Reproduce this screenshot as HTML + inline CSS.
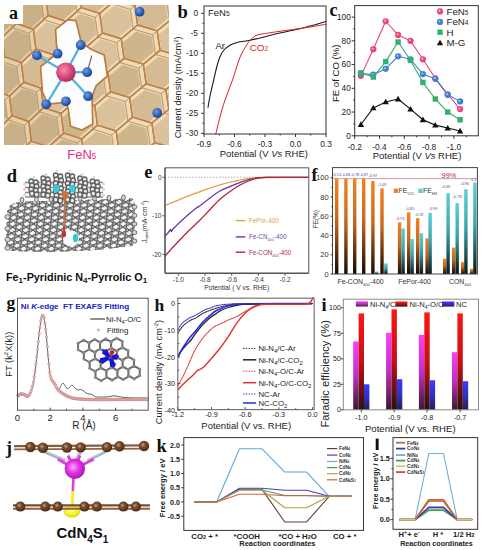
<!DOCTYPE html>
<html><head><meta charset="utf-8"><title>Figure</title>
<style>html,body{margin:0;padding:0;background:#fff;width:481px;height:550px;overflow:hidden;font-family:"Liberation Sans", sans-serif;}svg{display:block;}</style>
</head><body>
<svg width="481" height="550" viewBox="0 0 481 550"><defs><clipPath id="clipA"><polygon points="4,24 23,24 23,5 169,5 169,145 4,145"/></clipPath><radialGradient id="gN" cx="0.38" cy="0.35" r="0.7"><stop offset="0" stop-color="#6d9ee0"/><stop offset="0.6" stop-color="#2f62b8"/><stop offset="1" stop-color="#1d3f86"/></radialGradient><radialGradient id="gFe" cx="0.4" cy="0.38" r="0.7"><stop offset="0" stop-color="#f58db0"/><stop offset="0.55" stop-color="#d9457a"/><stop offset="1" stop-color="#a3274f"/></radialGradient><clipPath id="clipDL"><path d="M7,212 C8,206 12,203 20,202 L60,200.5 L100,199.5 L131,198.5 C134,199 135,202 135,206 L134,242 C134,245 132,246 128,246.5 L95,250 L50,252 L14,251 C8,250.5 6,248 6,245 Z"/></clipPath><clipPath id="clipDU"><path d="M24,182 L48,180.5 L52,175 L58,173 L76,173 L81,176 L84,180.5 L105,181.5 L105,200 L84,201 L80,205 L52,206 L48,202 L24,201 Z"/></clipPath><linearGradient id="gOr" x1="0" y1="0" x2="0" y2="1"><stop offset="0" stop-color="#f58220"/><stop offset="0.45" stop-color="#c8661c"/><stop offset="1" stop-color="#150a04"/></linearGradient><linearGradient id="gTe" x1="0" y1="0" x2="0" y2="1"><stop offset="0" stop-color="#5ccfd6"/><stop offset="0.45" stop-color="#3aa7ad"/><stop offset="1" stop-color="#06191a"/></linearGradient><linearGradient id="gMa" x1="0" y1="0" x2="0" y2="1"><stop offset="0" stop-color="#ff3cff"/><stop offset="0.5" stop-color="#c02ec8"/><stop offset="1" stop-color="#3a1a2a"/></linearGradient><linearGradient id="gRe" x1="0" y1="0" x2="0" y2="1"><stop offset="0" stop-color="#ff1515"/><stop offset="0.5" stop-color="#c41212"/><stop offset="1" stop-color="#2a1010"/></linearGradient><linearGradient id="gBl" x1="0" y1="0" x2="0" y2="1"><stop offset="0" stop-color="#3a3aff"/><stop offset="0.5" stop-color="#3030c8"/><stop offset="1" stop-color="#24204a"/></linearGradient><radialGradient id="gC" cx="0.4" cy="0.38" r="0.65"><stop offset="0" stop-color="#c9a285"/><stop offset="0.35" stop-color="#7a4d2e"/><stop offset="1" stop-color="#4a2a14"/></radialGradient><radialGradient id="gCd" cx="0.42" cy="0.42" r="0.65"><stop offset="0" stop-color="#ffa8ff"/><stop offset="0.45" stop-color="#e234e2"/><stop offset="1" stop-color="#a414ac"/></radialGradient><radialGradient id="gS" cx="0.45" cy="0.4" r="0.7"><stop offset="0" stop-color="#ffff9a"/><stop offset="0.6" stop-color="#f2ee22"/><stop offset="1" stop-color="#c8c000"/></radialGradient></defs><rect x="0" y="0" width="481" height="550" fill="#fff" stroke="none" stroke-width="1" />
<g clip-path="url(#clipA)">
<rect x="0" y="0" width="481" height="160" fill="#ead3ad" stroke="none" stroke-width="1" />
<polygon points="-18.34,123.63 -2.15,129.45 0.25,149.05 -13.64,162.83 -29.56,157.02 -31.86,137.42" fill="#e4cfaa" stroke="none" stroke-width="1" />
<polygon points="-19.69,130.07 -6.8,134.72 -4.89,150.4 -15.94,161.43 -28.66,156.77 -30.51,141.09" fill="#c9b089" stroke="none" stroke-width="1" />
<polygon points="0.25,149.05 16.87,154.87 19.34,174.47 5.08,188.25 -11.28,182.43 -13.64,162.83" fill="#e4cfaa" stroke="none" stroke-width="1" />
<polygon points="-1.14,155.48 12.1,160.14 14.06,175.82 2.72,186.84 -10.35,182.19 -12.25,166.51" fill="#c9b089" stroke="none" stroke-width="1" />
<polygon points="-25.33,64.83 -9.31,70.65 -6.93,90.25 -20.68,104.03 -36.43,98.22 -38.71,78.62" fill="#e4cfaa" stroke="none" stroke-width="1" />
<polygon points="-26.67,71.27 -13.91,75.92 -12.02,91.6 -22.96,102.63 -35.55,97.97 -37.37,82.29" fill="#c9b089" stroke="none" stroke-width="1" />
<polygon points="-6.93,90.25 9.52,96.07 11.96,115.67 -2.15,129.45 -18.34,123.63 -20.68,104.03" fill="#e4cfaa" stroke="none" stroke-width="1" />
<polygon points="-8.31,96.68 4.8,101.34 6.74,117.02 -4.49,128.04 -17.43,123.39 -19.3,107.71" fill="#c9b089" stroke="none" stroke-width="1" />
<polygon points="11.96,115.67 28.85,121.48 31.36,141.08 16.87,154.87 0.25,149.05 -2.15,129.45" fill="#e4cfaa" stroke="none" stroke-width="1" />
<polygon points="10.55,122.1 24.01,126.75 26,142.43 14.47,153.46 1.19,148.81 -0.74,133.13" fill="#c9b089" stroke="none" stroke-width="1" />
<polygon points="31.36,141.08 48.68,146.9 51.25,166.5 36.39,180.28 19.34,174.47 16.87,154.87" fill="#e4cfaa" stroke="none" stroke-width="1" />
<polygon points="29.91,147.52 43.71,152.17 45.75,167.85 33.93,178.88 20.3,174.22 18.32,158.54" fill="#c9b089" stroke="none" stroke-width="1" />
<polygon points="-14.04,31.45 2.25,37.27 4.66,56.87 -9.31,70.65 -25.33,64.83 -27.65,45.23" fill="#e4cfaa" stroke="none" stroke-width="1" />
<polygon points="-15.4,37.88 -2.43,42.54 -0.51,58.22 -11.63,69.24 -24.43,64.59 -26.29,48.91" fill="#c9b089" stroke="none" stroke-width="1" />
<polygon points="4.66,56.87 21.38,62.68 23.87,82.28 9.52,96.07 -6.93,90.25 -9.31,70.65" fill="#e4cfaa" stroke="none" stroke-width="1" />
<polygon points="3.27,63.3 16.59,67.95 18.56,83.63 7.14,94.66 -6.01,90.01 -7.91,74.33" fill="#c9b089" stroke="none" stroke-width="1" />
<polygon points="23.87,82.28 41.02,88.1 43.57,107.7 28.85,121.48 11.96,115.67 9.52,96.07" fill="#e4cfaa" stroke="none" stroke-width="1" />
<polygon points="22.43,88.72 36.1,93.37 38.12,109.05 26.41,120.08 12.91,115.42 10.96,99.74" fill="#c9b089" stroke="none" stroke-width="1" />
<polygon points="43.57,107.7 61.15,113.52 63.76,133.12 48.68,146.9 31.36,141.08 28.85,121.48" fill="#e4cfaa" stroke="none" stroke-width="1" />
<polygon points="42.1,114.13 56.11,118.79 58.19,134.47 46.18,145.49 32.33,140.84 30.32,125.16" fill="#c9b089" stroke="none" stroke-width="1" />
<polygon points="63.76,133.12 81.79,138.93 84.46,158.53 69,172.32 51.25,166.5 48.68,146.9" fill="#e4cfaa" stroke="none" stroke-width="1" />
<polygon points="62.26,139.55 76.62,144.2 78.74,159.88 66.44,170.91 52.25,166.26 50.19,150.58" fill="#c9b089" stroke="none" stroke-width="1" />
<polygon points="84.46,158.53 102.91,164.35 105.65,183.95 89.82,197.73 71.63,191.92 69,172.32" fill="#efdbb6" stroke="none" stroke-width="1" />
<polygon points="82.91,164.96 97.62,169.62 99.8,185.3 87.2,196.32 72.66,191.67 70.55,175.99" fill="#cfb58b" stroke="none" stroke-width="1" />
<polygon points="-21.08,-27.35 -4.96,-21.53 -2.56,-1.93 -16.4,11.85 -32.25,6.03 -34.54,-13.57" fill="#e4cfaa" stroke="none" stroke-width="1" />
<polygon points="-22.42,-20.92 -9.58,-16.26 -7.68,-0.58 -18.69,10.44 -31.36,5.79 -33.19,-9.89" fill="#c9b089" stroke="none" stroke-width="1" />
<polygon points="-2.56,-1.93 13.99,3.88 16.45,23.48 2.25,37.27 -14.04,31.45 -16.4,11.85" fill="#e4cfaa" stroke="none" stroke-width="1" />
<polygon points="-3.95,4.5 9.24,9.15 11.19,24.83 -0.11,35.86 -13.13,31.21 -15.01,15.53" fill="#c9b089" stroke="none" stroke-width="1" />
<polygon points="16.45,23.48 33.44,29.3 35.96,48.9 21.38,62.68 4.66,56.87 2.25,37.27" fill="#e4cfaa" stroke="none" stroke-width="1" />
<polygon points="15.03,29.92 28.57,34.57 30.57,50.25 18.97,61.28 5.6,56.62 3.67,40.94" fill="#c9b089" stroke="none" stroke-width="1" />
<polygon points="35.96,48.9 53.38,54.72 55.96,74.32 41.02,88.1 23.87,82.28 21.38,62.68" fill="#efdbb6" stroke="none" stroke-width="1" />
<polygon points="34.5,55.33 48.39,59.99 50.44,75.67 38.54,86.69 24.83,82.04 22.84,66.36" fill="#d4bb93" stroke="none" stroke-width="1" />
<polygon points="55.96,74.32 73.82,80.13 76.47,99.73 61.15,113.52 43.57,107.7 41.02,88.1" fill="#efdbb6" stroke="none" stroke-width="1" />
<polygon points="54.47,80.75 68.7,85.4 70.81,101.08 58.62,112.11 44.56,107.46 42.52,91.78" fill="#dac39c" stroke="none" stroke-width="1" />
<polygon points="76.47,99.73 94.76,105.55 97.47,125.15 81.79,138.93 63.76,133.12 61.15,113.52" fill="#efdbb6" stroke="none" stroke-width="1" />
<polygon points="74.94,106.16 89.52,110.82 91.67,126.5 79.18,137.52 64.78,132.87 62.69,117.19" fill="#cfb58b" stroke="none" stroke-width="1" />
<polygon points="97.47,125.15 116.19,130.97 118.97,150.57 102.91,164.35 84.46,158.53 81.79,138.93" fill="#efdbb6" stroke="none" stroke-width="1" />
<polygon points="95.9,131.58 110.83,136.23 113.03,151.91 100.25,162.94 85.5,158.29 83.36,142.61" fill="#d4bb93" stroke="none" stroke-width="1" />
<polygon points="118.97,150.57 138.12,156.38 140.96,175.98 124.54,189.77 105.65,183.95 102.91,164.35" fill="#efdbb6" stroke="none" stroke-width="1" />
<polygon points="117.37,157 132.64,161.65 134.89,177.33 121.81,188.36 106.71,183.7 104.52,168.02" fill="#dac39c" stroke="none" stroke-width="1" />
<polygon points="9.1,-35.32 25.93,-29.5 28.42,-9.9 13.99,3.88 -2.56,-1.93 -4.96,-21.53" fill="#e4cfaa" stroke="none" stroke-width="1" />
<polygon points="7.7,-28.88 21.1,-24.23 23.09,-8.55 11.6,2.48 -1.63,-2.18 -3.55,-17.86" fill="#c9b089" stroke="none" stroke-width="1" />
<polygon points="28.42,-9.9 45.68,-4.08 48.24,15.52 33.44,29.3 16.45,23.48 13.99,3.88" fill="#e4cfaa" stroke="none" stroke-width="1" />
<polygon points="26.98,-3.47 40.73,1.19 42.77,16.87 30.98,27.89 17.4,23.24 15.44,7.56" fill="#c9b089" stroke="none" stroke-width="1" />
<polygon points="48.24,15.52 65.93,21.33 68.55,40.93 53.38,54.72 35.96,48.9 33.44,29.3" fill="#efdbb6" stroke="none" stroke-width="1" />
<polygon points="46.76,21.95 60.86,26.6 62.94,42.28 50.86,53.31 36.94,48.66 34.92,32.98" fill="#dac39c" stroke="none" stroke-width="1" />
<polygon points="68.55,40.93 86.68,46.75 89.36,66.35 73.82,80.13 55.96,74.32 53.38,54.72" fill="#efdbb6" stroke="none" stroke-width="1" />
<polygon points="67.04,47.36 81.48,52.02 83.62,67.7 71.24,78.72 56.97,74.07 54.9,58.39" fill="#cfb58b" stroke="none" stroke-width="1" />
<polygon points="89.36,66.35 107.92,72.17 110.67,91.77 94.76,105.55 76.47,99.73 73.82,80.13" fill="#efdbb6" stroke="none" stroke-width="1" />
<polygon points="87.81,72.78 102.6,77.43 104.79,93.11 92.12,104.14 77.5,99.49 75.38,83.81" fill="#d4bb93" stroke="none" stroke-width="1" />
<polygon points="110.67,91.77 129.66,97.58 132.47,117.18 116.19,130.97 97.47,125.15 94.76,105.55" fill="#efdbb6" stroke="none" stroke-width="1" />
<polygon points="109.08,98.2 124.22,102.85 126.46,118.53 113.49,129.56 98.52,124.9 96.35,109.22" fill="#dac39c" stroke="none" stroke-width="1" />
<polygon points="132.47,117.18 151.9,123 154.78,142.6 138.12,156.38 118.97,150.57 116.19,130.97" fill="#efdbb6" stroke="none" stroke-width="1" />
<polygon points="130.85,123.61 146.33,128.27 148.62,143.95 135.36,154.97 120.05,150.32 117.82,134.64" fill="#cfb58b" stroke="none" stroke-width="1" />
<polygon points="154.78,142.6 174.63,148.41 177.57,168.01 160.55,181.8 140.96,175.98 138.12,156.38" fill="#efdbb6" stroke="none" stroke-width="1" />
<polygon points="153.12,149.03 168.95,153.68 171.29,169.36 157.73,180.39 142.07,175.74 139.79,160.06" fill="#d4bb93" stroke="none" stroke-width="1" />
<polygon points="40.59,-43.28 58.11,-37.47 60.71,-17.87 45.68,-4.08 28.42,-9.9 25.93,-29.5" fill="#efdbb6" stroke="none" stroke-width="1" />
<polygon points="39.12,-36.85 53.09,-32.2 55.15,-16.52 43.19,-5.49 29.39,-10.14 27.39,-25.82" fill="#dac39c" stroke="none" stroke-width="1" />
<polygon points="60.71,-17.87 78.67,-12.05 81.33,7.55 65.93,21.33 48.24,15.52 45.68,-4.08" fill="#efdbb6" stroke="none" stroke-width="1" />
<polygon points="59.21,-11.44 73.52,-6.78 75.64,8.9 63.37,19.92 49.24,15.27 47.18,-0.41" fill="#cfb58b" stroke="none" stroke-width="1" />
<polygon points="81.33,7.55 99.72,13.37 102.45,32.97 86.68,46.75 68.55,40.93 65.93,21.33" fill="#efdbb6" stroke="none" stroke-width="1" />
<polygon points="79.79,13.98 94.45,18.63 96.62,34.31 84.06,45.34 69.57,40.69 67.47,25.01" fill="#d4bb93" stroke="none" stroke-width="1" />
<polygon points="102.45,32.97 121.27,38.78 124.06,58.38 107.92,72.17 89.36,66.35 86.68,46.75" fill="#efdbb6" stroke="none" stroke-width="1" />
<polygon points="100.87,39.4 115.88,44.05 118.09,59.73 105.24,70.76 90.41,66.1 88.26,50.42" fill="#dac39c" stroke="none" stroke-width="1" />
<polygon points="124.06,58.38 143.32,64.2 146.17,83.8 129.66,97.58 110.67,91.77 107.92,72.17" fill="#efdbb6" stroke="none" stroke-width="1" />
<polygon points="122.45,64.81 137.8,69.47 140.07,85.15 126.92,96.17 111.74,91.52 109.54,75.84" fill="#cfb58b" stroke="none" stroke-width="1" />
<polygon points="146.17,83.8 165.86,89.61 168.78,109.21 151.9,123 132.47,117.18 129.66,97.58" fill="#efdbb6" stroke="none" stroke-width="1" />
<polygon points="144.52,90.23 160.22,94.88 162.54,110.56 149.1,121.59 133.57,116.94 131.32,101.26" fill="#d4bb93" stroke="none" stroke-width="1" />
<polygon points="168.78,109.21 188.91,115.03 191.88,134.63 174.63,148.41 154.78,142.6 151.9,123" fill="#efdbb6" stroke="none" stroke-width="1" />
<polygon points="167.1,115.65 183.14,120.3 185.51,135.98 171.77,147.01 155.9,142.35 153.59,126.67" fill="#dac39c" stroke="none" stroke-width="1" />
<polygon points="191.88,134.63 212.44,140.45 215.49,160.05 197.87,173.83 177.57,168.01 174.63,148.41" fill="#efdbb6" stroke="none" stroke-width="1" />
<polygon points="190.16,141.06 206.56,145.72 208.98,161.4 194.94,172.42 178.72,167.77 176.36,152.09" fill="#cfb58b" stroke="none" stroke-width="1" />
<polygon points="94.29,-25.83 112.95,-20.02 115.72,-0.42 99.72,13.37 81.33,7.55 78.67,-12.05" fill="#efdbb6" stroke="none" stroke-width="1" />
<polygon points="92.73,-19.4 107.61,-14.75 109.8,0.93 97.07,11.96 82.37,7.3 80.23,-8.38" fill="#d4bb93" stroke="none" stroke-width="1" />
<polygon points="115.72,-0.42 134.81,5.4 137.64,25 121.27,38.78 102.45,32.97 99.72,13.37" fill="#efdbb6" stroke="none" stroke-width="1" />
<polygon points="114.12,6.01 129.34,10.67 131.59,26.35 118.55,37.37 103.51,32.72 101.32,17.04" fill="#dac39c" stroke="none" stroke-width="1" />
<polygon points="137.64,25 157.17,30.81 160.06,50.41 143.32,64.2 124.06,58.38 121.27,38.78" fill="#efdbb6" stroke="none" stroke-width="1" />
<polygon points="136.01,31.43 151.57,36.08 153.87,51.76 140.54,62.79 125.15,58.14 122.91,42.46" fill="#cfb58b" stroke="none" stroke-width="1" />
<polygon points="160.06,50.41 180.02,56.23 182.97,75.83 165.86,89.61 146.17,83.8 143.32,64.2" fill="#efdbb6" stroke="none" stroke-width="1" />
<polygon points="158.39,56.85 174.3,61.5 176.65,77.18 163.02,88.21 147.28,83.55 145,67.87" fill="#d4bb93" stroke="none" stroke-width="1" />
<polygon points="182.97,75.83 203.37,81.65 206.38,101.25 188.91,115.03 168.78,109.21 165.86,89.61" fill="#efdbb6" stroke="none" stroke-width="1" />
<polygon points="181.27,82.26 197.52,86.92 199.93,102.6 186,113.62 169.91,108.97 167.58,93.29" fill="#dac39c" stroke="none" stroke-width="1" />
<polygon points="129.18,-33.8 148.54,-27.99 151.41,-8.39 134.81,5.4 115.72,-0.42 112.95,-20.02" fill="#efdbb6" stroke="none" stroke-width="1" />
<polygon points="127.56,-27.37 142.99,-22.72 145.27,-7.04 132.06,3.99 116.79,-0.66 114.58,-16.34" fill="#cfb58b" stroke="none" stroke-width="1" />
<polygon points="151.41,-8.39 171.2,-2.57 174.13,17.03 157.17,30.81 137.64,25 134.81,5.4" fill="#efdbb6" stroke="none" stroke-width="1" />
<polygon points="149.75,-1.95 165.53,2.7 167.86,18.38 154.35,29.41 138.74,24.75 136.47,9.07" fill="#d4bb93" stroke="none" stroke-width="1" />
<polygon points="174.13,17.03 194.36,22.85 197.35,42.45 180.02,56.23 160.06,50.41 157.17,30.81" fill="#efdbb6" stroke="none" stroke-width="1" />
<polygon points="172.44,23.46 188.57,28.12 190.95,43.8 177.14,54.82 161.18,50.17 158.87,34.49" fill="#dac39c" stroke="none" stroke-width="1" />
<polygon points="197.35,42.45 218.01,48.26 221.07,67.86 203.37,81.65 182.97,75.83 180.02,56.23" fill="#efdbb6" stroke="none" stroke-width="1" />
<polygon points="195.62,48.88 212.1,53.53 214.53,69.21 200.42,80.24 184.12,75.59 181.76,59.91" fill="#cfb58b" stroke="none" stroke-width="1" />
<polygon points="165.36,-41.77 185.43,-35.95 188.4,-16.35 171.2,-2.57 151.41,-8.39 148.54,-27.99" fill="#efdbb6" stroke="none" stroke-width="1" />
<polygon points="163.69,-35.34 179.68,-30.68 182.04,-15 168.35,-3.98 152.52,-8.63 150.23,-24.31" fill="#d4bb93" stroke="none" stroke-width="1" />
<polygon points="188.4,-16.35 208.89,-10.54 211.92,9.06 194.36,22.85 174.13,17.03 171.2,-2.57" fill="#efdbb6" stroke="none" stroke-width="1" />
<polygon points="186.68,-9.92 203.02,-5.27 205.43,10.41 191.44,21.44 175.27,16.79 172.93,1.11" fill="#dac39c" stroke="none" stroke-width="1" />
<polygon points="-22.84,127.63 -6.65,133.45 -4.25,153.05 -18.14,166.83 -34.06,161.02 -36.36,141.42" fill="none" stroke="#a8875e" stroke-width="0.9" stroke-linejoin="round" opacity="0.55"/>
<polygon points="-4.25,153.05 12.37,158.87 14.84,178.47 0.58,192.25 -15.78,186.43 -18.14,166.83" fill="none" stroke="#a8875e" stroke-width="0.9" stroke-linejoin="round" opacity="0.55"/>
<polygon points="-29.83,68.83 -13.81,74.65 -11.43,94.25 -25.18,108.03 -40.93,102.22 -43.21,82.62" fill="none" stroke="#a8875e" stroke-width="0.9" stroke-linejoin="round" opacity="0.55"/>
<polygon points="-11.43,94.25 5.02,100.07 7.46,119.67 -6.65,133.45 -22.84,127.63 -25.18,108.03" fill="none" stroke="#a8875e" stroke-width="0.9" stroke-linejoin="round" opacity="0.55"/>
<polygon points="7.46,119.67 24.35,125.48 26.86,145.08 12.37,158.87 -4.25,153.05 -6.65,133.45" fill="none" stroke="#a8875e" stroke-width="0.9" stroke-linejoin="round" opacity="0.55"/>
<polygon points="26.86,145.08 44.18,150.9 46.75,170.5 31.89,184.28 14.84,178.47 12.37,158.87" fill="none" stroke="#a8875e" stroke-width="0.9" stroke-linejoin="round" opacity="0.55"/>
<polygon points="-18.54,35.45 -2.25,41.27 0.16,60.87 -13.81,74.65 -29.83,68.83 -32.15,49.23" fill="none" stroke="#a8875e" stroke-width="0.9" stroke-linejoin="round" opacity="0.55"/>
<polygon points="0.16,60.87 16.88,66.68 19.37,86.28 5.02,100.07 -11.43,94.25 -13.81,74.65" fill="none" stroke="#a8875e" stroke-width="0.9" stroke-linejoin="round" opacity="0.55"/>
<polygon points="19.37,86.28 36.52,92.1 39.07,111.7 24.35,125.48 7.46,119.67 5.02,100.07" fill="none" stroke="#a8875e" stroke-width="0.9" stroke-linejoin="round" opacity="0.55"/>
<polygon points="39.07,111.7 56.65,117.52 59.26,137.12 44.18,150.9 26.86,145.08 24.35,125.48" fill="none" stroke="#a8875e" stroke-width="0.9" stroke-linejoin="round" opacity="0.55"/>
<polygon points="59.26,137.12 77.29,142.93 79.96,162.53 64.5,176.32 46.75,170.5 44.18,150.9" fill="none" stroke="#a8875e" stroke-width="0.9" stroke-linejoin="round" opacity="0.55"/>
<polygon points="79.96,162.53 98.41,168.35 101.15,187.95 85.32,201.73 67.13,195.92 64.5,176.32" fill="none" stroke="#a8875e" stroke-width="0.9" stroke-linejoin="round" opacity="0.55"/>
<polygon points="-25.58,-23.35 -9.46,-17.53 -7.06,2.07 -20.9,15.85 -36.75,10.03 -39.04,-9.57" fill="none" stroke="#a8875e" stroke-width="0.9" stroke-linejoin="round" opacity="0.55"/>
<polygon points="-7.06,2.07 9.49,7.88 11.95,27.48 -2.25,41.27 -18.54,35.45 -20.9,15.85" fill="none" stroke="#a8875e" stroke-width="0.9" stroke-linejoin="round" opacity="0.55"/>
<polygon points="11.95,27.48 28.94,33.3 31.46,52.9 16.88,66.68 0.16,60.87 -2.25,41.27" fill="none" stroke="#a8875e" stroke-width="0.9" stroke-linejoin="round" opacity="0.55"/>
<polygon points="31.46,52.9 48.88,58.72 51.46,78.32 36.52,92.1 19.37,86.28 16.88,66.68" fill="none" stroke="#a8875e" stroke-width="0.9" stroke-linejoin="round" opacity="0.55"/>
<polygon points="51.46,78.32 69.32,84.13 71.97,103.73 56.65,117.52 39.07,111.7 36.52,92.1" fill="none" stroke="#a8875e" stroke-width="0.9" stroke-linejoin="round" opacity="0.55"/>
<polygon points="71.97,103.73 90.26,109.55 92.97,129.15 77.29,142.93 59.26,137.12 56.65,117.52" fill="none" stroke="#a8875e" stroke-width="0.9" stroke-linejoin="round" opacity="0.55"/>
<polygon points="92.97,129.15 111.69,134.97 114.47,154.57 98.41,168.35 79.96,162.53 77.29,142.93" fill="none" stroke="#a8875e" stroke-width="0.9" stroke-linejoin="round" opacity="0.55"/>
<polygon points="114.47,154.57 133.62,160.38 136.46,179.98 120.04,193.77 101.15,187.95 98.41,168.35" fill="none" stroke="#a8875e" stroke-width="0.9" stroke-linejoin="round" opacity="0.55"/>
<polygon points="4.6,-31.32 21.43,-25.5 23.92,-5.9 9.49,7.88 -7.06,2.07 -9.46,-17.53" fill="none" stroke="#a8875e" stroke-width="0.9" stroke-linejoin="round" opacity="0.55"/>
<polygon points="23.92,-5.9 41.18,-0.08 43.74,19.52 28.94,33.3 11.95,27.48 9.49,7.88" fill="none" stroke="#a8875e" stroke-width="0.9" stroke-linejoin="round" opacity="0.55"/>
<polygon points="43.74,19.52 61.43,25.33 64.05,44.93 48.88,58.72 31.46,52.9 28.94,33.3" fill="none" stroke="#a8875e" stroke-width="0.9" stroke-linejoin="round" opacity="0.55"/>
<polygon points="64.05,44.93 82.18,50.75 84.86,70.35 69.32,84.13 51.46,78.32 48.88,58.72" fill="none" stroke="#a8875e" stroke-width="0.9" stroke-linejoin="round" opacity="0.55"/>
<polygon points="84.86,70.35 103.42,76.17 106.17,95.77 90.26,109.55 71.97,103.73 69.32,84.13" fill="none" stroke="#a8875e" stroke-width="0.9" stroke-linejoin="round" opacity="0.55"/>
<polygon points="106.17,95.77 125.16,101.58 127.97,121.18 111.69,134.97 92.97,129.15 90.26,109.55" fill="none" stroke="#a8875e" stroke-width="0.9" stroke-linejoin="round" opacity="0.55"/>
<polygon points="127.97,121.18 147.4,127 150.28,146.6 133.62,160.38 114.47,154.57 111.69,134.97" fill="none" stroke="#a8875e" stroke-width="0.9" stroke-linejoin="round" opacity="0.55"/>
<polygon points="150.28,146.6 170.13,152.41 173.07,172.01 156.05,185.8 136.46,179.98 133.62,160.38" fill="none" stroke="#a8875e" stroke-width="0.9" stroke-linejoin="round" opacity="0.55"/>
<polygon points="36.09,-39.28 53.61,-33.47 56.21,-13.87 41.18,-0.08 23.92,-5.9 21.43,-25.5" fill="none" stroke="#a8875e" stroke-width="0.9" stroke-linejoin="round" opacity="0.55"/>
<polygon points="56.21,-13.87 74.17,-8.05 76.83,11.55 61.43,25.33 43.74,19.52 41.18,-0.08" fill="none" stroke="#a8875e" stroke-width="0.9" stroke-linejoin="round" opacity="0.55"/>
<polygon points="76.83,11.55 95.22,17.37 97.95,36.97 82.18,50.75 64.05,44.93 61.43,25.33" fill="none" stroke="#a8875e" stroke-width="0.9" stroke-linejoin="round" opacity="0.55"/>
<polygon points="97.95,36.97 116.77,42.78 119.56,62.38 103.42,76.17 84.86,70.35 82.18,50.75" fill="none" stroke="#a8875e" stroke-width="0.9" stroke-linejoin="round" opacity="0.55"/>
<polygon points="119.56,62.38 138.82,68.2 141.67,87.8 125.16,101.58 106.17,95.77 103.42,76.17" fill="none" stroke="#a8875e" stroke-width="0.9" stroke-linejoin="round" opacity="0.55"/>
<polygon points="141.67,87.8 161.36,93.61 164.28,113.21 147.4,127 127.97,121.18 125.16,101.58" fill="none" stroke="#a8875e" stroke-width="0.9" stroke-linejoin="round" opacity="0.55"/>
<polygon points="164.28,113.21 184.41,119.03 187.38,138.63 170.13,152.41 150.28,146.6 147.4,127" fill="none" stroke="#a8875e" stroke-width="0.9" stroke-linejoin="round" opacity="0.55"/>
<polygon points="187.38,138.63 207.94,144.45 210.99,164.05 193.37,177.83 173.07,172.01 170.13,152.41" fill="none" stroke="#a8875e" stroke-width="0.9" stroke-linejoin="round" opacity="0.55"/>
<polygon points="89.79,-21.83 108.45,-16.02 111.22,3.58 95.22,17.37 76.83,11.55 74.17,-8.05" fill="none" stroke="#a8875e" stroke-width="0.9" stroke-linejoin="round" opacity="0.55"/>
<polygon points="111.22,3.58 130.31,9.4 133.14,29 116.77,42.78 97.95,36.97 95.22,17.37" fill="none" stroke="#a8875e" stroke-width="0.9" stroke-linejoin="round" opacity="0.55"/>
<polygon points="133.14,29 152.67,34.81 155.56,54.41 138.82,68.2 119.56,62.38 116.77,42.78" fill="none" stroke="#a8875e" stroke-width="0.9" stroke-linejoin="round" opacity="0.55"/>
<polygon points="155.56,54.41 175.52,60.23 178.47,79.83 161.36,93.61 141.67,87.8 138.82,68.2" fill="none" stroke="#a8875e" stroke-width="0.9" stroke-linejoin="round" opacity="0.55"/>
<polygon points="178.47,79.83 198.87,85.65 201.88,105.25 184.41,119.03 164.28,113.21 161.36,93.61" fill="none" stroke="#a8875e" stroke-width="0.9" stroke-linejoin="round" opacity="0.55"/>
<polygon points="124.68,-29.8 144.04,-23.99 146.91,-4.39 130.31,9.4 111.22,3.58 108.45,-16.02" fill="none" stroke="#a8875e" stroke-width="0.9" stroke-linejoin="round" opacity="0.55"/>
<polygon points="146.91,-4.39 166.7,1.43 169.63,21.03 152.67,34.81 133.14,29 130.31,9.4" fill="none" stroke="#a8875e" stroke-width="0.9" stroke-linejoin="round" opacity="0.55"/>
<polygon points="169.63,21.03 189.86,26.85 192.85,46.45 175.52,60.23 155.56,54.41 152.67,34.81" fill="none" stroke="#a8875e" stroke-width="0.9" stroke-linejoin="round" opacity="0.55"/>
<polygon points="192.85,46.45 213.51,52.26 216.57,71.86 198.87,85.65 178.47,79.83 175.52,60.23" fill="none" stroke="#a8875e" stroke-width="0.9" stroke-linejoin="round" opacity="0.55"/>
<polygon points="160.86,-37.77 180.93,-31.95 183.9,-12.35 166.7,1.43 146.91,-4.39 144.04,-23.99" fill="none" stroke="#a8875e" stroke-width="0.9" stroke-linejoin="round" opacity="0.55"/>
<polygon points="183.9,-12.35 204.39,-6.54 207.42,13.06 189.86,26.85 169.63,21.03 166.7,1.43" fill="none" stroke="#a8875e" stroke-width="0.9" stroke-linejoin="round" opacity="0.55"/>
<polygon points="-18.34,123.63 -2.15,129.45 0.25,149.05 -13.64,162.83 -29.56,157.02 -31.86,137.42" fill="none" stroke="#bf8148" stroke-width="1.4" stroke-linejoin="round"/>
<polygon points="0.25,149.05 16.87,154.87 19.34,174.47 5.08,188.25 -11.28,182.43 -13.64,162.83" fill="none" stroke="#bf8148" stroke-width="1.4" stroke-linejoin="round"/>
<polygon points="-25.33,64.83 -9.31,70.65 -6.93,90.25 -20.68,104.03 -36.43,98.22 -38.71,78.62" fill="none" stroke="#bf8148" stroke-width="1.4" stroke-linejoin="round"/>
<polygon points="-6.93,90.25 9.52,96.07 11.96,115.67 -2.15,129.45 -18.34,123.63 -20.68,104.03" fill="none" stroke="#bf8148" stroke-width="1.4" stroke-linejoin="round"/>
<polygon points="11.96,115.67 28.85,121.48 31.36,141.08 16.87,154.87 0.25,149.05 -2.15,129.45" fill="none" stroke="#bf8148" stroke-width="1.4" stroke-linejoin="round"/>
<polygon points="31.36,141.08 48.68,146.9 51.25,166.5 36.39,180.28 19.34,174.47 16.87,154.87" fill="none" stroke="#bf8148" stroke-width="1.4" stroke-linejoin="round"/>
<polygon points="-14.04,31.45 2.25,37.27 4.66,56.87 -9.31,70.65 -25.33,64.83 -27.65,45.23" fill="none" stroke="#bf8148" stroke-width="1.4" stroke-linejoin="round"/>
<polygon points="4.66,56.87 21.38,62.68 23.87,82.28 9.52,96.07 -6.93,90.25 -9.31,70.65" fill="none" stroke="#bf8148" stroke-width="1.4" stroke-linejoin="round"/>
<polygon points="23.87,82.28 41.02,88.1 43.57,107.7 28.85,121.48 11.96,115.67 9.52,96.07" fill="none" stroke="#bf8148" stroke-width="1.4" stroke-linejoin="round"/>
<polygon points="43.57,107.7 61.15,113.52 63.76,133.12 48.68,146.9 31.36,141.08 28.85,121.48" fill="none" stroke="#bf8148" stroke-width="1.4" stroke-linejoin="round"/>
<polygon points="63.76,133.12 81.79,138.93 84.46,158.53 69,172.32 51.25,166.5 48.68,146.9" fill="none" stroke="#bf8148" stroke-width="1.4" stroke-linejoin="round"/>
<polygon points="84.46,158.53 102.91,164.35 105.65,183.95 89.82,197.73 71.63,191.92 69,172.32" fill="none" stroke="#bf8148" stroke-width="1.4" stroke-linejoin="round"/>
<polygon points="-21.08,-27.35 -4.96,-21.53 -2.56,-1.93 -16.4,11.85 -32.25,6.03 -34.54,-13.57" fill="none" stroke="#bf8148" stroke-width="1.4" stroke-linejoin="round"/>
<polygon points="-2.56,-1.93 13.99,3.88 16.45,23.48 2.25,37.27 -14.04,31.45 -16.4,11.85" fill="none" stroke="#bf8148" stroke-width="1.4" stroke-linejoin="round"/>
<polygon points="16.45,23.48 33.44,29.3 35.96,48.9 21.38,62.68 4.66,56.87 2.25,37.27" fill="none" stroke="#bf8148" stroke-width="1.4" stroke-linejoin="round"/>
<polygon points="35.96,48.9 53.38,54.72 55.96,74.32 41.02,88.1 23.87,82.28 21.38,62.68" fill="none" stroke="#bf8148" stroke-width="1.4" stroke-linejoin="round"/>
<polygon points="55.96,74.32 73.82,80.13 76.47,99.73 61.15,113.52 43.57,107.7 41.02,88.1" fill="none" stroke="#bf8148" stroke-width="1.4" stroke-linejoin="round"/>
<polygon points="76.47,99.73 94.76,105.55 97.47,125.15 81.79,138.93 63.76,133.12 61.15,113.52" fill="none" stroke="#bf8148" stroke-width="1.4" stroke-linejoin="round"/>
<polygon points="97.47,125.15 116.19,130.97 118.97,150.57 102.91,164.35 84.46,158.53 81.79,138.93" fill="none" stroke="#bf8148" stroke-width="1.4" stroke-linejoin="round"/>
<polygon points="118.97,150.57 138.12,156.38 140.96,175.98 124.54,189.77 105.65,183.95 102.91,164.35" fill="none" stroke="#bf8148" stroke-width="1.4" stroke-linejoin="round"/>
<polygon points="9.1,-35.32 25.93,-29.5 28.42,-9.9 13.99,3.88 -2.56,-1.93 -4.96,-21.53" fill="none" stroke="#bf8148" stroke-width="1.4" stroke-linejoin="round"/>
<polygon points="28.42,-9.9 45.68,-4.08 48.24,15.52 33.44,29.3 16.45,23.48 13.99,3.88" fill="none" stroke="#bf8148" stroke-width="1.4" stroke-linejoin="round"/>
<polygon points="48.24,15.52 65.93,21.33 68.55,40.93 53.38,54.72 35.96,48.9 33.44,29.3" fill="none" stroke="#bf8148" stroke-width="1.4" stroke-linejoin="round"/>
<polygon points="68.55,40.93 86.68,46.75 89.36,66.35 73.82,80.13 55.96,74.32 53.38,54.72" fill="none" stroke="#bf8148" stroke-width="1.4" stroke-linejoin="round"/>
<polygon points="89.36,66.35 107.92,72.17 110.67,91.77 94.76,105.55 76.47,99.73 73.82,80.13" fill="none" stroke="#bf8148" stroke-width="1.4" stroke-linejoin="round"/>
<polygon points="110.67,91.77 129.66,97.58 132.47,117.18 116.19,130.97 97.47,125.15 94.76,105.55" fill="none" stroke="#bf8148" stroke-width="1.4" stroke-linejoin="round"/>
<polygon points="132.47,117.18 151.9,123 154.78,142.6 138.12,156.38 118.97,150.57 116.19,130.97" fill="none" stroke="#bf8148" stroke-width="1.4" stroke-linejoin="round"/>
<polygon points="154.78,142.6 174.63,148.41 177.57,168.01 160.55,181.8 140.96,175.98 138.12,156.38" fill="none" stroke="#bf8148" stroke-width="1.4" stroke-linejoin="round"/>
<polygon points="40.59,-43.28 58.11,-37.47 60.71,-17.87 45.68,-4.08 28.42,-9.9 25.93,-29.5" fill="none" stroke="#bf8148" stroke-width="1.4" stroke-linejoin="round"/>
<polygon points="60.71,-17.87 78.67,-12.05 81.33,7.55 65.93,21.33 48.24,15.52 45.68,-4.08" fill="none" stroke="#bf8148" stroke-width="1.4" stroke-linejoin="round"/>
<polygon points="81.33,7.55 99.72,13.37 102.45,32.97 86.68,46.75 68.55,40.93 65.93,21.33" fill="none" stroke="#bf8148" stroke-width="1.4" stroke-linejoin="round"/>
<polygon points="102.45,32.97 121.27,38.78 124.06,58.38 107.92,72.17 89.36,66.35 86.68,46.75" fill="none" stroke="#bf8148" stroke-width="1.4" stroke-linejoin="round"/>
<polygon points="124.06,58.38 143.32,64.2 146.17,83.8 129.66,97.58 110.67,91.77 107.92,72.17" fill="none" stroke="#bf8148" stroke-width="1.4" stroke-linejoin="round"/>
<polygon points="146.17,83.8 165.86,89.61 168.78,109.21 151.9,123 132.47,117.18 129.66,97.58" fill="none" stroke="#bf8148" stroke-width="1.4" stroke-linejoin="round"/>
<polygon points="168.78,109.21 188.91,115.03 191.88,134.63 174.63,148.41 154.78,142.6 151.9,123" fill="none" stroke="#bf8148" stroke-width="1.4" stroke-linejoin="round"/>
<polygon points="191.88,134.63 212.44,140.45 215.49,160.05 197.87,173.83 177.57,168.01 174.63,148.41" fill="none" stroke="#bf8148" stroke-width="1.4" stroke-linejoin="round"/>
<polygon points="94.29,-25.83 112.95,-20.02 115.72,-0.42 99.72,13.37 81.33,7.55 78.67,-12.05" fill="none" stroke="#bf8148" stroke-width="1.4" stroke-linejoin="round"/>
<polygon points="115.72,-0.42 134.81,5.4 137.64,25 121.27,38.78 102.45,32.97 99.72,13.37" fill="none" stroke="#bf8148" stroke-width="1.4" stroke-linejoin="round"/>
<polygon points="137.64,25 157.17,30.81 160.06,50.41 143.32,64.2 124.06,58.38 121.27,38.78" fill="none" stroke="#bf8148" stroke-width="1.4" stroke-linejoin="round"/>
<polygon points="160.06,50.41 180.02,56.23 182.97,75.83 165.86,89.61 146.17,83.8 143.32,64.2" fill="none" stroke="#bf8148" stroke-width="1.4" stroke-linejoin="round"/>
<polygon points="182.97,75.83 203.37,81.65 206.38,101.25 188.91,115.03 168.78,109.21 165.86,89.61" fill="none" stroke="#bf8148" stroke-width="1.4" stroke-linejoin="round"/>
<polygon points="129.18,-33.8 148.54,-27.99 151.41,-8.39 134.81,5.4 115.72,-0.42 112.95,-20.02" fill="none" stroke="#bf8148" stroke-width="1.4" stroke-linejoin="round"/>
<polygon points="151.41,-8.39 171.2,-2.57 174.13,17.03 157.17,30.81 137.64,25 134.81,5.4" fill="none" stroke="#bf8148" stroke-width="1.4" stroke-linejoin="round"/>
<polygon points="174.13,17.03 194.36,22.85 197.35,42.45 180.02,56.23 160.06,50.41 157.17,30.81" fill="none" stroke="#bf8148" stroke-width="1.4" stroke-linejoin="round"/>
<polygon points="197.35,42.45 218.01,48.26 221.07,67.86 203.37,81.65 182.97,75.83 180.02,56.23" fill="none" stroke="#bf8148" stroke-width="1.4" stroke-linejoin="round"/>
<polygon points="165.36,-41.77 185.43,-35.95 188.4,-16.35 171.2,-2.57 151.41,-8.39 148.54,-27.99" fill="none" stroke="#bf8148" stroke-width="1.4" stroke-linejoin="round"/>
<polygon points="188.4,-16.35 208.89,-10.54 211.92,9.06 194.36,22.85 174.13,17.03 171.2,-2.57" fill="none" stroke="#bf8148" stroke-width="1.4" stroke-linejoin="round"/>
<polygon points="55.6,29.4 68,19.7 75.9,20.6 78.6,31.2 81.2,42.7 91.8,49.8 104.2,55 107.5,76 96.4,85.3 92,96.2 92.8,124 82,130 70.6,126.3 68,107.7 65.3,102.4 47.7,104.2 42.4,91.8 40.6,66.5 47.7,61.2 58.3,52.4 56.5,45.3" fill="#fdfdfd" stroke="#b87c42" stroke-width="1.7" stroke-linejoin="round"/>
<line x1="91.8" y1="55.5" x2="88.3" y2="68.3" stroke="#7a5a3a" stroke-width="1.1" />
</g>
<text x="9" y="19" font-size="18" text-anchor="start" font-weight="bold" font-family='"Liberation Serif", serif' fill="#111" >a</text>
<line x1="65.9" y1="72.2" x2="37" y2="55.4" stroke="#4fb3e3" stroke-width="2.3" />
<line x1="65.9" y1="72.2" x2="80.7" y2="45" stroke="#4fb3e3" stroke-width="2.3" />
<line x1="65.9" y1="72.2" x2="87.2" y2="72.2" stroke="#4fb3e3" stroke-width="2.3" />
<line x1="65.9" y1="72.2" x2="88.1" y2="96.2" stroke="#4fb3e3" stroke-width="2.3" />
<line x1="65.9" y1="72.2" x2="46.2" y2="104.3" stroke="#4fb3e3" stroke-width="2.3" />
<circle cx="37" cy="55.4" r="4.9" fill="url(#gN)" stroke="none" stroke-width="1" />
<circle cx="80.7" cy="45" r="4.9" fill="url(#gN)" stroke="none" stroke-width="1" />
<circle cx="87.2" cy="72.2" r="4.9" fill="url(#gN)" stroke="none" stroke-width="1" />
<circle cx="88.1" cy="96.2" r="4.9" fill="url(#gN)" stroke="none" stroke-width="1" />
<circle cx="46.2" cy="104.3" r="4.9" fill="url(#gN)" stroke="none" stroke-width="1" />
<circle cx="57.6" cy="53.7" r="4.9" fill="url(#gN)" stroke="none" stroke-width="1" />
<circle cx="65.9" cy="101.3" r="4.9" fill="url(#gN)" stroke="none" stroke-width="1" />
<circle cx="139.6" cy="11.7" r="4.9" fill="url(#gN)" stroke="none" stroke-width="1" />
<circle cx="157.2" cy="113" r="4.9" fill="url(#gN)" stroke="none" stroke-width="1" />
<circle cx="65.9" cy="72.2" r="9.8" fill="url(#gFe)" stroke="none" stroke-width="1" />
<text x="67.3" y="158.7" font-size="13" text-anchor="start" font-weight="normal" font-family='"Liberation Sans", sans-serif' fill="#e8307a" >FeN<tspan font-size="8.3">5</tspan></text>
<path d="M208,107.5 C208.33,105.58 209.05,100.58 210,96 C210.95,91.42 212.53,85 213.7,80 C214.87,75 215.95,69.88 217,66 C218.05,62.12 218.83,59.37 220,56.7 C221.17,54.03 222.33,51.9 224,50 C225.67,48.1 227.67,46.6 230,45.3 C232.33,44 234.67,43.03 238,42.2 C241.33,41.37 243,41.83 250,40.3 C257,38.77 271,35.1 280,33 C289,30.9 296.33,29.62 304,27.7 C311.67,25.78 322.33,22.53 326,21.5" fill="none" stroke="#1a1a1a" stroke-width="1.1" stroke-linejoin="round" stroke-linecap="round" />
<path d="M215.8,134 C216.5,131.17 218.47,122.67 220,117 C221.53,111.33 222.92,106.17 225,100 C227.08,93.83 230.28,86.33 232.5,80 C234.72,73.67 236.72,66.5 238.3,62 C239.88,57.5 240.6,55.83 242,53 C243.4,50.17 245.37,47.08 246.7,45 C248.03,42.92 248.62,42 250,40.5 C251.38,39 253.33,37.02 255,36 C256.67,34.98 258.05,34.85 260,34.4 C261.95,33.95 263.37,33.82 266.7,33.3 C270.03,32.78 273.78,32.2 280,31.3 C286.22,30.4 296.33,29.07 304,27.9 C311.67,26.73 322.33,24.9 326,24.3" fill="none" stroke="#e02020" stroke-width="1" stroke-linejoin="round" stroke-linecap="round" />
<rect x="204" y="6" width="122" height="128" fill="none" stroke="#333" stroke-width="1" />
<line x1="201" y1="13.3" x2="204" y2="13.3" stroke="#333" stroke-width="1" />
<line x1="201" y1="33.3" x2="204" y2="33.3" stroke="#333" stroke-width="1" />
<line x1="201" y1="53.3" x2="204" y2="53.3" stroke="#333" stroke-width="1" />
<line x1="201" y1="73.3" x2="204" y2="73.3" stroke="#333" stroke-width="1" />
<line x1="201" y1="93.3" x2="204" y2="93.3" stroke="#333" stroke-width="1" />
<line x1="201" y1="113.3" x2="204" y2="113.3" stroke="#333" stroke-width="1" />
<line x1="201" y1="133.3" x2="204" y2="133.3" stroke="#333" stroke-width="1" />
<line x1="202.5" y1="23.3" x2="204" y2="23.3" stroke="#333" stroke-width="1" />
<line x1="202.5" y1="43.3" x2="204" y2="43.3" stroke="#333" stroke-width="1" />
<line x1="202.5" y1="63.3" x2="204" y2="63.3" stroke="#333" stroke-width="1" />
<line x1="202.5" y1="83.3" x2="204" y2="83.3" stroke="#333" stroke-width="1" />
<line x1="202.5" y1="103.3" x2="204" y2="103.3" stroke="#333" stroke-width="1" />
<line x1="202.5" y1="123.3" x2="204" y2="123.3" stroke="#333" stroke-width="1" />
<line x1="204" y1="134" x2="204" y2="137" stroke="#333" stroke-width="1" />
<line x1="234.5" y1="134" x2="234.5" y2="137" stroke="#333" stroke-width="1" />
<line x1="265" y1="134" x2="265" y2="137" stroke="#333" stroke-width="1" />
<line x1="295.5" y1="134" x2="295.5" y2="137" stroke="#333" stroke-width="1" />
<line x1="326" y1="134" x2="326" y2="137" stroke="#333" stroke-width="1" />
<line x1="219.25" y1="134" x2="219.25" y2="135.5" stroke="#333" stroke-width="1" />
<line x1="249.75" y1="134" x2="249.75" y2="135.5" stroke="#333" stroke-width="1" />
<line x1="280.25" y1="134" x2="280.25" y2="135.5" stroke="#333" stroke-width="1" />
<line x1="310.75" y1="134" x2="310.75" y2="135.5" stroke="#333" stroke-width="1" />
<text x="198" y="16.2" font-size="8.3" text-anchor="end" font-weight="normal" font-family='"Liberation Sans", sans-serif' fill="#222" >0</text>
<text x="198" y="36.2" font-size="8.3" text-anchor="end" font-weight="normal" font-family='"Liberation Sans", sans-serif' fill="#222" >-5</text>
<text x="198" y="56.2" font-size="8.3" text-anchor="end" font-weight="normal" font-family='"Liberation Sans", sans-serif' fill="#222" >-10</text>
<text x="198" y="76.2" font-size="8.3" text-anchor="end" font-weight="normal" font-family='"Liberation Sans", sans-serif' fill="#222" >-15</text>
<text x="198" y="96.2" font-size="8.3" text-anchor="end" font-weight="normal" font-family='"Liberation Sans", sans-serif' fill="#222" >-20</text>
<text x="198" y="116.2" font-size="8.3" text-anchor="end" font-weight="normal" font-family='"Liberation Sans", sans-serif' fill="#222" >-25</text>
<text x="198" y="136.2" font-size="8.3" text-anchor="end" font-weight="normal" font-family='"Liberation Sans", sans-serif' fill="#222" >-30</text>
<text x="204" y="147.2" font-size="8.3" text-anchor="middle" font-weight="normal" font-family='"Liberation Sans", sans-serif' fill="#222" >-0.9</text>
<text x="234.5" y="147.2" font-size="8.3" text-anchor="middle" font-weight="normal" font-family='"Liberation Sans", sans-serif' fill="#222" >-0.6</text>
<text x="265" y="147.2" font-size="8.3" text-anchor="middle" font-weight="normal" font-family='"Liberation Sans", sans-serif' fill="#222" >-0.3</text>
<text x="295.5" y="147.2" font-size="8.3" text-anchor="middle" font-weight="normal" font-family='"Liberation Sans", sans-serif' fill="#222" >0.0</text>
<text x="326" y="147.2" font-size="8.3" text-anchor="middle" font-weight="normal" font-family='"Liberation Sans", sans-serif' fill="#222" >0.3</text>
<text x="263.8" y="157.1" font-size="9.45" text-anchor="middle" font-weight="normal" font-family='"Liberation Sans", sans-serif' fill="#222" >Potential (V <tspan font-style="italic">Vs</tspan> RHE)</text>
<text x="181.2" y="87.4" font-size="9.1" text-anchor="middle" font-weight="normal" font-family='"Liberation Sans", sans-serif' fill="#222" transform="rotate(-90 181.2 87.4)" >Current density (mA/cm<tspan font-size="6" dy="-3">2</tspan><tspan dy="3">)</tspan></text>
<text x="208" y="16.3" font-size="9.5" text-anchor="start" font-weight="normal" font-family='"Liberation Sans", sans-serif' fill="#222" >FeN<tspan font-size="6.5">5</tspan></text>
<text x="215.5" y="49.2" font-size="9.5" text-anchor="start" font-weight="normal" font-family='"Liberation Sans", sans-serif' fill="#222" >Ar</text>
<text x="249.8" y="51.2" font-size="9.8" text-anchor="start" font-weight="normal" font-family='"Liberation Sans", sans-serif' fill="#e02020" >CO<tspan font-size="6.5">2</tspan></text>
<text x="177.6" y="18.2" font-size="18.5" text-anchor="start" font-weight="bold" font-family='"Liberation Serif", serif' fill="#111" >b</text>
<rect x="354.7" y="5.6" width="123.6" height="130.2" fill="none" stroke="#333" stroke-width="1" />
<line x1="351.7" y1="135.8" x2="354.7" y2="135.8" stroke="#333" stroke-width="1" />
<line x1="351.7" y1="112.06" x2="354.7" y2="112.06" stroke="#333" stroke-width="1" />
<line x1="351.7" y1="88.32" x2="354.7" y2="88.32" stroke="#333" stroke-width="1" />
<line x1="351.7" y1="64.58" x2="354.7" y2="64.58" stroke="#333" stroke-width="1" />
<line x1="351.7" y1="40.84" x2="354.7" y2="40.84" stroke="#333" stroke-width="1" />
<line x1="351.7" y1="17.1" x2="354.7" y2="17.1" stroke="#333" stroke-width="1" />
<line x1="353.2" y1="123.93" x2="354.7" y2="123.93" stroke="#333" stroke-width="1" />
<line x1="353.2" y1="100.19" x2="354.7" y2="100.19" stroke="#333" stroke-width="1" />
<line x1="353.2" y1="76.45" x2="354.7" y2="76.45" stroke="#333" stroke-width="1" />
<line x1="353.2" y1="52.71" x2="354.7" y2="52.71" stroke="#333" stroke-width="1" />
<line x1="353.2" y1="28.97" x2="354.7" y2="28.97" stroke="#333" stroke-width="1" />
<line x1="354.7" y1="135.8" x2="354.7" y2="138.8" stroke="#333" stroke-width="1" />
<line x1="379.5" y1="135.8" x2="379.5" y2="138.8" stroke="#333" stroke-width="1" />
<line x1="404.3" y1="135.8" x2="404.3" y2="138.8" stroke="#333" stroke-width="1" />
<line x1="429.1" y1="135.8" x2="429.1" y2="138.8" stroke="#333" stroke-width="1" />
<line x1="453.9" y1="135.8" x2="453.9" y2="138.8" stroke="#333" stroke-width="1" />
<line x1="367.1" y1="135.8" x2="367.1" y2="137.3" stroke="#333" stroke-width="1" />
<line x1="391.9" y1="135.8" x2="391.9" y2="137.3" stroke="#333" stroke-width="1" />
<line x1="416.7" y1="135.8" x2="416.7" y2="137.3" stroke="#333" stroke-width="1" />
<line x1="441.5" y1="135.8" x2="441.5" y2="137.3" stroke="#333" stroke-width="1" />
<line x1="466.3" y1="135.8" x2="466.3" y2="137.3" stroke="#333" stroke-width="1" />
<text x="350.8" y="138.7" font-size="8.3" text-anchor="end" font-weight="normal" font-family='"Liberation Sans", sans-serif' fill="#222" >0</text>
<text x="350.8" y="114.96" font-size="8.3" text-anchor="end" font-weight="normal" font-family='"Liberation Sans", sans-serif' fill="#222" >20</text>
<text x="350.8" y="91.22" font-size="8.3" text-anchor="end" font-weight="normal" font-family='"Liberation Sans", sans-serif' fill="#222" >40</text>
<text x="350.8" y="67.48" font-size="8.3" text-anchor="end" font-weight="normal" font-family='"Liberation Sans", sans-serif' fill="#222" >60</text>
<text x="350.8" y="43.74" font-size="8.3" text-anchor="end" font-weight="normal" font-family='"Liberation Sans", sans-serif' fill="#222" >80</text>
<text x="350.8" y="20" font-size="8.3" text-anchor="end" font-weight="normal" font-family='"Liberation Sans", sans-serif' fill="#222" >100</text>
<text x="354.7" y="149.5" font-size="8.3" text-anchor="middle" font-weight="normal" font-family='"Liberation Sans", sans-serif' fill="#222" >-0.2</text>
<text x="379.5" y="149.5" font-size="8.3" text-anchor="middle" font-weight="normal" font-family='"Liberation Sans", sans-serif' fill="#222" >-0.4</text>
<text x="404.3" y="149.5" font-size="8.3" text-anchor="middle" font-weight="normal" font-family='"Liberation Sans", sans-serif' fill="#222" >-0.6</text>
<text x="429.1" y="149.5" font-size="8.3" text-anchor="middle" font-weight="normal" font-family='"Liberation Sans", sans-serif' fill="#222" >-0.8</text>
<text x="453.9" y="149.5" font-size="8.3" text-anchor="middle" font-weight="normal" font-family='"Liberation Sans", sans-serif' fill="#222" >-1.0</text>
<text x="417" y="158.6" font-size="9.5" text-anchor="middle" font-weight="normal" font-family='"Liberation Sans", sans-serif' fill="#222" >Potential (V <tspan font-style="italic">Vs</tspan> RHE)</text>
<text x="339.2" y="73.3" font-size="9.6" text-anchor="middle" font-weight="normal" font-family='"Liberation Sans", sans-serif' fill="#222" transform="rotate(-90 339.2 73.3)" >FE of CO (%)</text>
<text x="329.5" y="15.9" font-size="18" text-anchor="start" font-weight="bold" font-family='"Liberation Serif", serif' fill="#111" >c</text>
<polyline points="360.9,75.86 373.3,49.15 385.7,21.25 398.1,34.91 410.5,40.84 422.9,59.24 435.3,78.23 447.7,94.26 460.1,109.09" fill="none" stroke="#e8457c" stroke-width="1.1" stroke-linejoin="round" stroke-linecap="round" />
<polyline points="360.9,73.48 373.3,74.67 385.7,68.73 398.1,56.27 410.5,59.24 422.9,74.08 435.3,78.82 447.7,94.85 460.1,101.38" fill="none" stroke="#3f7fd0" stroke-width="1.1" stroke-linejoin="round" stroke-linecap="round" />
<polyline points="360.9,72.89 373.3,77.04 385.7,61.61 398.1,42.03 410.5,60.43 422.9,82.39 435.3,99 447.7,112.06 460.1,119.78" fill="none" stroke="#33b070" stroke-width="1.1" stroke-linejoin="round" stroke-linecap="round" />
<polyline points="360.9,124.52 373.3,107.91 385.7,101.97 398.1,99 410.5,109.09 422.9,119.78 435.3,125.12 447.7,128.08 460.1,131.05" fill="none" stroke="#111111" stroke-width="1.1" stroke-linejoin="round" stroke-linecap="round" />
<circle cx="360.9" cy="75.86" r="3.1" fill="#e8457c" stroke="none" stroke-width="1" />
<circle cx="360.3" cy="75.26" r="1.1" fill="#fff" stroke="none" stroke-width="1" opacity="0.55"/>
<circle cx="373.3" cy="49.15" r="3.1" fill="#e8457c" stroke="none" stroke-width="1" />
<circle cx="372.7" cy="48.55" r="1.1" fill="#fff" stroke="none" stroke-width="1" opacity="0.55"/>
<circle cx="385.7" cy="21.25" r="3.1" fill="#e8457c" stroke="none" stroke-width="1" />
<circle cx="385.1" cy="20.65" r="1.1" fill="#fff" stroke="none" stroke-width="1" opacity="0.55"/>
<circle cx="398.1" cy="34.91" r="3.1" fill="#e8457c" stroke="none" stroke-width="1" />
<circle cx="397.5" cy="34.3" r="1.1" fill="#fff" stroke="none" stroke-width="1" opacity="0.55"/>
<circle cx="410.5" cy="40.84" r="3.1" fill="#e8457c" stroke="none" stroke-width="1" />
<circle cx="409.9" cy="40.24" r="1.1" fill="#fff" stroke="none" stroke-width="1" opacity="0.55"/>
<circle cx="422.9" cy="59.24" r="3.1" fill="#e8457c" stroke="none" stroke-width="1" />
<circle cx="422.3" cy="58.64" r="1.1" fill="#fff" stroke="none" stroke-width="1" opacity="0.55"/>
<circle cx="435.3" cy="78.23" r="3.1" fill="#e8457c" stroke="none" stroke-width="1" />
<circle cx="434.7" cy="77.63" r="1.1" fill="#fff" stroke="none" stroke-width="1" opacity="0.55"/>
<circle cx="447.7" cy="94.26" r="3.1" fill="#e8457c" stroke="none" stroke-width="1" />
<circle cx="447.1" cy="93.66" r="1.1" fill="#fff" stroke="none" stroke-width="1" opacity="0.55"/>
<circle cx="460.1" cy="109.09" r="3.1" fill="#e8457c" stroke="none" stroke-width="1" />
<circle cx="459.5" cy="108.49" r="1.1" fill="#fff" stroke="none" stroke-width="1" opacity="0.55"/>
<circle cx="360.9" cy="73.48" r="3.1" fill="#3f7fd0" stroke="none" stroke-width="1" />
<circle cx="360.3" cy="72.88" r="1.1" fill="#fff" stroke="none" stroke-width="1" opacity="0.55"/>
<circle cx="373.3" cy="74.67" r="3.1" fill="#3f7fd0" stroke="none" stroke-width="1" />
<circle cx="372.7" cy="74.07" r="1.1" fill="#fff" stroke="none" stroke-width="1" opacity="0.55"/>
<circle cx="385.7" cy="68.73" r="3.1" fill="#3f7fd0" stroke="none" stroke-width="1" />
<circle cx="385.1" cy="68.13" r="1.1" fill="#fff" stroke="none" stroke-width="1" opacity="0.55"/>
<circle cx="398.1" cy="56.27" r="3.1" fill="#3f7fd0" stroke="none" stroke-width="1" />
<circle cx="397.5" cy="55.67" r="1.1" fill="#fff" stroke="none" stroke-width="1" opacity="0.55"/>
<circle cx="410.5" cy="59.24" r="3.1" fill="#3f7fd0" stroke="none" stroke-width="1" />
<circle cx="409.9" cy="58.64" r="1.1" fill="#fff" stroke="none" stroke-width="1" opacity="0.55"/>
<circle cx="422.9" cy="74.08" r="3.1" fill="#3f7fd0" stroke="none" stroke-width="1" />
<circle cx="422.3" cy="73.48" r="1.1" fill="#fff" stroke="none" stroke-width="1" opacity="0.55"/>
<circle cx="435.3" cy="78.82" r="3.1" fill="#3f7fd0" stroke="none" stroke-width="1" />
<circle cx="434.7" cy="78.22" r="1.1" fill="#fff" stroke="none" stroke-width="1" opacity="0.55"/>
<circle cx="447.7" cy="94.85" r="3.1" fill="#3f7fd0" stroke="none" stroke-width="1" />
<circle cx="447.1" cy="94.25" r="1.1" fill="#fff" stroke="none" stroke-width="1" opacity="0.55"/>
<circle cx="460.1" cy="101.38" r="3.1" fill="#3f7fd0" stroke="none" stroke-width="1" />
<circle cx="459.5" cy="100.78" r="1.1" fill="#fff" stroke="none" stroke-width="1" opacity="0.55"/>
<rect x="358.2" y="70.19" width="5.4" height="5.4" fill="#33b070" stroke="none" stroke-width="1" />
<rect x="370.6" y="74.34" width="5.4" height="5.4" fill="#33b070" stroke="none" stroke-width="1" />
<rect x="383" y="58.91" width="5.4" height="5.4" fill="#33b070" stroke="none" stroke-width="1" />
<rect x="395.4" y="39.33" width="5.4" height="5.4" fill="#33b070" stroke="none" stroke-width="1" />
<rect x="407.8" y="57.73" width="5.4" height="5.4" fill="#33b070" stroke="none" stroke-width="1" />
<rect x="420.2" y="79.69" width="5.4" height="5.4" fill="#33b070" stroke="none" stroke-width="1" />
<rect x="432.6" y="96.3" width="5.4" height="5.4" fill="#33b070" stroke="none" stroke-width="1" />
<rect x="445" y="109.36" width="5.4" height="5.4" fill="#33b070" stroke="none" stroke-width="1" />
<rect x="457.4" y="117.08" width="5.4" height="5.4" fill="#33b070" stroke="none" stroke-width="1" />
<polygon points="360.9,121.32 357.7,126.92 364.1,126.92" fill="#111111" stroke="none" stroke-width="1" />
<polygon points="373.3,104.71 370.1,110.31 376.5,110.31" fill="#111111" stroke="none" stroke-width="1" />
<polygon points="385.7,98.77 382.5,104.37 388.9,104.37" fill="#111111" stroke="none" stroke-width="1" />
<polygon points="398.1,95.8 394.9,101.4 401.3,101.4" fill="#111111" stroke="none" stroke-width="1" />
<polygon points="410.5,105.89 407.3,111.49 413.7,111.49" fill="#111111" stroke="none" stroke-width="1" />
<polygon points="422.9,116.58 419.7,122.18 426.1,122.18" fill="#111111" stroke="none" stroke-width="1" />
<polygon points="435.3,121.92 432.1,127.52 438.5,127.52" fill="#111111" stroke="none" stroke-width="1" />
<polygon points="447.7,124.88 444.5,130.48 450.9,130.48" fill="#111111" stroke="none" stroke-width="1" />
<polygon points="460.1,127.85 456.9,133.45 463.3,133.45" fill="#111111" stroke="none" stroke-width="1" />
<circle cx="440" cy="11.4" r="3.1" fill="#e8457c" stroke="none" stroke-width="1" />
<circle cx="439.4" cy="10.8" r="1.1" fill="#fff" stroke="none" stroke-width="1" opacity="0.55"/>
<text x="446.5" y="14.9" font-size="9.7" text-anchor="start" font-weight="normal" font-family='"Liberation Sans", sans-serif' fill="#222" >FeN<tspan font-size="6.5">5</tspan></text>
<circle cx="440" cy="21.9" r="3.1" fill="#3f7fd0" stroke="none" stroke-width="1" />
<circle cx="439.4" cy="21.3" r="1.1" fill="#fff" stroke="none" stroke-width="1" opacity="0.55"/>
<text x="446.5" y="25.4" font-size="9.7" text-anchor="start" font-weight="normal" font-family='"Liberation Sans", sans-serif' fill="#222" >FeN<tspan font-size="6.5">4</tspan></text>
<rect x="437.3" y="29.5" width="5.4" height="5.4" fill="#33b070" stroke="none" stroke-width="1" />
<text x="446.5" y="35.7" font-size="9.7" text-anchor="start" font-weight="normal" font-family='"Liberation Sans", sans-serif' fill="#222" >H</text>
<polygon points="440,39.7 436.8,45.3 443.2,45.3" fill="#111111" stroke="none" stroke-width="1" />
<text x="446.5" y="46.4" font-size="9.7" text-anchor="start" font-weight="normal" font-family='"Liberation Sans", sans-serif' fill="#222" >M-G</text>
<g fill="#f4f4f4" stroke="#686868" stroke-width="2.1" stroke-linejoin="round" clip-path="url(#clipDL)"><polygon points="6.6,199 3.93,202.11 -0.67,202.11 -2.6,199 0.07,195.89 4.67,195.89"/><polygon points="5.85,205.21 3.18,208.32 -1.42,208.32 -3.35,205.21 -0.67,202.11 3.93,202.11"/><polygon points="5.11,211.43 2.44,214.54 -2.16,214.54 -4.09,211.43 -1.42,208.32 3.18,208.32"/><polygon points="4.36,217.64 1.69,220.75 -2.91,220.75 -4.84,217.64 -2.16,214.54 2.44,214.54"/><polygon points="3.62,223.86 0.94,226.97 -3.66,226.97 -5.58,223.86 -2.91,220.75 1.69,220.75"/><polygon points="2.87,230.07 0.2,233.18 -4.4,233.18 -6.33,230.07 -3.66,226.97 0.94,226.97"/><polygon points="2.13,236.29 -0.55,239.39 -5.15,239.39 -7.07,236.29 -4.4,233.18 0.2,233.18"/><polygon points="1.38,242.5 -1.29,245.61 -5.89,245.61 -7.82,242.5 -5.15,239.39 -0.55,239.39"/><polygon points="0.63,248.72 -2.04,251.82 -6.64,251.82 -8.57,248.72 -5.89,245.61 -1.29,245.61"/><polygon points="13.13,202.11 10.45,205.21 5.85,205.21 3.93,202.11 6.6,199 11.2,199"/><polygon points="12.38,208.32 9.71,211.43 5.11,211.43 3.18,208.32 5.85,205.21 10.45,205.21"/><polygon points="11.64,214.54 8.96,217.64 4.36,217.64 2.44,214.54 5.11,211.43 9.71,211.43"/><polygon points="10.89,220.75 8.22,223.86 3.62,223.86 1.69,220.75 4.36,217.64 8.96,217.64"/><polygon points="10.14,226.97 7.47,230.07 2.87,230.07 0.94,226.97 3.62,223.86 8.22,223.86"/><polygon points="9.4,233.18 6.73,236.29 2.13,236.29 0.2,233.18 2.87,230.07 7.47,230.07"/><polygon points="8.65,239.39 5.98,242.5 1.38,242.5 -0.55,239.39 2.13,236.29 6.73,236.29"/><polygon points="7.91,245.61 5.23,248.72 0.63,248.72 -1.29,245.61 1.38,242.5 5.98,242.5"/><polygon points="7.16,251.82 4.49,254.93 -0.11,254.93 -2.04,251.82 0.63,248.72 5.23,248.72"/><polygon points="20.4,199 17.73,202.11 13.13,202.11 11.2,199 13.87,195.89 18.47,195.89"/><polygon points="19.65,205.21 16.98,208.32 12.38,208.32 10.45,205.21 13.13,202.11 17.73,202.11"/><polygon points="18.91,211.43 16.24,214.54 11.64,214.54 9.71,211.43 12.38,208.32 16.98,208.32"/><polygon points="18.16,217.64 15.49,220.75 10.89,220.75 8.96,217.64 11.64,214.54 16.24,214.54"/><polygon points="17.42,223.86 14.74,226.97 10.14,226.97 8.22,223.86 10.89,220.75 15.49,220.75"/><polygon points="16.67,230.07 14,233.18 9.4,233.18 7.47,230.07 10.14,226.97 14.74,226.97"/><polygon points="15.93,236.29 13.25,239.39 8.65,239.39 6.73,236.29 9.4,233.18 14,233.18"/><polygon points="15.18,242.5 12.51,245.61 7.91,245.61 5.98,242.5 8.65,239.39 13.25,239.39"/><polygon points="14.43,248.72 11.76,251.82 7.16,251.82 5.23,248.72 7.91,245.61 12.51,245.61"/><polygon points="26.93,202.11 24.25,205.21 19.65,205.21 17.73,202.11 20.4,199 25,199"/><polygon points="26.18,208.32 23.51,211.43 18.91,211.43 16.98,208.32 19.65,205.21 24.25,205.21"/><polygon points="25.44,214.54 22.76,217.64 18.16,217.64 16.24,214.54 18.91,211.43 23.51,211.43"/><polygon points="24.69,220.75 22.02,223.86 17.42,223.86 15.49,220.75 18.16,217.64 22.76,217.64"/><polygon points="23.94,226.97 21.27,230.07 16.67,230.07 14.74,226.97 17.42,223.86 22.02,223.86"/><polygon points="23.2,233.18 20.53,236.29 15.93,236.29 14,233.18 16.67,230.07 21.27,230.07"/><polygon points="22.45,239.39 19.78,242.5 15.18,242.5 13.25,239.39 15.93,236.29 20.53,236.29"/><polygon points="21.71,245.61 19.03,248.72 14.43,248.72 12.51,245.61 15.18,242.5 19.78,242.5"/><polygon points="20.96,251.82 18.29,254.93 13.69,254.93 11.76,251.82 14.43,248.72 19.03,248.72"/><polygon points="34.2,199 31.53,202.11 26.93,202.11 25,199 27.67,195.89 32.27,195.89"/><polygon points="33.45,205.21 30.78,208.32 26.18,208.32 24.25,205.21 26.93,202.11 31.53,202.11"/><polygon points="32.71,211.43 30.04,214.54 25.44,214.54 23.51,211.43 26.18,208.32 30.78,208.32"/><polygon points="31.96,217.64 29.29,220.75 24.69,220.75 22.76,217.64 25.44,214.54 30.04,214.54"/><polygon points="31.22,223.86 28.54,226.97 23.94,226.97 22.02,223.86 24.69,220.75 29.29,220.75"/><polygon points="30.47,230.07 27.8,233.18 23.2,233.18 21.27,230.07 23.94,226.97 28.54,226.97"/><polygon points="29.73,236.29 27.05,239.39 22.45,239.39 20.53,236.29 23.2,233.18 27.8,233.18"/><polygon points="28.98,242.5 26.31,245.61 21.71,245.61 19.78,242.5 22.45,239.39 27.05,239.39"/><polygon points="28.23,248.72 25.56,251.82 20.96,251.82 19.03,248.72 21.71,245.61 26.31,245.61"/><polygon points="40.73,202.11 38.05,205.21 33.45,205.21 31.53,202.11 34.2,199 38.8,199"/><polygon points="39.98,208.32 37.31,211.43 32.71,211.43 30.78,208.32 33.45,205.21 38.05,205.21"/><polygon points="39.24,214.54 36.56,217.64 31.96,217.64 30.04,214.54 32.71,211.43 37.31,211.43"/><polygon points="38.49,220.75 35.82,223.86 31.22,223.86 29.29,220.75 31.96,217.64 36.56,217.64"/><polygon points="37.74,226.97 35.07,230.07 30.47,230.07 28.54,226.97 31.22,223.86 35.82,223.86"/><polygon points="37,233.18 34.33,236.29 29.73,236.29 27.8,233.18 30.47,230.07 35.07,230.07"/><polygon points="36.25,239.39 33.58,242.5 28.98,242.5 27.05,239.39 29.73,236.29 34.33,236.29"/><polygon points="35.51,245.61 32.83,248.72 28.23,248.72 26.31,245.61 28.98,242.5 33.58,242.5"/><polygon points="34.76,251.82 32.09,254.93 27.49,254.93 25.56,251.82 28.23,248.72 32.83,248.72"/><polygon points="48,199 45.33,202.11 40.73,202.11 38.8,199 41.47,195.89 46.07,195.89"/><polygon points="47.25,205.21 44.58,208.32 39.98,208.32 38.05,205.21 40.73,202.11 45.33,202.11"/><polygon points="46.51,211.43 43.84,214.54 39.24,214.54 37.31,211.43 39.98,208.32 44.58,208.32"/><polygon points="45.76,217.64 43.09,220.75 38.49,220.75 36.56,217.64 39.24,214.54 43.84,214.54"/><polygon points="45.02,223.86 42.34,226.97 37.74,226.97 35.82,223.86 38.49,220.75 43.09,220.75"/><polygon points="44.27,230.07 41.6,233.18 37,233.18 35.07,230.07 37.74,226.97 42.34,226.97"/><polygon points="43.53,236.29 40.85,239.39 36.25,239.39 34.33,236.29 37,233.18 41.6,233.18"/><polygon points="42.78,242.5 40.11,245.61 35.51,245.61 33.58,242.5 36.25,239.39 40.85,239.39"/><polygon points="42.03,248.72 39.36,251.82 34.76,251.82 32.83,248.72 35.51,245.61 40.11,245.61"/><polygon points="54.53,202.11 51.85,205.21 47.25,205.21 45.33,202.11 48,199 52.6,199"/><polygon points="53.78,208.32 51.11,211.43 46.51,211.43 44.58,208.32 47.25,205.21 51.85,205.21"/><polygon points="53.04,214.54 50.36,217.64 45.76,217.64 43.84,214.54 46.51,211.43 51.11,211.43"/><polygon points="52.29,220.75 49.62,223.86 45.02,223.86 43.09,220.75 45.76,217.64 50.36,217.64"/><polygon points="51.54,226.97 48.87,230.07 44.27,230.07 42.34,226.97 45.02,223.86 49.62,223.86"/><polygon points="50.8,233.18 48.13,236.29 43.53,236.29 41.6,233.18 44.27,230.07 48.87,230.07"/><polygon points="50.05,239.39 47.38,242.5 42.78,242.5 40.85,239.39 43.53,236.29 48.13,236.29"/><polygon points="49.31,245.61 46.63,248.72 42.03,248.72 40.11,245.61 42.78,242.5 47.38,242.5"/><polygon points="48.56,251.82 45.89,254.93 41.29,254.93 39.36,251.82 42.03,248.72 46.63,248.72"/><polygon points="61.8,199 59.13,202.11 54.53,202.11 52.6,199 55.27,195.89 59.87,195.89"/><polygon points="61.05,205.21 58.38,208.32 53.78,208.32 51.85,205.21 54.53,202.11 59.13,202.11"/><polygon points="60.31,211.43 57.64,214.54 53.04,214.54 51.11,211.43 53.78,208.32 58.38,208.32"/><polygon points="59.56,217.64 56.89,220.75 52.29,220.75 50.36,217.64 53.04,214.54 57.64,214.54"/><polygon points="58.82,223.86 56.14,226.97 51.54,226.97 49.62,223.86 52.29,220.75 56.89,220.75"/><polygon points="58.07,230.07 55.4,233.18 50.8,233.18 48.87,230.07 51.54,226.97 56.14,226.97"/><polygon points="57.33,236.29 54.65,239.39 50.05,239.39 48.13,236.29 50.8,233.18 55.4,233.18"/><polygon points="56.58,242.5 53.91,245.61 49.31,245.61 47.38,242.5 50.05,239.39 54.65,239.39"/><polygon points="55.83,248.72 53.16,251.82 48.56,251.82 46.63,248.72 49.31,245.61 53.91,245.61"/><polygon points="68.33,202.11 65.65,205.21 61.05,205.21 59.13,202.11 61.8,199 66.4,199"/><polygon points="67.58,208.32 64.91,211.43 60.31,211.43 58.38,208.32 61.05,205.21 65.65,205.21"/><polygon points="66.84,214.54 64.16,217.64 59.56,217.64 57.64,214.54 60.31,211.43 64.91,211.43"/><polygon points="66.09,220.75 63.42,223.86 58.82,223.86 56.89,220.75 59.56,217.64 64.16,217.64"/><polygon points="65.34,226.97 62.67,230.07 58.07,230.07 56.14,226.97 58.82,223.86 63.42,223.86"/><polygon points="64.6,233.18 61.93,236.29 57.33,236.29 55.4,233.18 58.07,230.07 62.67,230.07"/><polygon points="63.85,239.39 61.18,242.5 56.58,242.5 54.65,239.39 57.33,236.29 61.93,236.29"/><polygon points="63.11,245.61 60.43,248.72 55.83,248.72 53.91,245.61 56.58,242.5 61.18,242.5"/><polygon points="62.36,251.82 59.69,254.93 55.09,254.93 53.16,251.82 55.83,248.72 60.43,248.72"/><polygon points="75.6,199 72.93,202.11 68.33,202.11 66.4,199 69.07,195.89 73.67,195.89"/><polygon points="74.85,205.21 72.18,208.32 67.58,208.32 65.65,205.21 68.33,202.11 72.93,202.11"/><polygon points="74.11,211.43 71.44,214.54 66.84,214.54 64.91,211.43 67.58,208.32 72.18,208.32"/><polygon points="73.36,217.64 70.69,220.75 66.09,220.75 64.16,217.64 66.84,214.54 71.44,214.54"/><polygon points="72.62,223.86 69.94,226.97 65.34,226.97 63.42,223.86 66.09,220.75 70.69,220.75"/><polygon points="71.87,230.07 69.2,233.18 64.6,233.18 62.67,230.07 65.34,226.97 69.94,226.97"/><polygon points="71.13,236.29 68.45,239.39 63.85,239.39 61.93,236.29 64.6,233.18 69.2,233.18"/><polygon points="70.38,242.5 67.71,245.61 63.11,245.61 61.18,242.5 63.85,239.39 68.45,239.39"/><polygon points="69.63,248.72 66.96,251.82 62.36,251.82 60.43,248.72 63.11,245.61 67.71,245.61"/><polygon points="82.13,202.11 79.45,205.21 74.85,205.21 72.93,202.11 75.6,199 80.2,199"/><polygon points="81.38,208.32 78.71,211.43 74.11,211.43 72.18,208.32 74.85,205.21 79.45,205.21"/><polygon points="80.64,214.54 77.96,217.64 73.36,217.64 71.44,214.54 74.11,211.43 78.71,211.43"/><polygon points="79.89,220.75 77.22,223.86 72.62,223.86 70.69,220.75 73.36,217.64 77.96,217.64"/><polygon points="79.14,226.97 76.47,230.07 71.87,230.07 69.94,226.97 72.62,223.86 77.22,223.86"/><polygon points="78.4,233.18 75.73,236.29 71.13,236.29 69.2,233.18 71.87,230.07 76.47,230.07"/><polygon points="77.65,239.39 74.98,242.5 70.38,242.5 68.45,239.39 71.13,236.29 75.73,236.29"/><polygon points="76.91,245.61 74.23,248.72 69.63,248.72 67.71,245.61 70.38,242.5 74.98,242.5"/><polygon points="76.16,251.82 73.49,254.93 68.89,254.93 66.96,251.82 69.63,248.72 74.23,248.72"/><polygon points="89.4,199 86.73,202.11 82.13,202.11 80.2,199 82.87,195.89 87.47,195.89"/><polygon points="88.65,205.21 85.98,208.32 81.38,208.32 79.45,205.21 82.13,202.11 86.73,202.11"/><polygon points="87.91,211.43 85.24,214.54 80.64,214.54 78.71,211.43 81.38,208.32 85.98,208.32"/><polygon points="87.16,217.64 84.49,220.75 79.89,220.75 77.96,217.64 80.64,214.54 85.24,214.54"/><polygon points="86.42,223.86 83.74,226.97 79.14,226.97 77.22,223.86 79.89,220.75 84.49,220.75"/><polygon points="85.67,230.07 83,233.18 78.4,233.18 76.47,230.07 79.14,226.97 83.74,226.97"/><polygon points="84.93,236.29 82.25,239.39 77.65,239.39 75.73,236.29 78.4,233.18 83,233.18"/><polygon points="84.18,242.5 81.51,245.61 76.91,245.61 74.98,242.5 77.65,239.39 82.25,239.39"/><polygon points="83.43,248.72 80.76,251.82 76.16,251.82 74.23,248.72 76.91,245.61 81.51,245.61"/><polygon points="95.93,202.11 93.25,205.21 88.65,205.21 86.73,202.11 89.4,199 94,199"/><polygon points="95.18,208.32 92.51,211.43 87.91,211.43 85.98,208.32 88.65,205.21 93.25,205.21"/><polygon points="94.44,214.54 91.76,217.64 87.16,217.64 85.24,214.54 87.91,211.43 92.51,211.43"/><polygon points="93.69,220.75 91.02,223.86 86.42,223.86 84.49,220.75 87.16,217.64 91.76,217.64"/><polygon points="92.94,226.97 90.27,230.07 85.67,230.07 83.74,226.97 86.42,223.86 91.02,223.86"/><polygon points="92.2,233.18 89.53,236.29 84.93,236.29 83,233.18 85.67,230.07 90.27,230.07"/><polygon points="91.45,239.39 88.78,242.5 84.18,242.5 82.25,239.39 84.93,236.29 89.53,236.29"/><polygon points="90.71,245.61 88.03,248.72 83.43,248.72 81.51,245.61 84.18,242.5 88.78,242.5"/><polygon points="89.96,251.82 87.29,254.93 82.69,254.93 80.76,251.82 83.43,248.72 88.03,248.72"/><polygon points="103.2,199 100.53,202.11 95.93,202.11 94,199 96.67,195.89 101.27,195.89"/><polygon points="102.45,205.21 99.78,208.32 95.18,208.32 93.25,205.21 95.93,202.11 100.53,202.11"/><polygon points="101.71,211.43 99.04,214.54 94.44,214.54 92.51,211.43 95.18,208.32 99.78,208.32"/><polygon points="100.96,217.64 98.29,220.75 93.69,220.75 91.76,217.64 94.44,214.54 99.04,214.54"/><polygon points="100.22,223.86 97.54,226.97 92.94,226.97 91.02,223.86 93.69,220.75 98.29,220.75"/><polygon points="99.47,230.07 96.8,233.18 92.2,233.18 90.27,230.07 92.94,226.97 97.54,226.97"/><polygon points="98.73,236.29 96.05,239.39 91.45,239.39 89.53,236.29 92.2,233.18 96.8,233.18"/><polygon points="97.98,242.5 95.31,245.61 90.71,245.61 88.78,242.5 91.45,239.39 96.05,239.39"/><polygon points="97.23,248.72 94.56,251.82 89.96,251.82 88.03,248.72 90.71,245.61 95.31,245.61"/><polygon points="109.73,202.11 107.05,205.21 102.45,205.21 100.53,202.11 103.2,199 107.8,199"/><polygon points="108.98,208.32 106.31,211.43 101.71,211.43 99.78,208.32 102.45,205.21 107.05,205.21"/><polygon points="108.24,214.54 105.56,217.64 100.96,217.64 99.04,214.54 101.71,211.43 106.31,211.43"/><polygon points="107.49,220.75 104.82,223.86 100.22,223.86 98.29,220.75 100.96,217.64 105.56,217.64"/><polygon points="106.74,226.97 104.07,230.07 99.47,230.07 97.54,226.97 100.22,223.86 104.82,223.86"/><polygon points="106,233.18 103.33,236.29 98.73,236.29 96.8,233.18 99.47,230.07 104.07,230.07"/><polygon points="105.25,239.39 102.58,242.5 97.98,242.5 96.05,239.39 98.73,236.29 103.33,236.29"/><polygon points="104.51,245.61 101.83,248.72 97.23,248.72 95.31,245.61 97.98,242.5 102.58,242.5"/><polygon points="103.76,251.82 101.09,254.93 96.49,254.93 94.56,251.82 97.23,248.72 101.83,248.72"/><polygon points="117,199 114.33,202.11 109.73,202.11 107.8,199 110.47,195.89 115.07,195.89"/><polygon points="116.25,205.21 113.58,208.32 108.98,208.32 107.05,205.21 109.73,202.11 114.33,202.11"/><polygon points="115.51,211.43 112.84,214.54 108.24,214.54 106.31,211.43 108.98,208.32 113.58,208.32"/><polygon points="114.76,217.64 112.09,220.75 107.49,220.75 105.56,217.64 108.24,214.54 112.84,214.54"/><polygon points="114.02,223.86 111.34,226.97 106.74,226.97 104.82,223.86 107.49,220.75 112.09,220.75"/><polygon points="113.27,230.07 110.6,233.18 106,233.18 104.07,230.07 106.74,226.97 111.34,226.97"/><polygon points="112.53,236.29 109.85,239.39 105.25,239.39 103.33,236.29 106,233.18 110.6,233.18"/><polygon points="111.78,242.5 109.11,245.61 104.51,245.61 102.58,242.5 105.25,239.39 109.85,239.39"/><polygon points="111.03,248.72 108.36,251.82 103.76,251.82 101.83,248.72 104.51,245.61 109.11,245.61"/><polygon points="123.53,202.11 120.85,205.21 116.25,205.21 114.33,202.11 117,199 121.6,199"/><polygon points="122.78,208.32 120.11,211.43 115.51,211.43 113.58,208.32 116.25,205.21 120.85,205.21"/><polygon points="122.04,214.54 119.36,217.64 114.76,217.64 112.84,214.54 115.51,211.43 120.11,211.43"/><polygon points="121.29,220.75 118.62,223.86 114.02,223.86 112.09,220.75 114.76,217.64 119.36,217.64"/><polygon points="120.54,226.97 117.87,230.07 113.27,230.07 111.34,226.97 114.02,223.86 118.62,223.86"/><polygon points="119.8,233.18 117.13,236.29 112.53,236.29 110.6,233.18 113.27,230.07 117.87,230.07"/><polygon points="119.05,239.39 116.38,242.5 111.78,242.5 109.85,239.39 112.53,236.29 117.13,236.29"/><polygon points="118.31,245.61 115.63,248.72 111.03,248.72 109.11,245.61 111.78,242.5 116.38,242.5"/><polygon points="117.56,251.82 114.89,254.93 110.29,254.93 108.36,251.82 111.03,248.72 115.63,248.72"/><polygon points="130.8,199 128.13,202.11 123.53,202.11 121.6,199 124.27,195.89 128.87,195.89"/><polygon points="130.05,205.21 127.38,208.32 122.78,208.32 120.85,205.21 123.53,202.11 128.13,202.11"/><polygon points="129.31,211.43 126.64,214.54 122.04,214.54 120.11,211.43 122.78,208.32 127.38,208.32"/><polygon points="128.56,217.64 125.89,220.75 121.29,220.75 119.36,217.64 122.04,214.54 126.64,214.54"/><polygon points="127.82,223.86 125.14,226.97 120.54,226.97 118.62,223.86 121.29,220.75 125.89,220.75"/><polygon points="127.07,230.07 124.4,233.18 119.8,233.18 117.87,230.07 120.54,226.97 125.14,226.97"/><polygon points="126.33,236.29 123.65,239.39 119.05,239.39 117.13,236.29 119.8,233.18 124.4,233.18"/><polygon points="125.58,242.5 122.91,245.61 118.31,245.61 116.38,242.5 119.05,239.39 123.65,239.39"/><polygon points="124.83,248.72 122.16,251.82 117.56,251.82 115.63,248.72 118.31,245.61 122.91,245.61"/><polygon points="137.33,202.11 134.65,205.21 130.05,205.21 128.13,202.11 130.8,199 135.4,199"/><polygon points="136.58,208.32 133.91,211.43 129.31,211.43 127.38,208.32 130.05,205.21 134.65,205.21"/><polygon points="135.84,214.54 133.16,217.64 128.56,217.64 126.64,214.54 129.31,211.43 133.91,211.43"/><polygon points="135.09,220.75 132.42,223.86 127.82,223.86 125.89,220.75 128.56,217.64 133.16,217.64"/><polygon points="134.34,226.97 131.67,230.07 127.07,230.07 125.14,226.97 127.82,223.86 132.42,223.86"/><polygon points="133.6,233.18 130.93,236.29 126.33,236.29 124.4,233.18 127.07,230.07 131.67,230.07"/><polygon points="132.85,239.39 130.18,242.5 125.58,242.5 123.65,239.39 126.33,236.29 130.93,236.29"/><polygon points="132.11,245.61 129.43,248.72 124.83,248.72 122.91,245.61 125.58,242.5 130.18,242.5"/><polygon points="131.36,251.82 128.69,254.93 124.09,254.93 122.16,251.82 124.83,248.72 129.43,248.72"/><polygon points="144.6,199 141.93,202.11 137.33,202.11 135.4,199 138.07,195.89 142.67,195.89"/><polygon points="143.85,205.21 141.18,208.32 136.58,208.32 134.65,205.21 137.33,202.11 141.93,202.11"/><polygon points="143.11,211.43 140.44,214.54 135.84,214.54 133.91,211.43 136.58,208.32 141.18,208.32"/><polygon points="142.36,217.64 139.69,220.75 135.09,220.75 133.16,217.64 135.84,214.54 140.44,214.54"/><polygon points="141.62,223.86 138.94,226.97 134.34,226.97 132.42,223.86 135.09,220.75 139.69,220.75"/><polygon points="140.87,230.07 138.2,233.18 133.6,233.18 131.67,230.07 134.34,226.97 138.94,226.97"/><polygon points="140.13,236.29 137.45,239.39 132.85,239.39 130.93,236.29 133.6,233.18 138.2,233.18"/><polygon points="139.38,242.5 136.71,245.61 132.11,245.61 130.18,242.5 132.85,239.39 137.45,239.39"/><polygon points="138.63,248.72 135.96,251.82 131.36,251.82 129.43,248.72 132.11,245.61 136.71,245.61"/><polygon points="151.13,202.11 148.45,205.21 143.85,205.21 141.93,202.11 144.6,199 149.2,199"/><polygon points="150.38,208.32 147.71,211.43 143.11,211.43 141.18,208.32 143.85,205.21 148.45,205.21"/><polygon points="149.64,214.54 146.96,217.64 142.36,217.64 140.44,214.54 143.11,211.43 147.71,211.43"/><polygon points="148.89,220.75 146.22,223.86 141.62,223.86 139.69,220.75 142.36,217.64 146.96,217.64"/><polygon points="148.14,226.97 145.47,230.07 140.87,230.07 138.94,226.97 141.62,223.86 146.22,223.86"/><polygon points="147.4,233.18 144.73,236.29 140.13,236.29 138.2,233.18 140.87,230.07 145.47,230.07"/><polygon points="146.65,239.39 143.98,242.5 139.38,242.5 137.45,239.39 140.13,236.29 144.73,236.29"/><polygon points="145.91,245.61 143.23,248.72 138.63,248.72 136.71,245.61 139.38,242.5 143.98,242.5"/><polygon points="145.16,251.82 142.49,254.93 137.89,254.93 135.96,251.82 138.63,248.72 143.23,248.72"/><polygon points="158.4,199 155.73,202.11 151.13,202.11 149.2,199 151.87,195.89 156.47,195.89"/><polygon points="157.65,205.21 154.98,208.32 150.38,208.32 148.45,205.21 151.13,202.11 155.73,202.11"/><polygon points="156.91,211.43 154.24,214.54 149.64,214.54 147.71,211.43 150.38,208.32 154.98,208.32"/><polygon points="156.16,217.64 153.49,220.75 148.89,220.75 146.96,217.64 149.64,214.54 154.24,214.54"/><polygon points="155.42,223.86 152.74,226.97 148.14,226.97 146.22,223.86 148.89,220.75 153.49,220.75"/><polygon points="154.67,230.07 152,233.18 147.4,233.18 145.47,230.07 148.14,226.97 152.74,226.97"/><polygon points="153.93,236.29 151.25,239.39 146.65,239.39 144.73,236.29 147.4,233.18 152,233.18"/><polygon points="153.18,242.5 150.51,245.61 145.91,245.61 143.98,242.5 146.65,239.39 151.25,239.39"/><polygon points="152.43,248.72 149.76,251.82 145.16,251.82 143.23,248.72 145.91,245.61 150.51,245.61"/><polygon points="164.93,202.11 162.25,205.21 157.65,205.21 155.73,202.11 158.4,199 163,199"/><polygon points="164.18,208.32 161.51,211.43 156.91,211.43 154.98,208.32 157.65,205.21 162.25,205.21"/><polygon points="163.44,214.54 160.76,217.64 156.16,217.64 154.24,214.54 156.91,211.43 161.51,211.43"/><polygon points="162.69,220.75 160.02,223.86 155.42,223.86 153.49,220.75 156.16,217.64 160.76,217.64"/><polygon points="161.94,226.97 159.27,230.07 154.67,230.07 152.74,226.97 155.42,223.86 160.02,223.86"/><polygon points="161.2,233.18 158.53,236.29 153.93,236.29 152,233.18 154.67,230.07 159.27,230.07"/><polygon points="160.45,239.39 157.78,242.5 153.18,242.5 151.25,239.39 153.93,236.29 158.53,236.29"/><polygon points="159.71,245.61 157.03,248.72 152.43,248.72 150.51,245.61 153.18,242.5 157.78,242.5"/><polygon points="158.96,251.82 156.29,254.93 151.69,254.93 149.76,251.82 152.43,248.72 157.03,248.72"/></g>
<g fill="#a8a8a8" stroke="#5c5c5c" stroke-width="0.8" clip-path="url(#clipDL)"><ellipse cx="6.6" cy="199" rx="1.45" ry="1.85"/><ellipse cx="3.93" cy="202.11" rx="1.45" ry="1.85"/><ellipse cx="-0.67" cy="202.11" rx="1.45" ry="1.85"/><ellipse cx="-2.6" cy="199" rx="1.45" ry="1.85"/><ellipse cx="0.07" cy="195.89" rx="1.45" ry="1.85"/><ellipse cx="4.67" cy="195.89" rx="1.45" ry="1.85"/><ellipse cx="5.85" cy="205.21" rx="1.45" ry="1.85"/><ellipse cx="3.18" cy="208.32" rx="1.45" ry="1.85"/><ellipse cx="-1.42" cy="208.32" rx="1.45" ry="1.85"/><ellipse cx="-3.35" cy="205.21" rx="1.45" ry="1.85"/><ellipse cx="5.11" cy="211.43" rx="1.45" ry="1.85"/><ellipse cx="2.44" cy="214.54" rx="1.45" ry="1.85"/><ellipse cx="-2.16" cy="214.54" rx="1.45" ry="1.85"/><ellipse cx="-4.09" cy="211.43" rx="1.45" ry="1.85"/><ellipse cx="4.36" cy="217.64" rx="1.45" ry="1.85"/><ellipse cx="1.69" cy="220.75" rx="1.45" ry="1.85"/><ellipse cx="-2.91" cy="220.75" rx="1.45" ry="1.85"/><ellipse cx="-4.84" cy="217.64" rx="1.45" ry="1.85"/><ellipse cx="3.62" cy="223.86" rx="1.45" ry="1.85"/><ellipse cx="0.94" cy="226.97" rx="1.45" ry="1.85"/><ellipse cx="-3.66" cy="226.97" rx="1.45" ry="1.85"/><ellipse cx="-5.58" cy="223.86" rx="1.45" ry="1.85"/><ellipse cx="2.87" cy="230.07" rx="1.45" ry="1.85"/><ellipse cx="0.2" cy="233.18" rx="1.45" ry="1.85"/><ellipse cx="-4.4" cy="233.18" rx="1.45" ry="1.85"/><ellipse cx="-6.33" cy="230.07" rx="1.45" ry="1.85"/><ellipse cx="2.13" cy="236.29" rx="1.45" ry="1.85"/><ellipse cx="-0.55" cy="239.39" rx="1.45" ry="1.85"/><ellipse cx="-5.15" cy="239.39" rx="1.45" ry="1.85"/><ellipse cx="-7.07" cy="236.29" rx="1.45" ry="1.85"/><ellipse cx="1.38" cy="242.5" rx="1.45" ry="1.85"/><ellipse cx="-1.29" cy="245.61" rx="1.45" ry="1.85"/><ellipse cx="-5.89" cy="245.61" rx="1.45" ry="1.85"/><ellipse cx="-7.82" cy="242.5" rx="1.45" ry="1.85"/><ellipse cx="0.63" cy="248.72" rx="1.45" ry="1.85"/><ellipse cx="-2.04" cy="251.82" rx="1.45" ry="1.85"/><ellipse cx="-6.64" cy="251.82" rx="1.45" ry="1.85"/><ellipse cx="-8.57" cy="248.72" rx="1.45" ry="1.85"/><ellipse cx="13.13" cy="202.11" rx="1.45" ry="1.85"/><ellipse cx="10.45" cy="205.21" rx="1.45" ry="1.85"/><ellipse cx="11.2" cy="199" rx="1.45" ry="1.85"/><ellipse cx="12.38" cy="208.32" rx="1.45" ry="1.85"/><ellipse cx="9.71" cy="211.43" rx="1.45" ry="1.85"/><ellipse cx="11.64" cy="214.54" rx="1.45" ry="1.85"/><ellipse cx="8.96" cy="217.64" rx="1.45" ry="1.85"/><ellipse cx="10.89" cy="220.75" rx="1.45" ry="1.85"/><ellipse cx="8.22" cy="223.86" rx="1.45" ry="1.85"/><ellipse cx="10.14" cy="226.97" rx="1.45" ry="1.85"/><ellipse cx="7.47" cy="230.07" rx="1.45" ry="1.85"/><ellipse cx="9.4" cy="233.18" rx="1.45" ry="1.85"/><ellipse cx="6.73" cy="236.29" rx="1.45" ry="1.85"/><ellipse cx="8.65" cy="239.39" rx="1.45" ry="1.85"/><ellipse cx="5.98" cy="242.5" rx="1.45" ry="1.85"/><ellipse cx="7.91" cy="245.61" rx="1.45" ry="1.85"/><ellipse cx="5.23" cy="248.72" rx="1.45" ry="1.85"/><ellipse cx="7.16" cy="251.82" rx="1.45" ry="1.85"/><ellipse cx="4.49" cy="254.93" rx="1.45" ry="1.85"/><ellipse cx="-0.11" cy="254.93" rx="1.45" ry="1.85"/><ellipse cx="20.4" cy="199" rx="1.45" ry="1.85"/><ellipse cx="17.73" cy="202.11" rx="1.45" ry="1.85"/><ellipse cx="13.87" cy="195.89" rx="1.45" ry="1.85"/><ellipse cx="18.47" cy="195.89" rx="1.45" ry="1.85"/><ellipse cx="19.65" cy="205.21" rx="1.45" ry="1.85"/><ellipse cx="16.98" cy="208.32" rx="1.45" ry="1.85"/><ellipse cx="18.91" cy="211.43" rx="1.45" ry="1.85"/><ellipse cx="16.24" cy="214.54" rx="1.45" ry="1.85"/><ellipse cx="18.16" cy="217.64" rx="1.45" ry="1.85"/><ellipse cx="15.49" cy="220.75" rx="1.45" ry="1.85"/><ellipse cx="17.42" cy="223.86" rx="1.45" ry="1.85"/><ellipse cx="14.74" cy="226.97" rx="1.45" ry="1.85"/><ellipse cx="16.67" cy="230.07" rx="1.45" ry="1.85"/><ellipse cx="14" cy="233.18" rx="1.45" ry="1.85"/><ellipse cx="15.93" cy="236.29" rx="1.45" ry="1.85"/><ellipse cx="13.25" cy="239.39" rx="1.45" ry="1.85"/><ellipse cx="15.18" cy="242.5" rx="1.45" ry="1.85"/><ellipse cx="12.51" cy="245.61" rx="1.45" ry="1.85"/><ellipse cx="14.43" cy="248.72" rx="1.45" ry="1.85"/><ellipse cx="11.76" cy="251.82" rx="1.45" ry="1.85"/><ellipse cx="26.93" cy="202.11" rx="1.45" ry="1.85"/><ellipse cx="24.25" cy="205.21" rx="1.45" ry="1.85"/><ellipse cx="25" cy="199" rx="1.45" ry="1.85"/><ellipse cx="26.18" cy="208.32" rx="1.45" ry="1.85"/><ellipse cx="23.51" cy="211.43" rx="1.45" ry="1.85"/><ellipse cx="25.44" cy="214.54" rx="1.45" ry="1.85"/><ellipse cx="22.76" cy="217.64" rx="1.45" ry="1.85"/><ellipse cx="24.69" cy="220.75" rx="1.45" ry="1.85"/><ellipse cx="22.02" cy="223.86" rx="1.45" ry="1.85"/><ellipse cx="23.94" cy="226.97" rx="1.45" ry="1.85"/><ellipse cx="21.27" cy="230.07" rx="1.45" ry="1.85"/><ellipse cx="23.2" cy="233.18" rx="1.45" ry="1.85"/><ellipse cx="20.53" cy="236.29" rx="1.45" ry="1.85"/><ellipse cx="22.45" cy="239.39" rx="1.45" ry="1.85"/><ellipse cx="19.78" cy="242.5" rx="1.45" ry="1.85"/><ellipse cx="21.71" cy="245.61" rx="1.45" ry="1.85"/><ellipse cx="19.03" cy="248.72" rx="1.45" ry="1.85"/><ellipse cx="20.96" cy="251.82" rx="1.45" ry="1.85"/><ellipse cx="18.29" cy="254.93" rx="1.45" ry="1.85"/><ellipse cx="13.69" cy="254.93" rx="1.45" ry="1.85"/><ellipse cx="34.2" cy="199" rx="1.45" ry="1.85"/><ellipse cx="31.53" cy="202.11" rx="1.45" ry="1.85"/><ellipse cx="27.67" cy="195.89" rx="1.45" ry="1.85"/><ellipse cx="32.27" cy="195.89" rx="1.45" ry="1.85"/><ellipse cx="33.45" cy="205.21" rx="1.45" ry="1.85"/><ellipse cx="30.78" cy="208.32" rx="1.45" ry="1.85"/><ellipse cx="32.71" cy="211.43" rx="1.45" ry="1.85"/><ellipse cx="30.04" cy="214.54" rx="1.45" ry="1.85"/><ellipse cx="31.96" cy="217.64" rx="1.45" ry="1.85"/><ellipse cx="29.29" cy="220.75" rx="1.45" ry="1.85"/><ellipse cx="31.22" cy="223.86" rx="1.45" ry="1.85"/><ellipse cx="28.54" cy="226.97" rx="1.45" ry="1.85"/><ellipse cx="30.47" cy="230.07" rx="1.45" ry="1.85"/><ellipse cx="27.8" cy="233.18" rx="1.45" ry="1.85"/><ellipse cx="29.73" cy="236.29" rx="1.45" ry="1.85"/><ellipse cx="27.05" cy="239.39" rx="1.45" ry="1.85"/><ellipse cx="28.98" cy="242.5" rx="1.45" ry="1.85"/><ellipse cx="26.31" cy="245.61" rx="1.45" ry="1.85"/><ellipse cx="28.23" cy="248.72" rx="1.45" ry="1.85"/><ellipse cx="25.56" cy="251.82" rx="1.45" ry="1.85"/><ellipse cx="40.73" cy="202.11" rx="1.45" ry="1.85"/><ellipse cx="38.05" cy="205.21" rx="1.45" ry="1.85"/><ellipse cx="38.8" cy="199" rx="1.45" ry="1.85"/><ellipse cx="39.98" cy="208.32" rx="1.45" ry="1.85"/><ellipse cx="37.31" cy="211.43" rx="1.45" ry="1.85"/><ellipse cx="39.24" cy="214.54" rx="1.45" ry="1.85"/><ellipse cx="36.56" cy="217.64" rx="1.45" ry="1.85"/><ellipse cx="38.49" cy="220.75" rx="1.45" ry="1.85"/><ellipse cx="35.82" cy="223.86" rx="1.45" ry="1.85"/><ellipse cx="37.74" cy="226.97" rx="1.45" ry="1.85"/><ellipse cx="35.07" cy="230.07" rx="1.45" ry="1.85"/><ellipse cx="37" cy="233.18" rx="1.45" ry="1.85"/><ellipse cx="34.33" cy="236.29" rx="1.45" ry="1.85"/><ellipse cx="36.25" cy="239.39" rx="1.45" ry="1.85"/><ellipse cx="33.58" cy="242.5" rx="1.45" ry="1.85"/><ellipse cx="35.51" cy="245.61" rx="1.45" ry="1.85"/><ellipse cx="32.83" cy="248.72" rx="1.45" ry="1.85"/><ellipse cx="34.76" cy="251.82" rx="1.45" ry="1.85"/><ellipse cx="32.09" cy="254.93" rx="1.45" ry="1.85"/><ellipse cx="27.49" cy="254.93" rx="1.45" ry="1.85"/><ellipse cx="48" cy="199" rx="1.45" ry="1.85"/><ellipse cx="45.33" cy="202.11" rx="1.45" ry="1.85"/><ellipse cx="41.47" cy="195.89" rx="1.45" ry="1.85"/><ellipse cx="46.07" cy="195.89" rx="1.45" ry="1.85"/><ellipse cx="47.25" cy="205.21" rx="1.45" ry="1.85"/><ellipse cx="44.58" cy="208.32" rx="1.45" ry="1.85"/><ellipse cx="46.51" cy="211.43" rx="1.45" ry="1.85"/><ellipse cx="43.84" cy="214.54" rx="1.45" ry="1.85"/><ellipse cx="45.76" cy="217.64" rx="1.45" ry="1.85"/><ellipse cx="43.09" cy="220.75" rx="1.45" ry="1.85"/><ellipse cx="45.02" cy="223.86" rx="1.45" ry="1.85"/><ellipse cx="42.34" cy="226.97" rx="1.45" ry="1.85"/><ellipse cx="44.27" cy="230.07" rx="1.45" ry="1.85"/><ellipse cx="41.6" cy="233.18" rx="1.45" ry="1.85"/><ellipse cx="43.53" cy="236.29" rx="1.45" ry="1.85"/><ellipse cx="40.85" cy="239.39" rx="1.45" ry="1.85"/><ellipse cx="42.78" cy="242.5" rx="1.45" ry="1.85"/><ellipse cx="40.11" cy="245.61" rx="1.45" ry="1.85"/><ellipse cx="42.03" cy="248.72" rx="1.45" ry="1.85"/><ellipse cx="39.36" cy="251.82" rx="1.45" ry="1.85"/><ellipse cx="54.53" cy="202.11" rx="1.45" ry="1.85"/><ellipse cx="51.85" cy="205.21" rx="1.45" ry="1.85"/><ellipse cx="52.6" cy="199" rx="1.45" ry="1.85"/><ellipse cx="53.78" cy="208.32" rx="1.45" ry="1.85"/><ellipse cx="51.11" cy="211.43" rx="1.45" ry="1.85"/><ellipse cx="53.04" cy="214.54" rx="1.45" ry="1.85"/><ellipse cx="50.36" cy="217.64" rx="1.45" ry="1.85"/><ellipse cx="52.29" cy="220.75" rx="1.45" ry="1.85"/><ellipse cx="49.62" cy="223.86" rx="1.45" ry="1.85"/><ellipse cx="51.54" cy="226.97" rx="1.45" ry="1.85"/><ellipse cx="48.87" cy="230.07" rx="1.45" ry="1.85"/><ellipse cx="50.8" cy="233.18" rx="1.45" ry="1.85"/><ellipse cx="48.13" cy="236.29" rx="1.45" ry="1.85"/><ellipse cx="50.05" cy="239.39" rx="1.45" ry="1.85"/><ellipse cx="47.38" cy="242.5" rx="1.45" ry="1.85"/><ellipse cx="49.31" cy="245.61" rx="1.45" ry="1.85"/><ellipse cx="46.63" cy="248.72" rx="1.45" ry="1.85"/><ellipse cx="48.56" cy="251.82" rx="1.45" ry="1.85"/><ellipse cx="45.89" cy="254.93" rx="1.45" ry="1.85"/><ellipse cx="41.29" cy="254.93" rx="1.45" ry="1.85"/><ellipse cx="61.8" cy="199" rx="1.45" ry="1.85"/><ellipse cx="59.13" cy="202.11" rx="1.45" ry="1.85"/><ellipse cx="55.27" cy="195.89" rx="1.45" ry="1.85"/><ellipse cx="59.87" cy="195.89" rx="1.45" ry="1.85"/><ellipse cx="61.05" cy="205.21" rx="1.45" ry="1.85"/><ellipse cx="58.38" cy="208.32" rx="1.45" ry="1.85"/><ellipse cx="60.31" cy="211.43" rx="1.45" ry="1.85"/><ellipse cx="57.64" cy="214.54" rx="1.45" ry="1.85"/><ellipse cx="59.56" cy="217.64" rx="1.45" ry="1.85"/><ellipse cx="56.89" cy="220.75" rx="1.45" ry="1.85"/><ellipse cx="58.82" cy="223.86" rx="1.45" ry="1.85"/><ellipse cx="56.14" cy="226.97" rx="1.45" ry="1.85"/><ellipse cx="58.07" cy="230.07" rx="1.45" ry="1.85"/><ellipse cx="55.4" cy="233.18" rx="1.45" ry="1.85"/><ellipse cx="57.33" cy="236.29" rx="1.45" ry="1.85"/><ellipse cx="54.65" cy="239.39" rx="1.45" ry="1.85"/><ellipse cx="56.58" cy="242.5" rx="1.45" ry="1.85"/><ellipse cx="53.91" cy="245.61" rx="1.45" ry="1.85"/><ellipse cx="55.83" cy="248.72" rx="1.45" ry="1.85"/><ellipse cx="53.16" cy="251.82" rx="1.45" ry="1.85"/><ellipse cx="68.33" cy="202.11" rx="1.45" ry="1.85"/><ellipse cx="65.65" cy="205.21" rx="1.45" ry="1.85"/><ellipse cx="66.4" cy="199" rx="1.45" ry="1.85"/><ellipse cx="67.58" cy="208.32" rx="1.45" ry="1.85"/><ellipse cx="64.91" cy="211.43" rx="1.45" ry="1.85"/><ellipse cx="66.84" cy="214.54" rx="1.45" ry="1.85"/><ellipse cx="64.16" cy="217.64" rx="1.45" ry="1.85"/><ellipse cx="66.09" cy="220.75" rx="1.45" ry="1.85"/><ellipse cx="63.42" cy="223.86" rx="1.45" ry="1.85"/><ellipse cx="65.34" cy="226.97" rx="1.45" ry="1.85"/><ellipse cx="62.67" cy="230.07" rx="1.45" ry="1.85"/><ellipse cx="64.6" cy="233.18" rx="1.45" ry="1.85"/><ellipse cx="61.93" cy="236.29" rx="1.45" ry="1.85"/><ellipse cx="63.85" cy="239.39" rx="1.45" ry="1.85"/><ellipse cx="61.18" cy="242.5" rx="1.45" ry="1.85"/><ellipse cx="63.11" cy="245.61" rx="1.45" ry="1.85"/><ellipse cx="60.43" cy="248.72" rx="1.45" ry="1.85"/><ellipse cx="62.36" cy="251.82" rx="1.45" ry="1.85"/><ellipse cx="59.69" cy="254.93" rx="1.45" ry="1.85"/><ellipse cx="55.09" cy="254.93" rx="1.45" ry="1.85"/><ellipse cx="75.6" cy="199" rx="1.45" ry="1.85"/><ellipse cx="72.93" cy="202.11" rx="1.45" ry="1.85"/><ellipse cx="69.07" cy="195.89" rx="1.45" ry="1.85"/><ellipse cx="73.67" cy="195.89" rx="1.45" ry="1.85"/><ellipse cx="74.85" cy="205.21" rx="1.45" ry="1.85"/><ellipse cx="72.18" cy="208.32" rx="1.45" ry="1.85"/><ellipse cx="74.11" cy="211.43" rx="1.45" ry="1.85"/><ellipse cx="71.44" cy="214.54" rx="1.45" ry="1.85"/><ellipse cx="73.36" cy="217.64" rx="1.45" ry="1.85"/><ellipse cx="70.69" cy="220.75" rx="1.45" ry="1.85"/><ellipse cx="72.62" cy="223.86" rx="1.45" ry="1.85"/><ellipse cx="69.94" cy="226.97" rx="1.45" ry="1.85"/><ellipse cx="71.87" cy="230.07" rx="1.45" ry="1.85"/><ellipse cx="69.2" cy="233.18" rx="1.45" ry="1.85"/><ellipse cx="71.13" cy="236.29" rx="1.45" ry="1.85"/><ellipse cx="68.45" cy="239.39" rx="1.45" ry="1.85"/><ellipse cx="70.38" cy="242.5" rx="1.45" ry="1.85"/><ellipse cx="67.71" cy="245.61" rx="1.45" ry="1.85"/><ellipse cx="69.63" cy="248.72" rx="1.45" ry="1.85"/><ellipse cx="66.96" cy="251.82" rx="1.45" ry="1.85"/><ellipse cx="82.13" cy="202.11" rx="1.45" ry="1.85"/><ellipse cx="79.45" cy="205.21" rx="1.45" ry="1.85"/><ellipse cx="80.2" cy="199" rx="1.45" ry="1.85"/><ellipse cx="81.38" cy="208.32" rx="1.45" ry="1.85"/><ellipse cx="78.71" cy="211.43" rx="1.45" ry="1.85"/><ellipse cx="80.64" cy="214.54" rx="1.45" ry="1.85"/><ellipse cx="77.96" cy="217.64" rx="1.45" ry="1.85"/><ellipse cx="79.89" cy="220.75" rx="1.45" ry="1.85"/><ellipse cx="77.22" cy="223.86" rx="1.45" ry="1.85"/><ellipse cx="79.14" cy="226.97" rx="1.45" ry="1.85"/><ellipse cx="76.47" cy="230.07" rx="1.45" ry="1.85"/><ellipse cx="78.4" cy="233.18" rx="1.45" ry="1.85"/><ellipse cx="75.73" cy="236.29" rx="1.45" ry="1.85"/><ellipse cx="77.65" cy="239.39" rx="1.45" ry="1.85"/><ellipse cx="74.98" cy="242.5" rx="1.45" ry="1.85"/><ellipse cx="76.91" cy="245.61" rx="1.45" ry="1.85"/><ellipse cx="74.23" cy="248.72" rx="1.45" ry="1.85"/><ellipse cx="76.16" cy="251.82" rx="1.45" ry="1.85"/><ellipse cx="73.49" cy="254.93" rx="1.45" ry="1.85"/><ellipse cx="68.89" cy="254.93" rx="1.45" ry="1.85"/><ellipse cx="89.4" cy="199" rx="1.45" ry="1.85"/><ellipse cx="86.73" cy="202.11" rx="1.45" ry="1.85"/><ellipse cx="82.87" cy="195.89" rx="1.45" ry="1.85"/><ellipse cx="87.47" cy="195.89" rx="1.45" ry="1.85"/><ellipse cx="88.65" cy="205.21" rx="1.45" ry="1.85"/><ellipse cx="85.98" cy="208.32" rx="1.45" ry="1.85"/><ellipse cx="87.91" cy="211.43" rx="1.45" ry="1.85"/><ellipse cx="85.24" cy="214.54" rx="1.45" ry="1.85"/><ellipse cx="87.16" cy="217.64" rx="1.45" ry="1.85"/><ellipse cx="84.49" cy="220.75" rx="1.45" ry="1.85"/><ellipse cx="86.42" cy="223.86" rx="1.45" ry="1.85"/><ellipse cx="83.74" cy="226.97" rx="1.45" ry="1.85"/><ellipse cx="85.67" cy="230.07" rx="1.45" ry="1.85"/><ellipse cx="83" cy="233.18" rx="1.45" ry="1.85"/><ellipse cx="84.93" cy="236.29" rx="1.45" ry="1.85"/><ellipse cx="82.25" cy="239.39" rx="1.45" ry="1.85"/><ellipse cx="84.18" cy="242.5" rx="1.45" ry="1.85"/><ellipse cx="81.51" cy="245.61" rx="1.45" ry="1.85"/><ellipse cx="83.43" cy="248.72" rx="1.45" ry="1.85"/><ellipse cx="80.76" cy="251.82" rx="1.45" ry="1.85"/><ellipse cx="95.93" cy="202.11" rx="1.45" ry="1.85"/><ellipse cx="93.25" cy="205.21" rx="1.45" ry="1.85"/><ellipse cx="94" cy="199" rx="1.45" ry="1.85"/><ellipse cx="95.18" cy="208.32" rx="1.45" ry="1.85"/><ellipse cx="92.51" cy="211.43" rx="1.45" ry="1.85"/><ellipse cx="94.44" cy="214.54" rx="1.45" ry="1.85"/><ellipse cx="91.76" cy="217.64" rx="1.45" ry="1.85"/><ellipse cx="93.69" cy="220.75" rx="1.45" ry="1.85"/><ellipse cx="91.02" cy="223.86" rx="1.45" ry="1.85"/><ellipse cx="92.94" cy="226.97" rx="1.45" ry="1.85"/><ellipse cx="90.27" cy="230.07" rx="1.45" ry="1.85"/><ellipse cx="92.2" cy="233.18" rx="1.45" ry="1.85"/><ellipse cx="89.53" cy="236.29" rx="1.45" ry="1.85"/><ellipse cx="91.45" cy="239.39" rx="1.45" ry="1.85"/><ellipse cx="88.78" cy="242.5" rx="1.45" ry="1.85"/><ellipse cx="90.71" cy="245.61" rx="1.45" ry="1.85"/><ellipse cx="88.03" cy="248.72" rx="1.45" ry="1.85"/><ellipse cx="89.96" cy="251.82" rx="1.45" ry="1.85"/><ellipse cx="87.29" cy="254.93" rx="1.45" ry="1.85"/><ellipse cx="82.69" cy="254.93" rx="1.45" ry="1.85"/><ellipse cx="103.2" cy="199" rx="1.45" ry="1.85"/><ellipse cx="100.53" cy="202.11" rx="1.45" ry="1.85"/><ellipse cx="96.67" cy="195.89" rx="1.45" ry="1.85"/><ellipse cx="101.27" cy="195.89" rx="1.45" ry="1.85"/><ellipse cx="102.45" cy="205.21" rx="1.45" ry="1.85"/><ellipse cx="99.78" cy="208.32" rx="1.45" ry="1.85"/><ellipse cx="101.71" cy="211.43" rx="1.45" ry="1.85"/><ellipse cx="99.04" cy="214.54" rx="1.45" ry="1.85"/><ellipse cx="100.96" cy="217.64" rx="1.45" ry="1.85"/><ellipse cx="98.29" cy="220.75" rx="1.45" ry="1.85"/><ellipse cx="100.22" cy="223.86" rx="1.45" ry="1.85"/><ellipse cx="97.54" cy="226.97" rx="1.45" ry="1.85"/><ellipse cx="99.47" cy="230.07" rx="1.45" ry="1.85"/><ellipse cx="96.8" cy="233.18" rx="1.45" ry="1.85"/><ellipse cx="98.73" cy="236.29" rx="1.45" ry="1.85"/><ellipse cx="96.05" cy="239.39" rx="1.45" ry="1.85"/><ellipse cx="97.98" cy="242.5" rx="1.45" ry="1.85"/><ellipse cx="95.31" cy="245.61" rx="1.45" ry="1.85"/><ellipse cx="97.23" cy="248.72" rx="1.45" ry="1.85"/><ellipse cx="94.56" cy="251.82" rx="1.45" ry="1.85"/><ellipse cx="109.73" cy="202.11" rx="1.45" ry="1.85"/><ellipse cx="107.05" cy="205.21" rx="1.45" ry="1.85"/><ellipse cx="107.8" cy="199" rx="1.45" ry="1.85"/><ellipse cx="108.98" cy="208.32" rx="1.45" ry="1.85"/><ellipse cx="106.31" cy="211.43" rx="1.45" ry="1.85"/><ellipse cx="108.24" cy="214.54" rx="1.45" ry="1.85"/><ellipse cx="105.56" cy="217.64" rx="1.45" ry="1.85"/><ellipse cx="107.49" cy="220.75" rx="1.45" ry="1.85"/><ellipse cx="104.82" cy="223.86" rx="1.45" ry="1.85"/><ellipse cx="106.74" cy="226.97" rx="1.45" ry="1.85"/><ellipse cx="104.07" cy="230.07" rx="1.45" ry="1.85"/><ellipse cx="106" cy="233.18" rx="1.45" ry="1.85"/><ellipse cx="103.33" cy="236.29" rx="1.45" ry="1.85"/><ellipse cx="105.25" cy="239.39" rx="1.45" ry="1.85"/><ellipse cx="102.58" cy="242.5" rx="1.45" ry="1.85"/><ellipse cx="104.51" cy="245.61" rx="1.45" ry="1.85"/><ellipse cx="101.83" cy="248.72" rx="1.45" ry="1.85"/><ellipse cx="103.76" cy="251.82" rx="1.45" ry="1.85"/><ellipse cx="101.09" cy="254.93" rx="1.45" ry="1.85"/><ellipse cx="96.49" cy="254.93" rx="1.45" ry="1.85"/><ellipse cx="117" cy="199" rx="1.45" ry="1.85"/><ellipse cx="114.33" cy="202.11" rx="1.45" ry="1.85"/><ellipse cx="110.47" cy="195.89" rx="1.45" ry="1.85"/><ellipse cx="115.07" cy="195.89" rx="1.45" ry="1.85"/><ellipse cx="116.25" cy="205.21" rx="1.45" ry="1.85"/><ellipse cx="113.58" cy="208.32" rx="1.45" ry="1.85"/><ellipse cx="115.51" cy="211.43" rx="1.45" ry="1.85"/><ellipse cx="112.84" cy="214.54" rx="1.45" ry="1.85"/><ellipse cx="114.76" cy="217.64" rx="1.45" ry="1.85"/><ellipse cx="112.09" cy="220.75" rx="1.45" ry="1.85"/><ellipse cx="114.02" cy="223.86" rx="1.45" ry="1.85"/><ellipse cx="111.34" cy="226.97" rx="1.45" ry="1.85"/><ellipse cx="113.27" cy="230.07" rx="1.45" ry="1.85"/><ellipse cx="110.6" cy="233.18" rx="1.45" ry="1.85"/><ellipse cx="112.53" cy="236.29" rx="1.45" ry="1.85"/><ellipse cx="109.85" cy="239.39" rx="1.45" ry="1.85"/><ellipse cx="111.78" cy="242.5" rx="1.45" ry="1.85"/><ellipse cx="109.11" cy="245.61" rx="1.45" ry="1.85"/><ellipse cx="111.03" cy="248.72" rx="1.45" ry="1.85"/><ellipse cx="108.36" cy="251.82" rx="1.45" ry="1.85"/><ellipse cx="123.53" cy="202.11" rx="1.45" ry="1.85"/><ellipse cx="120.85" cy="205.21" rx="1.45" ry="1.85"/><ellipse cx="121.6" cy="199" rx="1.45" ry="1.85"/><ellipse cx="122.78" cy="208.32" rx="1.45" ry="1.85"/><ellipse cx="120.11" cy="211.43" rx="1.45" ry="1.85"/><ellipse cx="122.04" cy="214.54" rx="1.45" ry="1.85"/><ellipse cx="119.36" cy="217.64" rx="1.45" ry="1.85"/><ellipse cx="121.29" cy="220.75" rx="1.45" ry="1.85"/><ellipse cx="118.62" cy="223.86" rx="1.45" ry="1.85"/><ellipse cx="120.54" cy="226.97" rx="1.45" ry="1.85"/><ellipse cx="117.87" cy="230.07" rx="1.45" ry="1.85"/><ellipse cx="119.8" cy="233.18" rx="1.45" ry="1.85"/><ellipse cx="117.13" cy="236.29" rx="1.45" ry="1.85"/><ellipse cx="119.05" cy="239.39" rx="1.45" ry="1.85"/><ellipse cx="116.38" cy="242.5" rx="1.45" ry="1.85"/><ellipse cx="118.31" cy="245.61" rx="1.45" ry="1.85"/><ellipse cx="115.63" cy="248.72" rx="1.45" ry="1.85"/><ellipse cx="117.56" cy="251.82" rx="1.45" ry="1.85"/><ellipse cx="114.89" cy="254.93" rx="1.45" ry="1.85"/><ellipse cx="110.29" cy="254.93" rx="1.45" ry="1.85"/><ellipse cx="130.8" cy="199" rx="1.45" ry="1.85"/><ellipse cx="128.13" cy="202.11" rx="1.45" ry="1.85"/><ellipse cx="124.27" cy="195.89" rx="1.45" ry="1.85"/><ellipse cx="128.87" cy="195.89" rx="1.45" ry="1.85"/><ellipse cx="130.05" cy="205.21" rx="1.45" ry="1.85"/><ellipse cx="127.38" cy="208.32" rx="1.45" ry="1.85"/><ellipse cx="129.31" cy="211.43" rx="1.45" ry="1.85"/><ellipse cx="126.64" cy="214.54" rx="1.45" ry="1.85"/><ellipse cx="128.56" cy="217.64" rx="1.45" ry="1.85"/><ellipse cx="125.89" cy="220.75" rx="1.45" ry="1.85"/><ellipse cx="127.82" cy="223.86" rx="1.45" ry="1.85"/><ellipse cx="125.14" cy="226.97" rx="1.45" ry="1.85"/><ellipse cx="127.07" cy="230.07" rx="1.45" ry="1.85"/><ellipse cx="124.4" cy="233.18" rx="1.45" ry="1.85"/><ellipse cx="126.33" cy="236.29" rx="1.45" ry="1.85"/><ellipse cx="123.65" cy="239.39" rx="1.45" ry="1.85"/><ellipse cx="125.58" cy="242.5" rx="1.45" ry="1.85"/><ellipse cx="122.91" cy="245.61" rx="1.45" ry="1.85"/><ellipse cx="124.83" cy="248.72" rx="1.45" ry="1.85"/><ellipse cx="122.16" cy="251.82" rx="1.45" ry="1.85"/><ellipse cx="137.33" cy="202.11" rx="1.45" ry="1.85"/><ellipse cx="134.65" cy="205.21" rx="1.45" ry="1.85"/><ellipse cx="135.4" cy="199" rx="1.45" ry="1.85"/><ellipse cx="136.58" cy="208.32" rx="1.45" ry="1.85"/><ellipse cx="133.91" cy="211.43" rx="1.45" ry="1.85"/><ellipse cx="135.84" cy="214.54" rx="1.45" ry="1.85"/><ellipse cx="133.16" cy="217.64" rx="1.45" ry="1.85"/><ellipse cx="135.09" cy="220.75" rx="1.45" ry="1.85"/><ellipse cx="132.42" cy="223.86" rx="1.45" ry="1.85"/><ellipse cx="134.34" cy="226.97" rx="1.45" ry="1.85"/><ellipse cx="131.67" cy="230.07" rx="1.45" ry="1.85"/><ellipse cx="133.6" cy="233.18" rx="1.45" ry="1.85"/><ellipse cx="130.93" cy="236.29" rx="1.45" ry="1.85"/><ellipse cx="132.85" cy="239.39" rx="1.45" ry="1.85"/><ellipse cx="130.18" cy="242.5" rx="1.45" ry="1.85"/><ellipse cx="132.11" cy="245.61" rx="1.45" ry="1.85"/><ellipse cx="129.43" cy="248.72" rx="1.45" ry="1.85"/><ellipse cx="131.36" cy="251.82" rx="1.45" ry="1.85"/><ellipse cx="128.69" cy="254.93" rx="1.45" ry="1.85"/><ellipse cx="124.09" cy="254.93" rx="1.45" ry="1.85"/><ellipse cx="144.6" cy="199" rx="1.45" ry="1.85"/><ellipse cx="141.93" cy="202.11" rx="1.45" ry="1.85"/><ellipse cx="138.07" cy="195.89" rx="1.45" ry="1.85"/><ellipse cx="142.67" cy="195.89" rx="1.45" ry="1.85"/><ellipse cx="143.85" cy="205.21" rx="1.45" ry="1.85"/><ellipse cx="141.18" cy="208.32" rx="1.45" ry="1.85"/><ellipse cx="143.11" cy="211.43" rx="1.45" ry="1.85"/><ellipse cx="140.44" cy="214.54" rx="1.45" ry="1.85"/><ellipse cx="142.36" cy="217.64" rx="1.45" ry="1.85"/><ellipse cx="139.69" cy="220.75" rx="1.45" ry="1.85"/><ellipse cx="141.62" cy="223.86" rx="1.45" ry="1.85"/><ellipse cx="138.94" cy="226.97" rx="1.45" ry="1.85"/><ellipse cx="140.87" cy="230.07" rx="1.45" ry="1.85"/><ellipse cx="138.2" cy="233.18" rx="1.45" ry="1.85"/><ellipse cx="140.13" cy="236.29" rx="1.45" ry="1.85"/><ellipse cx="137.45" cy="239.39" rx="1.45" ry="1.85"/><ellipse cx="139.38" cy="242.5" rx="1.45" ry="1.85"/><ellipse cx="136.71" cy="245.61" rx="1.45" ry="1.85"/><ellipse cx="138.63" cy="248.72" rx="1.45" ry="1.85"/><ellipse cx="135.96" cy="251.82" rx="1.45" ry="1.85"/><ellipse cx="151.13" cy="202.11" rx="1.45" ry="1.85"/><ellipse cx="148.45" cy="205.21" rx="1.45" ry="1.85"/><ellipse cx="149.2" cy="199" rx="1.45" ry="1.85"/><ellipse cx="150.38" cy="208.32" rx="1.45" ry="1.85"/><ellipse cx="147.71" cy="211.43" rx="1.45" ry="1.85"/><ellipse cx="149.64" cy="214.54" rx="1.45" ry="1.85"/><ellipse cx="146.96" cy="217.64" rx="1.45" ry="1.85"/><ellipse cx="148.89" cy="220.75" rx="1.45" ry="1.85"/><ellipse cx="146.22" cy="223.86" rx="1.45" ry="1.85"/><ellipse cx="148.14" cy="226.97" rx="1.45" ry="1.85"/><ellipse cx="145.47" cy="230.07" rx="1.45" ry="1.85"/><ellipse cx="147.4" cy="233.18" rx="1.45" ry="1.85"/><ellipse cx="144.73" cy="236.29" rx="1.45" ry="1.85"/><ellipse cx="146.65" cy="239.39" rx="1.45" ry="1.85"/><ellipse cx="143.98" cy="242.5" rx="1.45" ry="1.85"/><ellipse cx="145.91" cy="245.61" rx="1.45" ry="1.85"/><ellipse cx="143.23" cy="248.72" rx="1.45" ry="1.85"/><ellipse cx="145.16" cy="251.82" rx="1.45" ry="1.85"/><ellipse cx="142.49" cy="254.93" rx="1.45" ry="1.85"/><ellipse cx="137.89" cy="254.93" rx="1.45" ry="1.85"/><ellipse cx="158.4" cy="199" rx="1.45" ry="1.85"/><ellipse cx="155.73" cy="202.11" rx="1.45" ry="1.85"/><ellipse cx="151.87" cy="195.89" rx="1.45" ry="1.85"/><ellipse cx="156.47" cy="195.89" rx="1.45" ry="1.85"/><ellipse cx="157.65" cy="205.21" rx="1.45" ry="1.85"/><ellipse cx="154.98" cy="208.32" rx="1.45" ry="1.85"/><ellipse cx="156.91" cy="211.43" rx="1.45" ry="1.85"/><ellipse cx="154.24" cy="214.54" rx="1.45" ry="1.85"/><ellipse cx="156.16" cy="217.64" rx="1.45" ry="1.85"/><ellipse cx="153.49" cy="220.75" rx="1.45" ry="1.85"/><ellipse cx="155.42" cy="223.86" rx="1.45" ry="1.85"/><ellipse cx="152.74" cy="226.97" rx="1.45" ry="1.85"/><ellipse cx="154.67" cy="230.07" rx="1.45" ry="1.85"/><ellipse cx="152" cy="233.18" rx="1.45" ry="1.85"/><ellipse cx="153.93" cy="236.29" rx="1.45" ry="1.85"/><ellipse cx="151.25" cy="239.39" rx="1.45" ry="1.85"/><ellipse cx="153.18" cy="242.5" rx="1.45" ry="1.85"/><ellipse cx="150.51" cy="245.61" rx="1.45" ry="1.85"/><ellipse cx="152.43" cy="248.72" rx="1.45" ry="1.85"/><ellipse cx="149.76" cy="251.82" rx="1.45" ry="1.85"/><ellipse cx="164.93" cy="202.11" rx="1.45" ry="1.85"/><ellipse cx="162.25" cy="205.21" rx="1.45" ry="1.85"/><ellipse cx="163" cy="199" rx="1.45" ry="1.85"/><ellipse cx="164.18" cy="208.32" rx="1.45" ry="1.85"/><ellipse cx="161.51" cy="211.43" rx="1.45" ry="1.85"/><ellipse cx="163.44" cy="214.54" rx="1.45" ry="1.85"/><ellipse cx="160.76" cy="217.64" rx="1.45" ry="1.85"/><ellipse cx="162.69" cy="220.75" rx="1.45" ry="1.85"/><ellipse cx="160.02" cy="223.86" rx="1.45" ry="1.85"/><ellipse cx="161.94" cy="226.97" rx="1.45" ry="1.85"/><ellipse cx="159.27" cy="230.07" rx="1.45" ry="1.85"/><ellipse cx="161.2" cy="233.18" rx="1.45" ry="1.85"/><ellipse cx="158.53" cy="236.29" rx="1.45" ry="1.85"/><ellipse cx="160.45" cy="239.39" rx="1.45" ry="1.85"/><ellipse cx="157.78" cy="242.5" rx="1.45" ry="1.85"/><ellipse cx="159.71" cy="245.61" rx="1.45" ry="1.85"/><ellipse cx="157.03" cy="248.72" rx="1.45" ry="1.85"/><ellipse cx="158.96" cy="251.82" rx="1.45" ry="1.85"/><ellipse cx="156.29" cy="254.93" rx="1.45" ry="1.85"/><ellipse cx="151.69" cy="254.93" rx="1.45" ry="1.85"/></g>
<line x1="22" y1="201.5" x2="22" y2="205.5" stroke="#7a7a7a" stroke-width="1.4" />
<ellipse cx="22" cy="200" rx="1.9" ry="2.7" fill="#d6d6d6" stroke="#6e6e6e" stroke-width="1"/>
<line x1="36.5" y1="201.15" x2="36.5" y2="205.15" stroke="#7a7a7a" stroke-width="1.4" />
<ellipse cx="36.5" cy="199.65" rx="1.9" ry="2.7" fill="#d6d6d6" stroke="#6e6e6e" stroke-width="1"/>
<line x1="51" y1="200.8" x2="51" y2="204.8" stroke="#7a7a7a" stroke-width="1.4" />
<ellipse cx="51" cy="199.3" rx="1.9" ry="2.7" fill="#d6d6d6" stroke="#6e6e6e" stroke-width="1"/>
<line x1="65.5" y1="200.45" x2="65.5" y2="204.45" stroke="#7a7a7a" stroke-width="1.4" />
<ellipse cx="65.5" cy="198.95" rx="1.9" ry="2.7" fill="#d6d6d6" stroke="#6e6e6e" stroke-width="1"/>
<line x1="80" y1="200.1" x2="80" y2="204.1" stroke="#7a7a7a" stroke-width="1.4" />
<ellipse cx="80" cy="198.6" rx="1.9" ry="2.7" fill="#d6d6d6" stroke="#6e6e6e" stroke-width="1"/>
<line x1="94.5" y1="199.75" x2="94.5" y2="203.75" stroke="#7a7a7a" stroke-width="1.4" />
<ellipse cx="94.5" cy="198.25" rx="1.9" ry="2.7" fill="#d6d6d6" stroke="#6e6e6e" stroke-width="1"/>
<line x1="109" y1="199.4" x2="109" y2="203.4" stroke="#7a7a7a" stroke-width="1.4" />
<ellipse cx="109" cy="197.9" rx="1.9" ry="2.7" fill="#d6d6d6" stroke="#6e6e6e" stroke-width="1"/>
<line x1="123.5" y1="199.05" x2="123.5" y2="203.05" stroke="#7a7a7a" stroke-width="1.4" />
<ellipse cx="123.5" cy="197.55" rx="1.9" ry="2.7" fill="#d6d6d6" stroke="#6e6e6e" stroke-width="1"/>
<line x1="8" y1="216.8" x2="12" y2="216.8" stroke="#7a7a7a" stroke-width="1.4" />
<ellipse cx="7.5" cy="216.8" rx="2.6" ry="2.2" fill="#d6d6d6" stroke="#6e6e6e" stroke-width="1"/>
<line x1="8" y1="228.5" x2="12" y2="228.5" stroke="#7a7a7a" stroke-width="1.4" />
<ellipse cx="7.5" cy="228.5" rx="2.6" ry="2.2" fill="#d6d6d6" stroke="#6e6e6e" stroke-width="1"/>
<line x1="8" y1="239.5" x2="12" y2="239.5" stroke="#7a7a7a" stroke-width="1.4" />
<ellipse cx="7.5" cy="239.5" rx="2.6" ry="2.2" fill="#d6d6d6" stroke="#6e6e6e" stroke-width="1"/>
<line x1="8" y1="248" x2="12" y2="248" stroke="#7a7a7a" stroke-width="1.4" />
<ellipse cx="7.5" cy="248" rx="2.6" ry="2.2" fill="#d6d6d6" stroke="#6e6e6e" stroke-width="1"/>
<ellipse cx="134.5" cy="207" rx="2.4" ry="2.1" fill="#d6d6d6" stroke="#6e6e6e" stroke-width="1"/>
<ellipse cx="134.5" cy="215.5" rx="2.4" ry="2.1" fill="#d6d6d6" stroke="#6e6e6e" stroke-width="1"/>
<ellipse cx="134.5" cy="224" rx="2.4" ry="2.1" fill="#d6d6d6" stroke="#6e6e6e" stroke-width="1"/>
<ellipse cx="134.5" cy="232.5" rx="2.4" ry="2.1" fill="#d6d6d6" stroke="#6e6e6e" stroke-width="1"/>
<ellipse cx="134.5" cy="241" rx="2.4" ry="2.1" fill="#d6d6d6" stroke="#6e6e6e" stroke-width="1"/>
<ellipse cx="71" cy="238.5" rx="8" ry="8" fill="#fbfbfb"/>
<line x1="25" y1="182.5" x2="103" y2="182.5" stroke="#8a8a8a" stroke-width="1.4" />
<line x1="25" y1="187.5" x2="103" y2="187.5" stroke="#8a8a8a" stroke-width="1.4" />
<line x1="25" y1="192.5" x2="103" y2="192.5" stroke="#8a8a8a" stroke-width="1.4" />
<line x1="25" y1="197" x2="103" y2="197" stroke="#8a8a8a" stroke-width="1.4" />
<ellipse cx="31.2" cy="181.6" rx="2.3" ry="2.6" fill="#ececec" stroke="#5e5e5e" stroke-width="1.3"/>
<ellipse cx="35.8" cy="182.6" rx="2.3" ry="2.6" fill="#ececec" stroke="#5e5e5e" stroke-width="1.3"/>
<ellipse cx="32" cy="185.6" rx="2.3" ry="2.6" fill="#ececec" stroke="#5e5e5e" stroke-width="1.3"/>
<ellipse cx="36.6" cy="186.6" rx="2.3" ry="2.6" fill="#ececec" stroke="#5e5e5e" stroke-width="1.3"/>
<ellipse cx="31.2" cy="189.6" rx="2.3" ry="2.6" fill="#ececec" stroke="#5e5e5e" stroke-width="1.3"/>
<ellipse cx="35.8" cy="190.6" rx="2.3" ry="2.6" fill="#ececec" stroke="#5e5e5e" stroke-width="1.3"/>
<ellipse cx="32" cy="193.6" rx="2.3" ry="2.6" fill="#ececec" stroke="#5e5e5e" stroke-width="1.3"/>
<ellipse cx="36.6" cy="194.6" rx="2.3" ry="2.6" fill="#ececec" stroke="#5e5e5e" stroke-width="1.3"/>
<ellipse cx="43.2" cy="178.6" rx="2.3" ry="2.6" fill="#ececec" stroke="#5e5e5e" stroke-width="1.3"/>
<ellipse cx="47.8" cy="179.6" rx="2.3" ry="2.6" fill="#ececec" stroke="#5e5e5e" stroke-width="1.3"/>
<ellipse cx="44" cy="182.6" rx="2.3" ry="2.6" fill="#ececec" stroke="#5e5e5e" stroke-width="1.3"/>
<ellipse cx="48.6" cy="183.6" rx="2.3" ry="2.6" fill="#ececec" stroke="#5e5e5e" stroke-width="1.3"/>
<ellipse cx="43.2" cy="186.6" rx="2.3" ry="2.6" fill="#ececec" stroke="#5e5e5e" stroke-width="1.3"/>
<ellipse cx="47.8" cy="187.6" rx="2.3" ry="2.6" fill="#ececec" stroke="#5e5e5e" stroke-width="1.3"/>
<ellipse cx="44" cy="190.6" rx="2.3" ry="2.6" fill="#ececec" stroke="#5e5e5e" stroke-width="1.3"/>
<ellipse cx="48.6" cy="191.6" rx="2.3" ry="2.6" fill="#ececec" stroke="#5e5e5e" stroke-width="1.3"/>
<ellipse cx="43.2" cy="194.6" rx="2.3" ry="2.6" fill="#ececec" stroke="#5e5e5e" stroke-width="1.3"/>
<ellipse cx="47.8" cy="195.6" rx="2.3" ry="2.6" fill="#ececec" stroke="#5e5e5e" stroke-width="1.3"/>
<ellipse cx="55.7" cy="175.6" rx="2.3" ry="2.6" fill="#ececec" stroke="#5e5e5e" stroke-width="1.3"/>
<ellipse cx="60.3" cy="176.6" rx="2.3" ry="2.6" fill="#ececec" stroke="#5e5e5e" stroke-width="1.3"/>
<ellipse cx="56.5" cy="179.6" rx="2.3" ry="2.6" fill="#ececec" stroke="#5e5e5e" stroke-width="1.3"/>
<ellipse cx="61.1" cy="180.6" rx="2.3" ry="2.6" fill="#ececec" stroke="#5e5e5e" stroke-width="1.3"/>
<ellipse cx="55.7" cy="183.6" rx="2.3" ry="2.6" fill="#ececec" stroke="#5e5e5e" stroke-width="1.3"/>
<ellipse cx="60.3" cy="184.6" rx="2.3" ry="2.6" fill="#ececec" stroke="#5e5e5e" stroke-width="1.3"/>
<ellipse cx="56.5" cy="187.6" rx="2.3" ry="2.6" fill="#ececec" stroke="#5e5e5e" stroke-width="1.3"/>
<ellipse cx="61.1" cy="188.6" rx="2.3" ry="2.6" fill="#ececec" stroke="#5e5e5e" stroke-width="1.3"/>
<ellipse cx="55.7" cy="191.6" rx="2.3" ry="2.6" fill="#ececec" stroke="#5e5e5e" stroke-width="1.3"/>
<ellipse cx="60.3" cy="192.6" rx="2.3" ry="2.6" fill="#ececec" stroke="#5e5e5e" stroke-width="1.3"/>
<ellipse cx="56.5" cy="195.6" rx="2.3" ry="2.6" fill="#ececec" stroke="#5e5e5e" stroke-width="1.3"/>
<ellipse cx="61.1" cy="196.6" rx="2.3" ry="2.6" fill="#ececec" stroke="#5e5e5e" stroke-width="1.3"/>
<ellipse cx="55.7" cy="199.6" rx="2.3" ry="2.6" fill="#ececec" stroke="#5e5e5e" stroke-width="1.3"/>
<ellipse cx="60.3" cy="200.6" rx="2.3" ry="2.6" fill="#ececec" stroke="#5e5e5e" stroke-width="1.3"/>
<ellipse cx="67.7" cy="175.6" rx="2.3" ry="2.6" fill="#ececec" stroke="#5e5e5e" stroke-width="1.3"/>
<ellipse cx="72.3" cy="176.6" rx="2.3" ry="2.6" fill="#ececec" stroke="#5e5e5e" stroke-width="1.3"/>
<ellipse cx="68.5" cy="179.6" rx="2.3" ry="2.6" fill="#ececec" stroke="#5e5e5e" stroke-width="1.3"/>
<ellipse cx="73.1" cy="180.6" rx="2.3" ry="2.6" fill="#ececec" stroke="#5e5e5e" stroke-width="1.3"/>
<ellipse cx="67.7" cy="183.6" rx="2.3" ry="2.6" fill="#ececec" stroke="#5e5e5e" stroke-width="1.3"/>
<ellipse cx="72.3" cy="184.6" rx="2.3" ry="2.6" fill="#ececec" stroke="#5e5e5e" stroke-width="1.3"/>
<ellipse cx="68.5" cy="187.6" rx="2.3" ry="2.6" fill="#ececec" stroke="#5e5e5e" stroke-width="1.3"/>
<ellipse cx="73.1" cy="188.6" rx="2.3" ry="2.6" fill="#ececec" stroke="#5e5e5e" stroke-width="1.3"/>
<ellipse cx="67.7" cy="191.6" rx="2.3" ry="2.6" fill="#ececec" stroke="#5e5e5e" stroke-width="1.3"/>
<ellipse cx="72.3" cy="192.6" rx="2.3" ry="2.6" fill="#ececec" stroke="#5e5e5e" stroke-width="1.3"/>
<ellipse cx="68.5" cy="195.6" rx="2.3" ry="2.6" fill="#ececec" stroke="#5e5e5e" stroke-width="1.3"/>
<ellipse cx="73.1" cy="196.6" rx="2.3" ry="2.6" fill="#ececec" stroke="#5e5e5e" stroke-width="1.3"/>
<ellipse cx="67.7" cy="199.6" rx="2.3" ry="2.6" fill="#ececec" stroke="#5e5e5e" stroke-width="1.3"/>
<ellipse cx="72.3" cy="200.6" rx="2.3" ry="2.6" fill="#ececec" stroke="#5e5e5e" stroke-width="1.3"/>
<ellipse cx="80" cy="178.6" rx="2.3" ry="2.6" fill="#ececec" stroke="#5e5e5e" stroke-width="1.3"/>
<ellipse cx="84.6" cy="179.6" rx="2.3" ry="2.6" fill="#ececec" stroke="#5e5e5e" stroke-width="1.3"/>
<ellipse cx="80.8" cy="182.6" rx="2.3" ry="2.6" fill="#ececec" stroke="#5e5e5e" stroke-width="1.3"/>
<ellipse cx="85.4" cy="183.6" rx="2.3" ry="2.6" fill="#ececec" stroke="#5e5e5e" stroke-width="1.3"/>
<ellipse cx="80" cy="186.6" rx="2.3" ry="2.6" fill="#ececec" stroke="#5e5e5e" stroke-width="1.3"/>
<ellipse cx="84.6" cy="187.6" rx="2.3" ry="2.6" fill="#ececec" stroke="#5e5e5e" stroke-width="1.3"/>
<ellipse cx="80.8" cy="190.6" rx="2.3" ry="2.6" fill="#ececec" stroke="#5e5e5e" stroke-width="1.3"/>
<ellipse cx="85.4" cy="191.6" rx="2.3" ry="2.6" fill="#ececec" stroke="#5e5e5e" stroke-width="1.3"/>
<ellipse cx="80" cy="194.6" rx="2.3" ry="2.6" fill="#ececec" stroke="#5e5e5e" stroke-width="1.3"/>
<ellipse cx="84.6" cy="195.6" rx="2.3" ry="2.6" fill="#ececec" stroke="#5e5e5e" stroke-width="1.3"/>
<ellipse cx="92.5" cy="181.6" rx="2.3" ry="2.6" fill="#ececec" stroke="#5e5e5e" stroke-width="1.3"/>
<ellipse cx="97.1" cy="182.6" rx="2.3" ry="2.6" fill="#ececec" stroke="#5e5e5e" stroke-width="1.3"/>
<ellipse cx="93.3" cy="185.6" rx="2.3" ry="2.6" fill="#ececec" stroke="#5e5e5e" stroke-width="1.3"/>
<ellipse cx="97.9" cy="186.6" rx="2.3" ry="2.6" fill="#ececec" stroke="#5e5e5e" stroke-width="1.3"/>
<ellipse cx="92.5" cy="189.6" rx="2.3" ry="2.6" fill="#ececec" stroke="#5e5e5e" stroke-width="1.3"/>
<ellipse cx="97.1" cy="190.6" rx="2.3" ry="2.6" fill="#ececec" stroke="#5e5e5e" stroke-width="1.3"/>
<ellipse cx="93.3" cy="193.6" rx="2.3" ry="2.6" fill="#ececec" stroke="#5e5e5e" stroke-width="1.3"/>
<ellipse cx="97.9" cy="194.6" rx="2.3" ry="2.6" fill="#ececec" stroke="#5e5e5e" stroke-width="1.3"/>
<circle cx="24.5" cy="184" r="1.5" fill="#f2cccc" stroke="none" stroke-width="1" />
<circle cx="24.5" cy="189.5" r="1.5" fill="#f2cccc" stroke="none" stroke-width="1" />
<circle cx="24.5" cy="195" r="1.5" fill="#f2cccc" stroke="none" stroke-width="1" />
<circle cx="103.5" cy="184" r="1.5" fill="#f2cccc" stroke="none" stroke-width="1" />
<circle cx="103.5" cy="189.5" r="1.5" fill="#f2cccc" stroke="none" stroke-width="1" />
<circle cx="103.5" cy="195" r="1.5" fill="#f2cccc" stroke="none" stroke-width="1" />
<circle cx="46" cy="174.5" r="1.5" fill="#f2cccc" stroke="none" stroke-width="1" />
<circle cx="57" cy="171" r="1.5" fill="#f2cccc" stroke="none" stroke-width="1" />
<circle cx="70" cy="171" r="1.5" fill="#f2cccc" stroke="none" stroke-width="1" />
<circle cx="82" cy="174.5" r="1.5" fill="#f2cccc" stroke="none" stroke-width="1" />
<circle cx="34" cy="177.5" r="1.5" fill="#f2cccc" stroke="none" stroke-width="1" />
<circle cx="94" cy="177.5" r="1.5" fill="#f2cccc" stroke="none" stroke-width="1" />
<line x1="64.8" y1="197" x2="64.2" y2="226" stroke="#d0733a" stroke-width="1.6" />
<line x1="64.2" y1="226" x2="64" y2="231.5" stroke="#c83030" stroke-width="1.6" />
<ellipse cx="63.8" cy="234.2" rx="2.3" ry="3" fill="#d42828"/>
<ellipse cx="56.5" cy="188.6" rx="3.2" ry="3.8" fill="#2fd0d8"/>
<ellipse cx="72.4" cy="188.6" rx="3.2" ry="3.8" fill="#2fd0d8"/>
<ellipse cx="75.5" cy="238" rx="2.6" ry="4.2" fill="#2fc8d0"/>
<circle cx="65" cy="194.5" r="3.6" fill="#d0733a" stroke="none" stroke-width="1" />
<text x="6.8" y="181.9" font-size="18.5" text-anchor="start" font-weight="bold" font-family='"Liberation Serif", serif' fill="#111" >d</text>
<text x="6" y="280.8" font-size="10.8" text-anchor="start" font-weight="bold" font-family='"Liberation Sans", sans-serif' fill="#111" >Fe<tspan font-size="8" dy="2">1</tspan><tspan dy="-2">-Pyridinic N</tspan><tspan font-size="8" dy="2">4</tspan><tspan dy="-2">-Pyrrolic O</tspan><tspan font-size="8" dy="2">1</tspan></text>
<line x1="165" y1="177.2" x2="308.8" y2="177.2" stroke="#999" stroke-width="0.8" stroke-dasharray="1.5,1.5"/>
<path d="M165,205.5 C167.5,204.47 174.17,201.62 180,199.3 C185.83,196.98 193.33,194.02 200,191.6 C206.67,189.18 213.33,186.7 220,184.8 C226.67,182.9 234.67,181.3 240,180.2 C245.33,179.1 248.33,178.65 252,178.2 C255.67,177.75 252.67,177.65 262,177.5 C271.33,177.35 300.33,177.33 308,177.3" fill="none" stroke="#e0a040" stroke-width="1.3" stroke-linejoin="round" stroke-linecap="round" />
<path d="M165,236 C165.5,235.5 167.08,234.08 168,233 C168.92,231.92 169.92,229.75 170.5,229.5 C171.08,229.25 170.92,231.75 171.5,231.5 C172.08,231.25 171.75,230.33 174,228 C176.25,225.67 181.17,220.92 185,217.5 C188.83,214.08 194.67,209.33 197,207.5 C199.33,205.67 196.83,208.08 199,206.5 C201.17,204.92 206.5,200.58 210,198 C213.5,195.42 215.83,193.28 220,191 C224.17,188.72 230.33,186.17 235,184.3 C239.67,182.43 244.17,180.88 248,179.8 C251.83,178.72 254.33,178.2 258,177.8 C261.67,177.4 261.67,177.48 270,177.4 C278.33,177.32 301.67,177.32 308,177.3" fill="none" stroke="#6a35b0" stroke-width="1.3" stroke-linejoin="round" stroke-linecap="round" />
<path d="M165,256 C165.83,255.08 168.33,252.33 170,250.5 C171.67,248.67 172.08,248.08 175,245 C177.92,241.92 183.33,236.17 187.5,232 C191.67,227.83 196.25,223.75 200,220 C203.75,216.25 206.67,212.95 210,209.5 C213.33,206.05 216.67,202.3 220,199.3 C223.33,196.3 226.67,193.88 230,191.5 C233.33,189.12 236.67,186.83 240,185 C243.33,183.17 247,181.67 250,180.5 C253,179.33 255,178.52 258,178 C261,177.48 259.67,177.52 268,177.4 C276.33,177.28 301.33,177.32 308,177.3" fill="none" stroke="#b3263a" stroke-width="1.3" stroke-linejoin="round" stroke-linecap="round" />
<line x1="165" y1="167.8" x2="308.8" y2="167.8" stroke="#555" stroke-width="1" />
<line x1="308.8" y1="167.8" x2="308.8" y2="273.3" stroke="#555" stroke-width="1" />
<line x1="165" y1="167.8" x2="165" y2="273.3" stroke="#555" stroke-width="1.6" />
<line x1="165" y1="273.3" x2="308.8" y2="273.3" stroke="#555" stroke-width="1.6" />
<line x1="162.5" y1="177.2" x2="165" y2="177.2" stroke="#555" stroke-width="1" />
<line x1="162.5" y1="215.8" x2="165" y2="215.8" stroke="#555" stroke-width="1" />
<line x1="162.5" y1="254.4" x2="165" y2="254.4" stroke="#555" stroke-width="1" />
<line x1="178.3" y1="273.3" x2="178.3" y2="275.8" stroke="#555" stroke-width="1" />
<line x1="204.98" y1="273.3" x2="204.98" y2="275.8" stroke="#555" stroke-width="1" />
<line x1="231.66" y1="273.3" x2="231.66" y2="275.8" stroke="#555" stroke-width="1" />
<line x1="258.34" y1="273.3" x2="258.34" y2="275.8" stroke="#555" stroke-width="1" />
<line x1="285.02" y1="273.3" x2="285.02" y2="275.8" stroke="#555" stroke-width="1" />
<text x="161.5" y="179.5" font-size="6.5" text-anchor="end" font-weight="normal" font-family='"Liberation Sans", sans-serif' fill="#333" >0</text>
<text x="161.5" y="218.1" font-size="6.5" text-anchor="end" font-weight="normal" font-family='"Liberation Sans", sans-serif' fill="#333" >-10</text>
<text x="161.5" y="256.7" font-size="6.5" text-anchor="end" font-weight="normal" font-family='"Liberation Sans", sans-serif' fill="#333" >-20</text>
<text x="178.3" y="282.3" font-size="6.4" text-anchor="middle" font-weight="normal" font-family='"Liberation Sans", sans-serif' fill="#333" >-1.0</text>
<text x="204.98" y="282.3" font-size="6.4" text-anchor="middle" font-weight="normal" font-family='"Liberation Sans", sans-serif' fill="#333" >-0.8</text>
<text x="231.66" y="282.3" font-size="6.4" text-anchor="middle" font-weight="normal" font-family='"Liberation Sans", sans-serif' fill="#333" >-0.6</text>
<text x="258.34" y="282.3" font-size="6.4" text-anchor="middle" font-weight="normal" font-family='"Liberation Sans", sans-serif' fill="#333" >-0.4</text>
<text x="285.02" y="282.3" font-size="6.4" text-anchor="middle" font-weight="normal" font-family='"Liberation Sans", sans-serif' fill="#333" >-0.2</text>
<text x="236.8" y="289.7" font-size="6.7" text-anchor="middle" font-weight="normal" font-family='"Liberation Sans", sans-serif' fill="#333" >Potential ( V vs. RHE)</text>
<text x="146.8" y="221.7" font-size="7.2" text-anchor="middle" font-weight="normal" font-family='"Liberation Sans", sans-serif' fill="#333" transform="rotate(-90 146.8 221.7)" >J<tspan font-size="4.2" dy="1.5">total</tspan><tspan dy="-1.5">(mA·cm</tspan><tspan font-size="4.2" dy="-2.8">-2</tspan><tspan dy="2.8">)</tspan></text>
<text x="144.3" y="178" font-size="18.5" text-anchor="start" font-weight="bold" font-family='"Liberation Serif", serif' fill="#111" >e</text>
<line x1="235.8" y1="220.6" x2="245.3" y2="220.6" stroke="#e0a040" stroke-width="1.4" />
<text x="248.9" y="222.9" font-size="6.3" text-anchor="start" font-weight="normal" font-family='"Liberation Sans", sans-serif' fill="#d9a54e" >FePor-400</text>
<line x1="235.8" y1="236.9" x2="245.3" y2="236.9" stroke="#6a35b0" stroke-width="1.4" />
<text x="248.9" y="239.2" font-size="6.3" text-anchor="start" font-weight="normal" font-family='"Liberation Sans", sans-serif' fill="#7448ae" >Fe-CN<tspan font-size="3.8" dy="2">400</tspan><tspan dy="-2">-400</tspan></text>
<line x1="235.8" y1="252.2" x2="245.3" y2="252.2" stroke="#b3263a" stroke-width="1.4" />
<text x="248.9" y="254.5" font-size="6.3" text-anchor="start" font-weight="normal" font-family='"Liberation Sans", sans-serif' fill="#a8304a" >Fe-CON<tspan font-size="3.8" dy="2">400</tspan><tspan dy="-2">-400</tspan></text>
<line x1="332.5" y1="178.66" x2="477.4" y2="178.66" stroke="#c46a7a" stroke-width="0.7" />
<rect x="335" y="178.66" width="3.4" height="95.34" fill="url(#gOr)" stroke="none" stroke-width="1" />
<rect x="344.2" y="178.66" width="3.4" height="95.34" fill="url(#gOr)" stroke="none" stroke-width="1" />
<rect x="353" y="178.66" width="3.4" height="95.34" fill="url(#gOr)" stroke="none" stroke-width="1" />
<rect x="362" y="178.66" width="3.4" height="95.34" fill="url(#gOr)" stroke="none" stroke-width="1" />
<rect x="371.2" y="180.97" width="3.4" height="93.03" fill="url(#gOr)" stroke="none" stroke-width="1" />
<rect x="380.3" y="188.39" width="3.4" height="85.61" fill="url(#gOr)" stroke="none" stroke-width="1" />
<rect x="397.9" y="222.38" width="3.4" height="51.62" fill="url(#gOr)" stroke="none" stroke-width="1" />
<rect x="407" y="212.37" width="3.4" height="61.63" fill="url(#gOr)" stroke="none" stroke-width="1" />
<rect x="416" y="218.15" width="3.4" height="55.85" fill="url(#gOr)" stroke="none" stroke-width="1" />
<rect x="425.4" y="238.37" width="3.4" height="35.63" fill="url(#gOr)" stroke="none" stroke-width="1" />
<rect x="443" y="258.78" width="3.4" height="15.22" fill="url(#gOr)" stroke="none" stroke-width="1" />
<rect x="452" y="247.61" width="3.4" height="26.39" fill="url(#gOr)" stroke="none" stroke-width="1" />
<rect x="461" y="262.16" width="3.4" height="11.84" fill="url(#gOr)" stroke="none" stroke-width="1" />
<rect x="470" y="268.8" width="3.4" height="5.2" fill="url(#gOr)" stroke="none" stroke-width="1" />
<rect x="375" y="271.59" width="3.4" height="2.41" fill="url(#gTe)" stroke="none" stroke-width="1" />
<rect x="384.2" y="263.41" width="3.4" height="10.59" fill="url(#gTe)" stroke="none" stroke-width="1" />
<rect x="401.4" y="228.45" width="3.4" height="45.55" fill="url(#gTe)" stroke="none" stroke-width="1" />
<rect x="410.4" y="239.04" width="3.4" height="34.96" fill="url(#gTe)" stroke="none" stroke-width="1" />
<rect x="419.7" y="233.17" width="3.4" height="40.83" fill="url(#gTe)" stroke="none" stroke-width="1" />
<rect x="428.4" y="212.85" width="3.4" height="61.15" fill="url(#gTe)" stroke="none" stroke-width="1" />
<rect x="446.4" y="193.11" width="3.4" height="80.89" fill="url(#gTe)" stroke="none" stroke-width="1" />
<rect x="455.5" y="203.03" width="3.4" height="70.97" fill="url(#gTe)" stroke="none" stroke-width="1" />
<rect x="464.2" y="189.26" width="3.4" height="84.74" fill="url(#gTe)" stroke="none" stroke-width="1" />
<rect x="473.2" y="182.51" width="3.4" height="91.48" fill="url(#gTe)" stroke="none" stroke-width="1" />
<rect x="332.5" y="167.6" width="144.9" height="106.4" fill="none" stroke="#444" stroke-width="1" />
<line x1="330.5" y1="274" x2="332.5" y2="274" stroke="#444" stroke-width="1" />
<line x1="330.5" y1="254.74" x2="332.5" y2="254.74" stroke="#444" stroke-width="1" />
<line x1="330.5" y1="235.48" x2="332.5" y2="235.48" stroke="#444" stroke-width="1" />
<line x1="330.5" y1="216.22" x2="332.5" y2="216.22" stroke="#444" stroke-width="1" />
<line x1="330.5" y1="196.96" x2="332.5" y2="196.96" stroke="#444" stroke-width="1" />
<line x1="330.5" y1="177.7" x2="332.5" y2="177.7" stroke="#444" stroke-width="1" />
<line x1="331.3" y1="264.37" x2="332.5" y2="264.37" stroke="#444" stroke-width="1" />
<line x1="331.3" y1="245.11" x2="332.5" y2="245.11" stroke="#444" stroke-width="1" />
<line x1="331.3" y1="225.85" x2="332.5" y2="225.85" stroke="#444" stroke-width="1" />
<line x1="331.3" y1="206.59" x2="332.5" y2="206.59" stroke="#444" stroke-width="1" />
<line x1="331.3" y1="187.33" x2="332.5" y2="187.33" stroke="#444" stroke-width="1" />
<text x="328.7" y="276.7" font-size="7.5" text-anchor="end" font-weight="normal" font-family='"Liberation Sans", sans-serif' fill="#333" >0</text>
<text x="328.7" y="257.44" font-size="7.5" text-anchor="end" font-weight="normal" font-family='"Liberation Sans", sans-serif' fill="#333" >20</text>
<text x="328.7" y="238.18" font-size="7.5" text-anchor="end" font-weight="normal" font-family='"Liberation Sans", sans-serif' fill="#333" >40</text>
<text x="328.7" y="218.92" font-size="7.5" text-anchor="end" font-weight="normal" font-family='"Liberation Sans", sans-serif' fill="#333" >60</text>
<text x="328.7" y="199.66" font-size="7.5" text-anchor="end" font-weight="normal" font-family='"Liberation Sans", sans-serif' fill="#333" >80</text>
<text x="328.7" y="180.4" font-size="7.5" text-anchor="end" font-weight="normal" font-family='"Liberation Sans", sans-serif' fill="#333" >100</text>
<text x="318.2" y="219.2" font-size="6.4" text-anchor="middle" font-weight="normal" font-family='"Liberation Sans", sans-serif' fill="#333" transform="rotate(-90 318.2 219.2)" >FE(%)</text>
<text x="311.5" y="181" font-size="18" text-anchor="start" font-weight="bold" font-family='"Liberation Serif", serif' fill="#111" >f</text>
<text x="449" y="178" font-size="7.4" text-anchor="middle" font-weight="normal" font-family='"Liberation Sans", sans-serif' fill="#a8303f" >99%</text>
<rect x="393.8" y="188.6" width="4.2" height="4.4" fill="#f08020" stroke="none" stroke-width="1" />
<text x="398.5" y="193.2" font-size="7" text-anchor="start" font-weight="normal" font-family='"Liberation Sans", sans-serif' fill="#333" >FE<tspan font-size="4.3" dy="2">CO</tspan></text>
<rect x="418.4" y="188.6" width="4.2" height="4.4" fill="#5ccfd6" stroke="none" stroke-width="1" />
<text x="423" y="193.2" font-size="7" text-anchor="start" font-weight="normal" font-family='"Liberation Sans", sans-serif' fill="#333" >FE<tspan font-size="4.3" dy="2">H2</tspan></text>
<text x="336.7" y="175.6" font-size="3.8" text-anchor="middle" font-weight="normal" font-family='"Liberation Sans", sans-serif' fill="#5a3f9a" >-0.53</text>
<text x="345.75" y="175.6" font-size="3.8" text-anchor="middle" font-weight="normal" font-family='"Liberation Sans", sans-serif' fill="#5a3f9a" >-0.68</text>
<text x="354.8" y="175.6" font-size="3.8" text-anchor="middle" font-weight="normal" font-family='"Liberation Sans", sans-serif' fill="#5a3f9a" >-0.78</text>
<text x="363.85" y="175.6" font-size="3.8" text-anchor="middle" font-weight="normal" font-family='"Liberation Sans", sans-serif' fill="#5a3f9a" >-0.87</text>
<text x="372.9" y="177.2" font-size="3.8" text-anchor="middle" font-weight="normal" font-family='"Liberation Sans", sans-serif' fill="#5a3f9a" >-0.97</text>
<text x="382" y="185.5" font-size="3.8" text-anchor="middle" font-weight="normal" font-family='"Liberation Sans", sans-serif' fill="#5a3f9a" >-1.09</text>
<text x="400" y="220" font-size="3.8" text-anchor="middle" font-weight="normal" font-family='"Liberation Sans", sans-serif' fill="#5a3f9a" >-0.73</text>
<text x="410" y="209.5" font-size="3.8" text-anchor="middle" font-weight="normal" font-family='"Liberation Sans", sans-serif' fill="#5a3f9a" >-0.85</text>
<text x="419.3" y="215.5" font-size="3.8" text-anchor="middle" font-weight="normal" font-family='"Liberation Sans", sans-serif' fill="#5a3f9a" >-0.92</text>
<text x="433" y="210" font-size="3.8" text-anchor="middle" font-weight="normal" font-family='"Liberation Sans", sans-serif' fill="#5a3f9a" >-0.99</text>
<text x="445.8" y="188" font-size="3.8" text-anchor="middle" font-weight="normal" font-family='"Liberation Sans", sans-serif' fill="#5a3f9a" >-0.69</text>
<text x="457.2" y="198" font-size="3.8" text-anchor="middle" font-weight="normal" font-family='"Liberation Sans", sans-serif' fill="#5a3f9a" >-0.78</text>
<text x="464.5" y="185" font-size="3.8" text-anchor="middle" font-weight="normal" font-family='"Liberation Sans", sans-serif' fill="#5a3f9a" >-0.96</text>
<text x="473" y="181" font-size="3.8" text-anchor="middle" font-weight="normal" font-family='"Liberation Sans", sans-serif' fill="#5a3f9a" >-1.1</text>
<text x="360.5" y="284" font-size="6.9" text-anchor="middle" font-weight="normal" font-family='"Liberation Sans", sans-serif' fill="#333" >Fe-CON<tspan font-size="4" dy="2.3">400</tspan><tspan dy="-2.3">-400</tspan></text>
<text x="414.6" y="284" font-size="6.9" text-anchor="middle" font-weight="normal" font-family='"Liberation Sans", sans-serif' fill="#333" >FePor-400</text>
<text x="460" y="284" font-size="6.9" text-anchor="middle" font-weight="normal" font-family='"Liberation Sans", sans-serif' fill="#333" >CON<tspan font-size="4" dy="2.3">400</tspan></text>
<polygon points="83.7,340 89.33,343.25 89.33,349.75 83.7,353 78.07,349.75 78.07,343.25" fill="#fff" stroke="#6c6c6c" stroke-width="2" stroke-linejoin="round"/>
<polygon points="89.5,349.25 95.13,352.5 95.13,359 89.5,362.25 83.87,359 83.87,352.5" fill="#fff" stroke="#6c6c6c" stroke-width="2" stroke-linejoin="round"/>
<polygon points="95.3,358.5 100.93,361.75 100.93,368.25 95.3,371.5 89.67,368.25 89.67,361.75" fill="#fff" stroke="#6c6c6c" stroke-width="2" stroke-linejoin="round"/>
<polygon points="101.1,367.75 106.73,371 106.73,377.5 101.1,380.75 95.47,377.5 95.47,371" fill="#fff" stroke="#6c6c6c" stroke-width="2" stroke-linejoin="round"/>
<polygon points="94.7,339.4 100.33,342.65 100.33,349.15 94.7,352.4 89.07,349.15 89.07,342.65" fill="#fff" stroke="#6c6c6c" stroke-width="2" stroke-linejoin="round"/>
<polygon points="100.5,348.65 106.13,351.9 106.13,358.4 100.5,361.65 94.87,358.4 94.87,351.9" fill="#fff" stroke="#6c6c6c" stroke-width="2" stroke-linejoin="round"/>
<polygon points="106.3,357.9 111.93,361.15 111.93,367.65 106.3,370.9 100.67,367.65 100.67,361.15" fill="#fff" stroke="#6c6c6c" stroke-width="2" stroke-linejoin="round"/>
<polygon points="112.1,367.15 117.73,370.4 117.73,376.9 112.1,380.15 106.47,376.9 106.47,370.4" fill="#fff" stroke="#6c6c6c" stroke-width="2" stroke-linejoin="round"/>
<polygon points="105.7,338.8 111.33,342.05 111.33,348.55 105.7,351.8 100.07,348.55 100.07,342.05" fill="#fff" stroke="#6c6c6c" stroke-width="2" stroke-linejoin="round"/>
<polygon points="111.5,348.05 117.13,351.3 117.13,357.8 111.5,361.05 105.87,357.8 105.87,351.3" fill="#fff" stroke="#6c6c6c" stroke-width="2" stroke-linejoin="round"/>
<polygon points="117.3,357.3 122.93,360.55 122.93,367.05 117.3,370.3 111.67,367.05 111.67,360.55" fill="#fff" stroke="#6c6c6c" stroke-width="2" stroke-linejoin="round"/>
<polygon points="123.1,366.55 128.73,369.8 128.73,376.3 123.1,379.55 117.47,376.3 117.47,369.8" fill="#fff" stroke="#6c6c6c" stroke-width="2" stroke-linejoin="round"/>
<polygon points="116.7,338.2 122.33,341.45 122.33,347.95 116.7,351.2 111.07,347.95 111.07,341.45" fill="#fff" stroke="#6c6c6c" stroke-width="2" stroke-linejoin="round"/>
<polygon points="122.5,347.45 128.13,350.7 128.13,357.2 122.5,360.45 116.87,357.2 116.87,350.7" fill="#fff" stroke="#6c6c6c" stroke-width="2" stroke-linejoin="round"/>
<polygon points="128.3,356.7 133.93,359.95 133.93,366.45 128.3,369.7 122.67,366.45 122.67,359.95" fill="#fff" stroke="#6c6c6c" stroke-width="2" stroke-linejoin="round"/>
<polygon points="134.1,365.95 139.73,369.2 139.73,375.7 134.1,378.95 128.47,375.7 128.47,369.2" fill="#fff" stroke="#6c6c6c" stroke-width="2" stroke-linejoin="round"/>
<circle cx="83.7" cy="340" r="1.5" fill="#8a8a8a" stroke="none" stroke-width="1" />
<circle cx="89.33" cy="343.25" r="1.5" fill="#8a8a8a" stroke="none" stroke-width="1" />
<circle cx="89.33" cy="349.75" r="1.5" fill="#8a8a8a" stroke="none" stroke-width="1" />
<circle cx="83.7" cy="353" r="1.5" fill="#8a8a8a" stroke="none" stroke-width="1" />
<circle cx="78.07" cy="349.75" r="1.5" fill="#8a8a8a" stroke="none" stroke-width="1" />
<circle cx="78.07" cy="343.25" r="1.5" fill="#8a8a8a" stroke="none" stroke-width="1" />
<circle cx="89.5" cy="349.25" r="1.5" fill="#8a8a8a" stroke="none" stroke-width="1" />
<circle cx="95.13" cy="352.5" r="1.5" fill="#8a8a8a" stroke="none" stroke-width="1" />
<circle cx="95.13" cy="359" r="1.5" fill="#8a8a8a" stroke="none" stroke-width="1" />
<circle cx="89.5" cy="362.25" r="1.5" fill="#8a8a8a" stroke="none" stroke-width="1" />
<circle cx="83.87" cy="359" r="1.5" fill="#8a8a8a" stroke="none" stroke-width="1" />
<circle cx="83.87" cy="352.5" r="1.5" fill="#8a8a8a" stroke="none" stroke-width="1" />
<circle cx="95.3" cy="358.5" r="1.5" fill="#8a8a8a" stroke="none" stroke-width="1" />
<circle cx="100.93" cy="361.75" r="1.5" fill="#8a8a8a" stroke="none" stroke-width="1" />
<circle cx="100.93" cy="368.25" r="1.5" fill="#8a8a8a" stroke="none" stroke-width="1" />
<circle cx="95.3" cy="371.5" r="1.5" fill="#8a8a8a" stroke="none" stroke-width="1" />
<circle cx="89.67" cy="368.25" r="1.5" fill="#8a8a8a" stroke="none" stroke-width="1" />
<circle cx="106.73" cy="371" r="1.5" fill="#8a8a8a" stroke="none" stroke-width="1" />
<circle cx="106.73" cy="377.5" r="1.5" fill="#8a8a8a" stroke="none" stroke-width="1" />
<circle cx="101.1" cy="380.75" r="1.5" fill="#8a8a8a" stroke="none" stroke-width="1" />
<circle cx="95.47" cy="377.5" r="1.5" fill="#8a8a8a" stroke="none" stroke-width="1" />
<circle cx="95.47" cy="371" r="1.5" fill="#8a8a8a" stroke="none" stroke-width="1" />
<circle cx="94.7" cy="339.4" r="1.5" fill="#8a8a8a" stroke="none" stroke-width="1" />
<circle cx="100.33" cy="342.65" r="1.5" fill="#8a8a8a" stroke="none" stroke-width="1" />
<circle cx="100.33" cy="349.15" r="1.5" fill="#8a8a8a" stroke="none" stroke-width="1" />
<circle cx="89.07" cy="349.15" r="1.5" fill="#8a8a8a" stroke="none" stroke-width="1" />
<circle cx="106.13" cy="351.9" r="1.5" fill="#8a8a8a" stroke="none" stroke-width="1" />
<circle cx="106.13" cy="358.4" r="1.5" fill="#8a8a8a" stroke="none" stroke-width="1" />
<circle cx="100.5" cy="361.65" r="1.5" fill="#8a8a8a" stroke="none" stroke-width="1" />
<circle cx="111.93" cy="361.15" r="1.5" fill="#8a8a8a" stroke="none" stroke-width="1" />
<circle cx="111.93" cy="367.65" r="1.5" fill="#8a8a8a" stroke="none" stroke-width="1" />
<circle cx="106.3" cy="370.9" r="1.5" fill="#8a8a8a" stroke="none" stroke-width="1" />
<circle cx="100.67" cy="361.15" r="1.5" fill="#8a8a8a" stroke="none" stroke-width="1" />
<circle cx="112.1" cy="367.15" r="1.5" fill="#8a8a8a" stroke="none" stroke-width="1" />
<circle cx="117.73" cy="370.4" r="1.5" fill="#8a8a8a" stroke="none" stroke-width="1" />
<circle cx="117.73" cy="376.9" r="1.5" fill="#8a8a8a" stroke="none" stroke-width="1" />
<circle cx="112.1" cy="380.15" r="1.5" fill="#8a8a8a" stroke="none" stroke-width="1" />
<circle cx="106.47" cy="376.9" r="1.5" fill="#8a8a8a" stroke="none" stroke-width="1" />
<circle cx="106.47" cy="370.4" r="1.5" fill="#8a8a8a" stroke="none" stroke-width="1" />
<circle cx="105.7" cy="338.8" r="1.5" fill="#8a8a8a" stroke="none" stroke-width="1" />
<circle cx="111.33" cy="342.05" r="1.5" fill="#8a8a8a" stroke="none" stroke-width="1" />
<circle cx="111.33" cy="348.55" r="1.5" fill="#8a8a8a" stroke="none" stroke-width="1" />
<circle cx="100.07" cy="342.05" r="1.5" fill="#8a8a8a" stroke="none" stroke-width="1" />
<circle cx="111.5" cy="348.05" r="1.5" fill="#8a8a8a" stroke="none" stroke-width="1" />
<circle cx="117.13" cy="351.3" r="1.5" fill="#8a8a8a" stroke="none" stroke-width="1" />
<circle cx="117.13" cy="357.8" r="1.5" fill="#8a8a8a" stroke="none" stroke-width="1" />
<circle cx="105.87" cy="351.3" r="1.5" fill="#8a8a8a" stroke="none" stroke-width="1" />
<circle cx="117.3" cy="357.3" r="1.5" fill="#8a8a8a" stroke="none" stroke-width="1" />
<circle cx="122.93" cy="360.55" r="1.5" fill="#8a8a8a" stroke="none" stroke-width="1" />
<circle cx="122.93" cy="367.05" r="1.5" fill="#8a8a8a" stroke="none" stroke-width="1" />
<circle cx="117.3" cy="370.3" r="1.5" fill="#8a8a8a" stroke="none" stroke-width="1" />
<circle cx="128.73" cy="369.8" r="1.5" fill="#8a8a8a" stroke="none" stroke-width="1" />
<circle cx="128.73" cy="376.3" r="1.5" fill="#8a8a8a" stroke="none" stroke-width="1" />
<circle cx="123.1" cy="379.55" r="1.5" fill="#8a8a8a" stroke="none" stroke-width="1" />
<circle cx="117.47" cy="376.3" r="1.5" fill="#8a8a8a" stroke="none" stroke-width="1" />
<circle cx="116.7" cy="338.2" r="1.5" fill="#8a8a8a" stroke="none" stroke-width="1" />
<circle cx="122.33" cy="341.45" r="1.5" fill="#8a8a8a" stroke="none" stroke-width="1" />
<circle cx="122.33" cy="347.95" r="1.5" fill="#8a8a8a" stroke="none" stroke-width="1" />
<circle cx="111.07" cy="347.95" r="1.5" fill="#8a8a8a" stroke="none" stroke-width="1" />
<circle cx="111.07" cy="341.45" r="1.5" fill="#8a8a8a" stroke="none" stroke-width="1" />
<circle cx="122.5" cy="347.45" r="1.5" fill="#8a8a8a" stroke="none" stroke-width="1" />
<circle cx="128.13" cy="350.7" r="1.5" fill="#8a8a8a" stroke="none" stroke-width="1" />
<circle cx="128.13" cy="357.2" r="1.5" fill="#8a8a8a" stroke="none" stroke-width="1" />
<circle cx="122.5" cy="360.45" r="1.5" fill="#8a8a8a" stroke="none" stroke-width="1" />
<circle cx="133.93" cy="359.95" r="1.5" fill="#8a8a8a" stroke="none" stroke-width="1" />
<circle cx="133.93" cy="366.45" r="1.5" fill="#8a8a8a" stroke="none" stroke-width="1" />
<circle cx="128.3" cy="369.7" r="1.5" fill="#8a8a8a" stroke="none" stroke-width="1" />
<circle cx="122.67" cy="366.45" r="1.5" fill="#8a8a8a" stroke="none" stroke-width="1" />
<circle cx="122.67" cy="359.95" r="1.5" fill="#8a8a8a" stroke="none" stroke-width="1" />
<circle cx="139.73" cy="369.2" r="1.5" fill="#8a8a8a" stroke="none" stroke-width="1" />
<circle cx="139.73" cy="375.7" r="1.5" fill="#8a8a8a" stroke="none" stroke-width="1" />
<circle cx="134.1" cy="378.95" r="1.5" fill="#8a8a8a" stroke="none" stroke-width="1" />
<circle cx="128.47" cy="375.7" r="1.5" fill="#8a8a8a" stroke="none" stroke-width="1" />
<circle cx="128.47" cy="369.2" r="1.5" fill="#8a8a8a" stroke="none" stroke-width="1" />
<polygon points="111.06,356.57 106.3,348.77 101.7,353.23 109.34,358.23" fill="#1414d2" stroke="none" stroke-width="1" />
<circle cx="104" cy="351" r="1.8" fill="#2020c8" stroke="none" stroke-width="1" />
<polygon points="110.34,358.59 117.56,359.78 116.84,353.42 110.06,356.21" fill="#1414d2" stroke="none" stroke-width="1" />
<circle cx="117.2" cy="356.6" r="1.8" fill="#2020c8" stroke="none" stroke-width="1" />
<polygon points="109.74,356.29 99.66,358.35 102.14,364.25 110.66,358.51" fill="#1414d2" stroke="none" stroke-width="1" />
<circle cx="100.9" cy="361.3" r="1.8" fill="#2020c8" stroke="none" stroke-width="1" />
<polygon points="109.07,357.81 110.29,367.09 116.31,364.91 111.33,356.99" fill="#1414d2" stroke="none" stroke-width="1" />
<circle cx="113.3" cy="366" r="1.8" fill="#2020c8" stroke="none" stroke-width="1" />
<circle cx="110.2" cy="357.4" r="1.6" fill="#5a5ad8" stroke="none" stroke-width="1" />
<line x1="110.2" y1="357.4" x2="111.6" y2="353.5" stroke="#333" stroke-width="1.1" />
<circle cx="111.9" cy="352.6" r="2.4" fill="#d81818" stroke="none" stroke-width="1" />
<path d="M17.5,397.5 C17.92,397.17 19.17,395.95 20,395.5 C20.83,395.05 21.67,394.72 22.5,394.8 C23.33,394.88 24.25,395.55 25,396 C25.75,396.45 26.33,397.5 27,397.5 C27.67,397.5 28.33,396.92 29,396 C29.67,395.08 30.33,393.83 31,392 C31.67,390.17 32.33,388.33 33,385 C33.67,381.67 34.33,377 35,372 C35.67,367 36.33,361.17 37,355 C37.67,348.83 38.33,340.83 39,335 C39.67,329.17 40.42,323.28 41,320 C41.58,316.72 42,315.63 42.5,315.3 C43,314.97 43.42,315.22 44,318 C44.58,320.78 45.33,325.83 46,332 C46.67,338.17 47.33,347.83 48,355 C48.67,362.17 49.42,370.83 50,375 C50.58,379.17 51,378.92 51.5,380 C52,381.08 52.42,380.83 53,381.5 C53.58,382.17 54.33,382.92 55,384 C55.67,385.08 56.33,387.08 57,388 C57.67,388.92 58.33,389.92 59,389.5 C59.67,389.08 60.33,386.53 61,385.5 C61.67,384.47 62.33,383.3 63,383.3 C63.67,383.3 64.33,384.63 65,385.5 C65.67,386.37 66.25,388.17 67,388.5 C67.75,388.83 68.67,388.05 69.5,387.5 C70.33,386.95 71.08,385.12 72,385.2 C72.92,385.28 74,387.2 75,388 C76,388.8 77.08,389.75 78,390 C78.92,390.25 79.67,389.42 80.5,389.5 C81.33,389.58 82.08,389.92 83,390.5 C83.92,391.08 85,392.42 86,393 C87,393.58 88,393.75 89,394 C90,394.25 91.17,394.17 92,394.5 C92.83,394.83 93.17,395.58 94,396 C94.83,396.42 95.17,396.83 97,397 C98.83,397.17 102.83,397.08 105,397 C107.17,396.92 108.5,396.7 110,396.5 C111.5,396.3 112.67,395.8 114,395.8 C115.33,395.8 116.17,396.22 118,396.5 C119.83,396.78 122.17,397.25 125,397.5 C127.83,397.75 131.17,397.92 135,398 C138.83,398.08 145.83,398 148,398" fill="none" stroke="#2a2a2a" stroke-width="0.75" stroke-linejoin="round" stroke-linecap="round" />
<g fill="#e8c4c4" stroke="#c98282" stroke-width="0.6"><circle cx="17.8" cy="395.34" r="1.25"/><circle cx="18.62" cy="394.92" r="1.25"/><circle cx="19.44" cy="394.49" r="1.25"/><circle cx="20.26" cy="394.16" r="1.25"/><circle cx="21.08" cy="394.03" r="1.25"/><circle cx="21.9" cy="393.9" r="1.25"/><circle cx="22.72" cy="393.89" r="1.25"/><circle cx="23.54" cy="394.22" r="1.25"/><circle cx="24.36" cy="394.54" r="1.25"/><circle cx="25.18" cy="394.95" r="1.25"/><circle cx="26" cy="395.65" r="1.25"/><circle cx="26.82" cy="396.35" r="1.25"/><circle cx="27.64" cy="396.12" r="1.25"/><circle cx="28.46" cy="395.62" r="1.25"/><circle cx="29.28" cy="394.77" r="1.25"/><circle cx="30.1" cy="393.21" r="1.25"/><circle cx="30.92" cy="391.65" r="1.25"/><circle cx="31.74" cy="388.91" r="1.25"/><circle cx="32.56" cy="386.04" r="1.25"/><circle cx="33.38" cy="382.03" r="1.25"/><circle cx="34.2" cy="376.7" r="1.25"/><circle cx="35.02" cy="371.33" r="1.25"/><circle cx="35.84" cy="364.36" r="1.25"/><circle cx="36.66" cy="357.39" r="1.25"/><circle cx="37.48" cy="349.7" r="1.25"/><circle cx="38.3" cy="341.5" r="1.25"/><circle cx="39.12" cy="333.6" r="1.25"/><circle cx="39.94" cy="327.45" r="1.25"/><circle cx="40.76" cy="321.3" r="1.25"/><circle cx="41.58" cy="317.68" r="1.25"/><circle cx="42.4" cy="315.11" r="1.25"/><circle cx="43.22" cy="316.1" r="1.25"/><circle cx="44.04" cy="317.78" r="1.25"/><circle cx="44.86" cy="323.52" r="1.25"/><circle cx="45.68" cy="329.26" r="1.25"/><circle cx="46.5" cy="337.25" r="1.25"/><circle cx="47.32" cy="346.68" r="1.25"/><circle cx="48.14" cy="355.9" r="1.25"/><circle cx="48.96" cy="364.1" r="1.25"/><circle cx="49.78" cy="372.3" r="1.25"/><circle cx="50.6" cy="376.5" r="1.25"/><circle cx="51.42" cy="379.23" r="1.25"/><circle cx="52.24" cy="380.49" r="1.25"/><circle cx="53.06" cy="381.59" r="1.25"/><circle cx="53.88" cy="382.82" r="1.25"/><circle cx="54.7" cy="384.05" r="1.25"/><circle cx="55.52" cy="385.54" r="1.25"/><circle cx="56.34" cy="387.18" r="1.25"/><circle cx="57.16" cy="388.68" r="1.25"/><circle cx="57.98" cy="389.63" r="1.25"/><circle cx="58.8" cy="390.57" r="1.25"/><circle cx="59.62" cy="391.25" r="1.25"/><circle cx="60.44" cy="391.86" r="1.25"/><circle cx="61.26" cy="392.46" r="1.25"/><circle cx="62.08" cy="393.05" r="1.25"/><circle cx="62.9" cy="393.56" r="1.25"/><circle cx="63.72" cy="394.07" r="1.25"/><circle cx="64.54" cy="394.58" r="1.25"/><circle cx="65.36" cy="395.09" r="1.25"/><circle cx="66.18" cy="395.6" r="1.25"/><circle cx="67" cy="396.01" r="1.25"/><circle cx="67.82" cy="396.37" r="1.25"/><circle cx="68.64" cy="396.72" r="1.25"/><circle cx="69.46" cy="397.07" r="1.25"/><circle cx="70.28" cy="397.39" r="1.25"/><circle cx="71.1" cy="397.64" r="1.25"/><circle cx="71.92" cy="397.9" r="1.25"/><circle cx="72.74" cy="398.16" r="1.25"/><circle cx="73.56" cy="398.34" r="1.25"/><circle cx="74.38" cy="398.44" r="1.25"/><circle cx="75.2" cy="398.54" r="1.25"/><circle cx="76.02" cy="398.63" r="1.25"/><circle cx="76.84" cy="398.73" r="1.25"/><circle cx="77.66" cy="398.82" r="1.25"/><circle cx="78.48" cy="398.92" r="1.25"/><circle cx="79.3" cy="399.02" r="1.25"/><circle cx="80.12" cy="399.1" r="1.25"/><circle cx="80.94" cy="399.14" r="1.25"/><circle cx="81.76" cy="399.17" r="1.25"/><circle cx="82.58" cy="399.2" r="1.25"/><circle cx="83.4" cy="399.24" r="1.25"/><circle cx="84.22" cy="399.27" r="1.25"/><circle cx="85.04" cy="399.3" r="1.25"/><circle cx="85.86" cy="399.33" r="1.25"/><circle cx="86.68" cy="399.37" r="1.25"/><circle cx="87.5" cy="399.4" r="1.25"/><circle cx="88.32" cy="399.43" r="1.25"/><circle cx="89.14" cy="399.47" r="1.25"/><circle cx="89.96" cy="399.5" r="1.25"/><circle cx="90.78" cy="399.51" r="1.25"/><circle cx="91.6" cy="399.52" r="1.25"/><circle cx="92.42" cy="399.52" r="1.25"/><circle cx="93.24" cy="399.53" r="1.25"/><circle cx="94.06" cy="399.54" r="1.25"/><circle cx="94.88" cy="399.55" r="1.25"/><circle cx="95.7" cy="399.56" r="1.25"/><circle cx="96.52" cy="399.57" r="1.25"/><circle cx="97.34" cy="399.57" r="1.25"/><circle cx="98.16" cy="399.58" r="1.25"/><circle cx="98.98" cy="399.59" r="1.25"/><circle cx="99.8" cy="399.6" r="1.25"/><circle cx="100.62" cy="399.6" r="1.25"/><circle cx="101.44" cy="399.59" r="1.25"/><circle cx="102.26" cy="399.59" r="1.25"/><circle cx="103.08" cy="399.59" r="1.25"/><circle cx="103.9" cy="399.58" r="1.25"/><circle cx="104.72" cy="399.58" r="1.25"/><circle cx="105.54" cy="399.58" r="1.25"/><circle cx="106.36" cy="399.57" r="1.25"/><circle cx="107.18" cy="399.57" r="1.25"/><circle cx="108" cy="399.57" r="1.25"/><circle cx="108.82" cy="399.56" r="1.25"/><circle cx="109.64" cy="399.56" r="1.25"/><circle cx="110.46" cy="399.56" r="1.25"/><circle cx="111.28" cy="399.55" r="1.25"/><circle cx="112.1" cy="399.55" r="1.25"/><circle cx="112.92" cy="399.55" r="1.25"/><circle cx="113.74" cy="399.54" r="1.25"/><circle cx="114.56" cy="399.54" r="1.25"/><circle cx="115.38" cy="399.54" r="1.25"/><circle cx="116.2" cy="399.53" r="1.25"/><circle cx="117.02" cy="399.53" r="1.25"/><circle cx="117.84" cy="399.53" r="1.25"/><circle cx="118.66" cy="399.52" r="1.25"/><circle cx="119.48" cy="399.52" r="1.25"/><circle cx="120.3" cy="399.52" r="1.25"/><circle cx="121.12" cy="399.51" r="1.25"/><circle cx="121.94" cy="399.51" r="1.25"/><circle cx="122.76" cy="399.51" r="1.25"/><circle cx="123.58" cy="399.5" r="1.25"/><circle cx="124.4" cy="399.5" r="1.25"/><circle cx="125.22" cy="399.49" r="1.25"/><circle cx="126.04" cy="399.49" r="1.25"/><circle cx="126.86" cy="399.49" r="1.25"/><circle cx="127.68" cy="399.48" r="1.25"/><circle cx="128.5" cy="399.48" r="1.25"/><circle cx="129.32" cy="399.48" r="1.25"/><circle cx="130.14" cy="399.47" r="1.25"/><circle cx="130.96" cy="399.47" r="1.25"/><circle cx="131.78" cy="399.47" r="1.25"/><circle cx="132.6" cy="399.46" r="1.25"/><circle cx="133.42" cy="399.46" r="1.25"/><circle cx="134.24" cy="399.46" r="1.25"/><circle cx="135.06" cy="399.45" r="1.25"/><circle cx="135.88" cy="399.45" r="1.25"/><circle cx="136.7" cy="399.45" r="1.25"/><circle cx="137.52" cy="399.44" r="1.25"/><circle cx="138.34" cy="399.44" r="1.25"/><circle cx="139.16" cy="399.44" r="1.25"/><circle cx="139.98" cy="399.43" r="1.25"/><circle cx="140.8" cy="399.43" r="1.25"/><circle cx="141.62" cy="399.43" r="1.25"/><circle cx="142.44" cy="399.42" r="1.25"/><circle cx="143.26" cy="399.42" r="1.25"/><circle cx="144.08" cy="399.42" r="1.25"/><circle cx="144.9" cy="399.41" r="1.25"/><circle cx="145.72" cy="399.41" r="1.25"/><circle cx="146.54" cy="399.41" r="1.25"/><circle cx="147.36" cy="399.4" r="1.25"/></g>
<rect x="17.5" y="298.2" width="130.7" height="112" fill="none" stroke="#555" stroke-width="1" />
<line x1="17.5" y1="410.2" x2="17.5" y2="407.7" stroke="#444" stroke-width="1" />
<line x1="50.2" y1="410.2" x2="50.2" y2="407.7" stroke="#444" stroke-width="1" />
<line x1="82.9" y1="410.2" x2="82.9" y2="407.7" stroke="#444" stroke-width="1" />
<line x1="115.6" y1="410.2" x2="115.6" y2="407.7" stroke="#444" stroke-width="1" />
<line x1="33.85" y1="410.2" x2="33.85" y2="408.7" stroke="#444" stroke-width="1" />
<line x1="66.55" y1="410.2" x2="66.55" y2="408.7" stroke="#444" stroke-width="1" />
<line x1="99.25" y1="410.2" x2="99.25" y2="408.7" stroke="#444" stroke-width="1" />
<line x1="131.95" y1="410.2" x2="131.95" y2="408.7" stroke="#444" stroke-width="1" />
<text x="17.5" y="420.5" font-size="9.5" text-anchor="middle" font-weight="normal" font-family='"Liberation Sans", sans-serif' fill="#222" >0</text>
<text x="50.2" y="420.5" font-size="9.5" text-anchor="middle" font-weight="normal" font-family='"Liberation Sans", sans-serif' fill="#222" >2</text>
<text x="82.9" y="420.5" font-size="9.5" text-anchor="middle" font-weight="normal" font-family='"Liberation Sans", sans-serif' fill="#222" >4</text>
<text x="115.6" y="420.5" font-size="9.5" text-anchor="middle" font-weight="normal" font-family='"Liberation Sans", sans-serif' fill="#222" >6</text>
<text x="84" y="429" font-size="10" text-anchor="middle" font-weight="normal" font-family='"Liberation Sans", sans-serif' fill="#222" >R (Å)</text>
<text x="11.8" y="354.2" font-size="9.3" text-anchor="middle" font-weight="normal" font-family='"Liberation Sans", sans-serif' fill="#222" transform="rotate(-90 11.8 354.2)" >FT (k<tspan font-size="6" dy="-3.3">2</tspan><tspan dy="3.3">X(k))</tspan></text>
<text x="6.6" y="307.8" font-size="17.5" text-anchor="start" font-weight="bold" font-family='"Liberation Serif", serif' fill="#111" >g</text>
<text x="20.8" y="309" font-size="8.1" text-anchor="start" font-weight="bold" font-family='"Liberation Sans", sans-serif' fill="#2020c8" >Ni <tspan font-style="italic">K</tspan>-edge&#160; FT EXAFS Fitting</text>
<line x1="90.3" y1="319" x2="105" y2="319" stroke="#222" stroke-width="1" />
<text x="106" y="322" font-size="7.8" text-anchor="start" font-weight="normal" font-family='"Liberation Sans", sans-serif' fill="#222" >Ni-N<tspan font-size="5.5" dy="2">4</tspan><tspan dy="-2">-O/C</tspan></text>
<circle cx="98.4" cy="330" r="1.4" fill="#d8a8a8" stroke="none" stroke-width="1" />
<text x="107" y="333" font-size="7.8" text-anchor="start" font-weight="normal" font-family='"Liberation Sans", sans-serif' fill="#222" >Fitting</text>
<path d="M178,329.2 C178.67,328.25 180.5,325.12 182,323.5 C183.5,321.88 185.33,320.62 187,319.5 C188.67,318.38 190.5,317.55 192,316.8 C193.5,316.05 194.5,315.8 196,315 C197.5,314.2 199.33,312.92 201,312 C202.67,311.08 204.33,310.2 206,309.5 C207.67,308.8 209.33,308.42 211,307.8 C212.67,307.18 214.17,306.3 216,305.8 C217.83,305.3 219.95,305.07 222,304.8 C224.05,304.53 225.3,304.37 228.3,304.2 C231.3,304.03 226.05,303.92 240,303.8 C253.95,303.68 300,303.55 312,303.5" fill="none" stroke="#3535d0" stroke-width="1.05" stroke-linejoin="round" stroke-linecap="round" stroke-dasharray="1.6,1.1"/>
<path d="M178,333.3 C178.67,332.25 180.5,328.8 182,327 C183.5,325.2 185.33,323.75 187,322.5 C188.67,321.25 190.5,320.27 192,319.5 C193.5,318.73 194.5,318.73 196,317.9 C197.5,317.07 199.33,315.48 201,314.5 C202.67,313.52 204.33,312.75 206,312 C207.67,311.25 209.33,310.62 211,310 C212.67,309.38 214.17,308.88 216,308.3 C217.83,307.72 219.5,307.05 222,306.5 C224.5,305.95 228,305.37 231,305 C234,304.63 226.5,304.53 240,304.3 C253.5,304.07 300,303.72 312,303.6" fill="none" stroke="#222" stroke-width="1.05" stroke-linejoin="round" stroke-linecap="round" stroke-dasharray="1.6,1.1"/>
<path d="M178,385.8 C179.07,383.77 182.4,377.73 184.4,373.6 C186.4,369.47 188.23,364.93 190,361 C191.77,357.07 192.92,353.75 195,350 C197.08,346.25 199.73,342.03 202.5,338.5 C205.27,334.97 209.35,330.92 211.6,328.8 C213.85,326.68 214.6,326.58 216,325.8 C217.4,325.02 217.95,325.07 220,324.1 C222.05,323.13 225.53,321.25 228.3,320 C231.07,318.75 233.82,318 236.6,316.6 C239.38,315.2 242.23,313.27 245,311.6 C247.77,309.93 250.45,307.83 253.2,306.6 C255.95,305.37 257.87,304.67 261.5,304.2 C265.13,303.73 266.58,303.9 275,303.8 C283.42,303.7 305.83,303.63 312,303.6" fill="none" stroke="#e03535" stroke-width="1.05" stroke-linejoin="round" stroke-linecap="round" stroke-dasharray="1.6,1.1"/>
<path d="M178.2,354.9 C179.23,353.58 182.27,349.48 184.4,347 C186.53,344.52 189.07,342.35 191,340 C192.93,337.65 193.95,335.55 196,332.9 C198.05,330.25 200.7,326.82 203.3,324.1 C205.9,321.38 209.48,318.32 211.6,316.6 C213.72,314.88 214.6,314.73 216,313.8 C217.4,312.87 217.95,312.05 220,311 C222.05,309.95 225.53,308.45 228.3,307.5 C231.07,306.55 233.82,305.85 236.6,305.3 C239.38,304.75 241.1,304.45 245,304.2 C248.9,303.95 248.83,303.9 260,303.8 C271.17,303.7 303.33,303.63 312,303.6" fill="none" stroke="#222" stroke-width="1.3" stroke-linejoin="round" stroke-linecap="round" />
<path d="M178.2,356.8 C178.67,355.85 179.97,352.98 181,351.1 C182.03,349.22 183.23,347.35 184.4,345.5 C185.57,343.65 186.73,341.75 188,340 C189.27,338.25 190.67,336.6 192,335 C193.33,333.4 194.12,332.63 196,330.4 C197.88,328.17 200.7,324.32 203.3,321.6 C205.9,318.88 209.48,315.9 211.6,314.1 C213.72,312.3 214.6,311.63 216,310.8 C217.4,309.97 217.95,309.93 220,309.1 C222.05,308.27 225.53,306.58 228.3,305.8 C231.07,305.02 232.98,304.73 236.6,304.4 C240.22,304.07 237.43,303.95 250,303.8 C262.57,303.65 301.67,303.55 312,303.5" fill="none" stroke="#2a2ad8" stroke-width="1.6" stroke-linejoin="round" stroke-linecap="round" />
<path d="M178.2,389.5 C179.23,388.42 181.82,385.5 184.4,383 C186.98,380.5 191.6,376.53 193.7,374.5 C195.8,372.47 196.12,371.58 197,370.8 C197.88,370.02 198,370.35 199,369.8 C200,369.25 200.9,369.43 203,367.5 C205.1,365.57 208.77,361.42 211.6,358.2 C214.43,354.98 217.22,351.8 220,348.2 C222.78,344.6 225.53,340.75 228.3,336.6 C231.07,332.45 233.82,327.18 236.6,323.3 C239.38,319.42 242.23,315.93 245,313.3 C247.77,310.67 250.45,308.95 253.2,307.5 C255.95,306.05 258.7,305.15 261.5,304.6 C264.3,304.05 263.58,304.27 270,304.2 C276.42,304.13 293.67,304.27 300,304.2 C306.33,304.13 306.17,304.25 308,303.8 C309.83,303.35 310.17,302.55 311,301.5 C311.83,300.45 312.67,298.17 313,297.5" fill="none" stroke="#e03030" stroke-width="1.4" stroke-linejoin="round" stroke-linecap="round" />
<rect x="177.8" y="298.2" width="136.4" height="111.4" fill="none" stroke="#777" stroke-width="1.2" />
<line x1="177.8" y1="303.5" x2="180.3" y2="303.5" stroke="#555" stroke-width="1" />
<line x1="177.8" y1="330.2" x2="180.3" y2="330.2" stroke="#555" stroke-width="1" />
<line x1="177.8" y1="356.9" x2="180.3" y2="356.9" stroke="#555" stroke-width="1" />
<line x1="177.8" y1="383.6" x2="180.3" y2="383.6" stroke="#555" stroke-width="1" />
<line x1="177.8" y1="410.3" x2="180.3" y2="410.3" stroke="#555" stroke-width="1" />
<line x1="177.8" y1="316.85" x2="179.3" y2="316.85" stroke="#555" stroke-width="1" />
<line x1="177.8" y1="343.55" x2="179.3" y2="343.55" stroke="#555" stroke-width="1" />
<line x1="177.8" y1="370.25" x2="179.3" y2="370.25" stroke="#555" stroke-width="1" />
<line x1="177.8" y1="396.95" x2="179.3" y2="396.95" stroke="#555" stroke-width="1" />
<line x1="177.8" y1="409.6" x2="177.8" y2="407.1" stroke="#555" stroke-width="1" />
<line x1="211.49" y1="409.6" x2="211.49" y2="407.1" stroke="#555" stroke-width="1" />
<line x1="245.18" y1="409.6" x2="245.18" y2="407.1" stroke="#555" stroke-width="1" />
<line x1="278.87" y1="409.6" x2="278.87" y2="407.1" stroke="#555" stroke-width="1" />
<line x1="312.56" y1="409.6" x2="312.56" y2="407.1" stroke="#555" stroke-width="1" />
<line x1="194.65" y1="409.6" x2="194.65" y2="408.1" stroke="#555" stroke-width="1" />
<line x1="228.34" y1="409.6" x2="228.34" y2="408.1" stroke="#555" stroke-width="1" />
<line x1="262.02" y1="409.6" x2="262.02" y2="408.1" stroke="#555" stroke-width="1" />
<line x1="295.72" y1="409.6" x2="295.72" y2="408.1" stroke="#555" stroke-width="1" />
<text x="175" y="306.1" font-size="7.2" text-anchor="end" font-weight="normal" font-family='"Liberation Sans", sans-serif' fill="#222" >0</text>
<text x="175" y="332.8" font-size="7.2" text-anchor="end" font-weight="normal" font-family='"Liberation Sans", sans-serif' fill="#222" >-10</text>
<text x="175" y="359.5" font-size="7.2" text-anchor="end" font-weight="normal" font-family='"Liberation Sans", sans-serif' fill="#222" >-20</text>
<text x="175" y="386.2" font-size="7.2" text-anchor="end" font-weight="normal" font-family='"Liberation Sans", sans-serif' fill="#222" >-30</text>
<text x="175" y="412.9" font-size="7.2" text-anchor="end" font-weight="normal" font-family='"Liberation Sans", sans-serif' fill="#222" >-40</text>
<text x="177.8" y="417.3" font-size="7.3" text-anchor="middle" font-weight="normal" font-family='"Liberation Sans", sans-serif' fill="#222" >-1.2</text>
<text x="211.49" y="417.3" font-size="7.3" text-anchor="middle" font-weight="normal" font-family='"Liberation Sans", sans-serif' fill="#222" >-0.9</text>
<text x="245.18" y="417.3" font-size="7.3" text-anchor="middle" font-weight="normal" font-family='"Liberation Sans", sans-serif' fill="#222" >-0.6</text>
<text x="278.87" y="417.3" font-size="7.3" text-anchor="middle" font-weight="normal" font-family='"Liberation Sans", sans-serif' fill="#222" >-0.3</text>
<text x="312.56" y="417.3" font-size="7.3" text-anchor="middle" font-weight="normal" font-family='"Liberation Sans", sans-serif' fill="#222" >0.0</text>
<text x="246.2" y="429.3" font-size="9.5" text-anchor="middle" font-weight="normal" font-family='"Liberation Sans", sans-serif' fill="#222" >Potential (V vs. RHE)</text>
<text x="161.5" y="372" font-size="9.2" text-anchor="middle" font-weight="normal" font-family='"Liberation Sans", sans-serif' fill="#222" transform="rotate(-90 161.5 372)" >Current density (mA cm<tspan font-size="6" dy="-3.3">-2</tspan><tspan dy="3.3">)</tspan></text>
<text x="154.6" y="310.5" font-size="17.5" text-anchor="start" font-weight="bold" font-family='"Liberation Serif", serif' fill="#111" >h</text>
<line x1="243" y1="348.4" x2="256.2" y2="348.4" stroke="#222" stroke-width="0.9" stroke-dasharray="1.6,1.1"/>
<text x="258.4" y="351.2" font-size="7.8" text-anchor="start" font-weight="normal" font-family='"Liberation Sans", sans-serif' fill="#222" >Ni-N<tspan font-size="6" dy="2">4</tspan><tspan dy="-2">/C-Ar</tspan></text>
<line x1="243" y1="359.8" x2="256.2" y2="359.8" stroke="#222" stroke-width="1.5" />
<text x="258.4" y="362.6" font-size="7.8" text-anchor="start" font-weight="normal" font-family='"Liberation Sans", sans-serif' fill="#222" >Ni-N<tspan font-size="6" dy="2">4</tspan><tspan dy="-2">/C-CO</tspan><tspan font-size="6" dy="2">2</tspan></text>
<line x1="243" y1="371.2" x2="256.2" y2="371.2" stroke="#e03535" stroke-width="0.9" stroke-dasharray="1.6,1.1"/>
<text x="258.4" y="374" font-size="7.8" text-anchor="start" font-weight="normal" font-family='"Liberation Sans", sans-serif' fill="#222" >Ni-N<tspan font-size="6" dy="2">4</tspan><tspan dy="-2">-O/C-Ar</tspan></text>
<line x1="243" y1="382.7" x2="256.2" y2="382.7" stroke="#e03030" stroke-width="1.5" />
<text x="258.4" y="385.5" font-size="7.8" text-anchor="start" font-weight="normal" font-family='"Liberation Sans", sans-serif' fill="#222" >Ni-N<tspan font-size="6" dy="2">4</tspan><tspan dy="-2">-O/C-CO</tspan><tspan font-size="6" dy="2">2</tspan></text>
<line x1="243" y1="394" x2="256.2" y2="394" stroke="#3535d0" stroke-width="0.9" stroke-dasharray="1.6,1.1"/>
<text x="258.4" y="396.8" font-size="7.8" text-anchor="start" font-weight="normal" font-family='"Liberation Sans", sans-serif' fill="#222" >NC-Ar</text>
<line x1="243" y1="403" x2="256.2" y2="403" stroke="#2a2ad8" stroke-width="1.5" />
<text x="258.4" y="405.8" font-size="7.8" text-anchor="start" font-weight="normal" font-family='"Liberation Sans", sans-serif' fill="#222" >NC-CO<tspan font-size="6" dy="2">2</tspan></text>
<rect x="353.2" y="341.46" width="5.4" height="68.34" fill="url(#gMa)" stroke="none" stroke-width="1" />
<rect x="358.6" y="313.41" width="5.4" height="96.39" fill="url(#gRe)" stroke="none" stroke-width="1" />
<rect x="364" y="384.3" width="5.4" height="25.5" fill="url(#gBl)" stroke="none" stroke-width="1" />
<rect x="386.1" y="332.79" width="5.4" height="77.01" fill="url(#gMa)" stroke="none" stroke-width="1" />
<rect x="391.5" y="309.33" width="5.4" height="100.47" fill="url(#gRe)" stroke="none" stroke-width="1" />
<rect x="396.9" y="379.2" width="5.4" height="30.6" fill="url(#gBl)" stroke="none" stroke-width="1" />
<rect x="418.9" y="334.83" width="5.4" height="74.97" fill="url(#gMa)" stroke="none" stroke-width="1" />
<rect x="424.3" y="312.39" width="5.4" height="97.41" fill="url(#gRe)" stroke="none" stroke-width="1" />
<rect x="429.7" y="380.22" width="5.4" height="29.58" fill="url(#gBl)" stroke="none" stroke-width="1" />
<rect x="452" y="352.17" width="5.4" height="57.63" fill="url(#gMa)" stroke="none" stroke-width="1" />
<rect x="457.4" y="313.41" width="5.4" height="96.39" fill="url(#gRe)" stroke="none" stroke-width="1" />
<rect x="462.8" y="381.24" width="5.4" height="28.56" fill="url(#gBl)" stroke="none" stroke-width="1" />
<rect x="343.3" y="299.2" width="135.2" height="110.6" fill="none" stroke="#8a8a8a" stroke-width="1" />
<line x1="340.8" y1="409.8" x2="343.3" y2="409.8" stroke="#444" stroke-width="1" />
<line x1="340.8" y1="384.3" x2="343.3" y2="384.3" stroke="#444" stroke-width="1" />
<line x1="340.8" y1="358.8" x2="343.3" y2="358.8" stroke="#444" stroke-width="1" />
<line x1="340.8" y1="333.3" x2="343.3" y2="333.3" stroke="#444" stroke-width="1" />
<line x1="340.8" y1="307.8" x2="343.3" y2="307.8" stroke="#444" stroke-width="1" />
<line x1="361.3" y1="409.8" x2="361.3" y2="412.3" stroke="#444" stroke-width="1" />
<line x1="394.2" y1="409.8" x2="394.2" y2="412.3" stroke="#444" stroke-width="1" />
<line x1="427" y1="409.8" x2="427" y2="412.3" stroke="#444" stroke-width="1" />
<line x1="460.1" y1="409.8" x2="460.1" y2="412.3" stroke="#444" stroke-width="1" />
<text x="340.9" y="412.4" font-size="7.1" text-anchor="end" font-weight="normal" font-family='"Liberation Sans", sans-serif' fill="#222" >0</text>
<text x="340.9" y="386.9" font-size="7.1" text-anchor="end" font-weight="normal" font-family='"Liberation Sans", sans-serif' fill="#222" >25</text>
<text x="340.9" y="361.4" font-size="7.1" text-anchor="end" font-weight="normal" font-family='"Liberation Sans", sans-serif' fill="#222" >50</text>
<text x="340.9" y="335.9" font-size="7.1" text-anchor="end" font-weight="normal" font-family='"Liberation Sans", sans-serif' fill="#222" >75</text>
<text x="340.9" y="310.4" font-size="7.1" text-anchor="end" font-weight="normal" font-family='"Liberation Sans", sans-serif' fill="#222" >100</text>
<text x="361.3" y="420" font-size="7.2" text-anchor="middle" font-weight="normal" font-family='"Liberation Sans", sans-serif' fill="#222" >-1.0</text>
<text x="394.2" y="420" font-size="7.2" text-anchor="middle" font-weight="normal" font-family='"Liberation Sans", sans-serif' fill="#222" >-0.9</text>
<text x="427" y="420" font-size="7.2" text-anchor="middle" font-weight="normal" font-family='"Liberation Sans", sans-serif' fill="#222" >-0.8</text>
<text x="460.1" y="420" font-size="7.2" text-anchor="middle" font-weight="normal" font-family='"Liberation Sans", sans-serif' fill="#222" >-0.7</text>
<text x="410.3" y="432" font-size="9.6" text-anchor="middle" font-weight="normal" font-family='"Liberation Sans", sans-serif' fill="#222" >Potential (V vs. RHE)</text>
<text x="329" y="373.8" font-size="11.2" text-anchor="middle" font-weight="normal" font-family='"Liberation Sans", sans-serif' fill="#222" transform="rotate(-90 329 373.8)" >Faradic efficiency (%)</text>
<text x="321.5" y="311.3" font-size="18.5" text-anchor="start" font-weight="bold" font-family='"Liberation Serif", serif' fill="#111" >i</text>
<rect x="355.8" y="301.3" width="12.2" height="5.2" fill="url(#gMa)" stroke="none" stroke-width="1" />
<text x="370" y="306.6" font-size="7.6" text-anchor="start" font-weight="normal" font-family='"Liberation Sans", sans-serif' fill="#222" >Ni-N<tspan font-size="5" dy="2">4</tspan><tspan dy="-2">/C</tspan></text>
<rect x="395.3" y="301.5" width="12.1" height="5.1" fill="url(#gRe)" stroke="none" stroke-width="1" />
<text x="409.5" y="306.6" font-size="7.6" text-anchor="start" font-weight="normal" font-family='"Liberation Sans", sans-serif' fill="#222" >Ni-N<tspan font-size="5" dy="2">4</tspan><tspan dy="-2">-O/C</tspan></text>
<rect x="442" y="301.5" width="12.3" height="5.1" fill="url(#gBl)" stroke="none" stroke-width="1" />
<text x="456" y="306.6" font-size="7.6" text-anchor="start" font-weight="normal" font-family='"Liberation Sans", sans-serif' fill="#222" >NC</text>
<line x1="14" y1="446.2" x2="148" y2="445.4" stroke="#8a5a3a" stroke-width="2.2" />
<line x1="14" y1="449.4" x2="148" y2="448.6" stroke="#8e6444" stroke-width="1.8" />
<line x1="44" y1="451.5" x2="65" y2="460.5" stroke="#a3abc9" stroke-width="3" />
<line x1="44" y1="450.7" x2="65" y2="459.7" stroke="#d4d8e8" stroke-width="0.8" />
<line x1="80.5" y1="452" x2="76.5" y2="459" stroke="#a3abc9" stroke-width="3" />
<line x1="80.5" y1="451.2" x2="76.5" y2="458.2" stroke="#d4d8e8" stroke-width="0.8" />
<line x1="106" y1="451.5" x2="87.5" y2="460.5" stroke="#a3abc9" stroke-width="3" />
<line x1="106" y1="450.7" x2="87.5" y2="459.7" stroke="#d4d8e8" stroke-width="0.8" />
<line x1="74.6" y1="468.6" x2="57.8" y2="459.2" stroke="#e040d8" stroke-width="2.9" />
<line x1="74.6" y1="468.6" x2="68" y2="455.5" stroke="#e040d8" stroke-width="2.9" />
<line x1="74.6" y1="468.6" x2="80" y2="455.5" stroke="#e040d8" stroke-width="2.9" />
<line x1="74.6" y1="468.6" x2="93.8" y2="459.2" stroke="#e040d8" stroke-width="2.9" />
<circle cx="30.3" cy="447.05" r="5.2" fill="url(#gC)" stroke="none" stroke-width="1" />
<circle cx="42.9" cy="447.74" r="5.2" fill="url(#gC)" stroke="none" stroke-width="1" />
<circle cx="66.9" cy="447.52" r="5.2" fill="url(#gC)" stroke="none" stroke-width="1" />
<circle cx="80.6" cy="447.4" r="5.2" fill="url(#gC)" stroke="none" stroke-width="1" />
<circle cx="107" cy="447.16" r="5.2" fill="url(#gC)" stroke="none" stroke-width="1" />
<circle cx="119.5" cy="446.25" r="5.2" fill="url(#gC)" stroke="none" stroke-width="1" />
<circle cx="144" cy="446.03" r="5.2" fill="url(#gC)" stroke="none" stroke-width="1" />
<line x1="73.6" y1="476" x2="72.8" y2="491" stroke="#e040d8" stroke-width="2.6" />
<line x1="72.8" y1="491" x2="72.3" y2="505" stroke="#f0ee20" stroke-width="2.8" />
<circle cx="74.8" cy="468.8" r="10.2" fill="url(#gCd)" stroke="none" stroke-width="1" />
<ellipse cx="71.9" cy="511.2" rx="8.2" ry="6.4" fill="url(#gS)"/>
<line x1="13" y1="505.4" x2="150" y2="505.4" stroke="#7a4d2e" stroke-width="2.2" />
<line x1="13" y1="508.8" x2="150" y2="508.8" stroke="#8e6040" stroke-width="2" />
<circle cx="20.3" cy="506.6" r="5" fill="url(#gC)" stroke="none" stroke-width="1" />
<circle cx="45.3" cy="506.6" r="5" fill="url(#gC)" stroke="none" stroke-width="1" />
<circle cx="57.8" cy="506.6" r="5" fill="url(#gC)" stroke="none" stroke-width="1" />
<circle cx="84.4" cy="506.6" r="5" fill="url(#gC)" stroke="none" stroke-width="1" />
<circle cx="96.9" cy="506.6" r="5" fill="url(#gC)" stroke="none" stroke-width="1" />
<circle cx="123.4" cy="506.6" r="5" fill="url(#gC)" stroke="none" stroke-width="1" />
<circle cx="135.9" cy="506.6" r="5" fill="url(#gC)" stroke="none" stroke-width="1" />
<text x="6" y="453.5" font-size="18" text-anchor="start" font-weight="bold" font-family='"Liberation Serif", serif' fill="#111" >j</text>
<text x="56.4" y="538.3" font-size="15" text-anchor="start" font-weight="bold" font-family='"Liberation Sans", sans-serif' fill="#111" >CdN<tspan font-size="10" dy="4.3">4</tspan><tspan dy="-4.3">S</tspan><tspan font-size="10" dy="4.3">1</tspan></text>
<polyline points="194.8,502 216.6,502 239.5,448.7 261.8,448.7 284.8,472.07 306.6,472.07 329.2,496.3 351.5,496.3" fill="none" stroke="#5ea8dc" stroke-width="1.1" stroke-linejoin="round" stroke-linecap="round" />
<polyline points="194.8,502 216.6,502 239.5,490.03 261.8,490.03 284.8,495.44 306.6,495.44 329.2,496.3 351.5,496.3" fill="none" stroke="#3f9f5a" stroke-width="1.1" stroke-linejoin="round" stroke-linecap="round" />
<polyline points="194.8,502 216.6,502 239.5,489.18 261.8,489.18 284.8,521.95 306.6,521.95 329.2,496.3 351.5,496.3" fill="none" stroke="#6b3b3b" stroke-width="1.1" stroke-linejoin="round" stroke-linecap="round" />
<polyline points="194.8,502 216.6,502 239.5,488.32 261.8,488.32 284.8,490.31 306.6,490.31 329.2,496.3 351.5,496.3" fill="none" stroke="#4a3ad0" stroke-width="1.1" stroke-linejoin="round" stroke-linecap="round" />
<polyline points="194.8,502 216.6,502 239.5,494.31 261.8,494.31 284.8,495.73 306.6,495.73 329.2,496.3 351.5,496.3" fill="none" stroke="#d8604c" stroke-width="1.1" stroke-linejoin="round" stroke-linecap="round" />
<polyline points="194.8,502 216.6,502 239.5,490.03 261.8,490.03 284.8,507.7 306.6,507.7 329.2,496.3 351.5,496.3" fill="none" stroke="#a9a23e" stroke-width="1.1" stroke-linejoin="round" stroke-linecap="round" />
<rect x="183.8" y="437.6" width="179.7" height="92.8" fill="none" stroke="#333" stroke-width="1" />
<line x1="181.3" y1="516.25" x2="183.8" y2="516.25" stroke="#333" stroke-width="1" />
<line x1="181.3" y1="502" x2="183.8" y2="502" stroke="#333" stroke-width="1" />
<line x1="181.3" y1="487.75" x2="183.8" y2="487.75" stroke="#333" stroke-width="1" />
<line x1="181.3" y1="473.5" x2="183.8" y2="473.5" stroke="#333" stroke-width="1" />
<line x1="181.3" y1="459.25" x2="183.8" y2="459.25" stroke="#333" stroke-width="1" />
<line x1="181.3" y1="445" x2="183.8" y2="445" stroke="#333" stroke-width="1" />
<text x="180" y="518.85" font-size="7.2" text-anchor="end" font-weight="bold" font-family='"Liberation Sans", sans-serif' fill="#222" >-0.5</text>
<text x="180" y="504.6" font-size="7.2" text-anchor="end" font-weight="bold" font-family='"Liberation Sans", sans-serif' fill="#222" >0.0</text>
<text x="180" y="490.35" font-size="7.2" text-anchor="end" font-weight="bold" font-family='"Liberation Sans", sans-serif' fill="#222" >0.5</text>
<text x="180" y="476.1" font-size="7.2" text-anchor="end" font-weight="bold" font-family='"Liberation Sans", sans-serif' fill="#222" >1.0</text>
<text x="180" y="461.85" font-size="7.2" text-anchor="end" font-weight="bold" font-family='"Liberation Sans", sans-serif' fill="#222" >1.5</text>
<text x="180" y="447.6" font-size="7.2" text-anchor="end" font-weight="bold" font-family='"Liberation Sans", sans-serif' fill="#222" >2.0</text>
<text x="164.6" y="487.8" font-size="7.6" text-anchor="middle" font-weight="bold" font-family='"Liberation Sans", sans-serif' fill="#222" transform="rotate(-90 164.6 487.8)" >Free energy / eV</text>
<text x="156.6" y="451.9" font-size="18.5" text-anchor="start" font-weight="bold" font-family='"Liberation Serif", serif' fill="#111" >k</text>
<text x="204.6" y="538.6" font-size="7.8" text-anchor="middle" font-weight="bold" font-family='"Liberation Sans", sans-serif' fill="#222" >CO<tspan font-size="5.5">2</tspan> + *</text>
<text x="246.7" y="538.6" font-size="7.8" text-anchor="middle" font-weight="bold" font-family='"Liberation Sans", sans-serif' fill="#222" >*COOH</text>
<text x="297.7" y="538.6" font-size="7.8" text-anchor="middle" font-weight="bold" font-family='"Liberation Sans", sans-serif' fill="#222" >*CO + H<tspan font-size="5.5">2</tspan>O</text>
<text x="344.8" y="538.6" font-size="7.8" text-anchor="middle" font-weight="bold" font-family='"Liberation Sans", sans-serif' fill="#222" >CO + *</text>
<text x="277.4" y="546.3" font-size="7.5" text-anchor="middle" font-weight="bold" font-family='"Liberation Sans", sans-serif' fill="#222" >Reaction coordinates</text>
<line x1="327" y1="448.6" x2="337.3" y2="448.6" stroke="#6b3b3b" stroke-width="1.2" />
<text x="339" y="450.3" font-size="4.8" text-anchor="start" font-weight="bold" font-family='"Liberation Sans", sans-serif' fill="#333" >FeN<tspan font-size="3.5">4</tspan></text>
<line x1="327" y1="455.1" x2="337.3" y2="455.1" stroke="#4a3ad0" stroke-width="1.2" />
<text x="339" y="456.8" font-size="4.8" text-anchor="start" font-weight="bold" font-family='"Liberation Sans", sans-serif' fill="#333" >CoN<tspan font-size="3.5">4</tspan></text>
<line x1="327" y1="461.5" x2="337.3" y2="461.5" stroke="#5ea8dc" stroke-width="1.2" />
<text x="339" y="463.2" font-size="4.8" text-anchor="start" font-weight="bold" font-family='"Liberation Sans", sans-serif' fill="#333" >NiN<tspan font-size="3.5">4</tspan></text>
<line x1="327" y1="467.6" x2="337.3" y2="467.6" stroke="#3f9f5a" stroke-width="1.2" />
<text x="339" y="469.3" font-size="4.8" text-anchor="start" font-weight="bold" font-family='"Liberation Sans", sans-serif' fill="#333" >CdN<tspan font-size="3.5">4</tspan></text>
<line x1="327" y1="473.7" x2="337.3" y2="473.7" stroke="#a9a23e" stroke-width="1.2" />
<text x="339" y="475.4" font-size="4.8" text-anchor="start" font-weight="bold" font-family='"Liberation Sans", sans-serif' fill="#333" >CdN<tspan font-size="3.5">3</tspan></text>
<line x1="327" y1="479.8" x2="337.3" y2="479.8" stroke="#d8604c" stroke-width="1.2" />
<text x="339" y="481.5" font-size="4.8" text-anchor="start" font-weight="bold" font-family='"Liberation Sans", sans-serif' fill="#333" >CdN<tspan font-size="3.5">4</tspan>S<tspan font-size="3.5">1</tspan></text>
<polyline points="399.8,519.6 415.1,519.6 428.8,453.5 443.5,453.5 457.2,519.6 471.8,519.6" fill="none" stroke="#6ab0e0" stroke-width="1.1" stroke-linejoin="round" stroke-linecap="round" />
<polyline points="399.8,519.6 415.1,519.6 428.8,509.4 443.5,509.4 457.2,519.6 471.8,519.6" fill="none" stroke="#c8c890" stroke-width="1.6" stroke-linejoin="round" stroke-linecap="round" />
<polyline points="399.8,519.6 415.1,519.6 428.8,510.22 443.5,510.22 457.2,519.6 471.8,519.6" fill="none" stroke="#40a050" stroke-width="1.6" stroke-linejoin="round" stroke-linecap="round" />
<polyline points="399.8,519.6 415.1,519.6 428.8,507.36 443.5,507.36 457.2,519.6 471.8,519.6" fill="none" stroke="#3f35c0" stroke-width="1.6" stroke-linejoin="round" stroke-linecap="round" />
<polyline points="399.8,519.6 415.1,519.6 428.8,501.04 443.5,501.04 457.2,519.6 471.8,519.6" fill="none" stroke="#d84a3c" stroke-width="1.6" stroke-linejoin="round" stroke-linecap="round" />
<polyline points="399.8,519.6 415.1,519.6 428.8,499.81 443.5,499.81 457.2,519.6 471.8,519.6" fill="none" stroke="#b5743c" stroke-width="1.6" stroke-linejoin="round" stroke-linecap="round" />
<line x1="399.5" y1="519.6" x2="415.4" y2="519.6" stroke="#c8c890" stroke-width="2.1" />
<line x1="456.9" y1="519.6" x2="472.1" y2="519.6" stroke="#c8c890" stroke-width="2.1" />
<rect x="393" y="437.6" width="84.7" height="91.7" fill="none" stroke="#333" stroke-width="1" />
<line x1="390.5" y1="519.6" x2="393" y2="519.6" stroke="#333" stroke-width="1" />
<line x1="390.5" y1="499.2" x2="393" y2="499.2" stroke="#333" stroke-width="1" />
<line x1="390.5" y1="478.8" x2="393" y2="478.8" stroke="#333" stroke-width="1" />
<line x1="390.5" y1="458.4" x2="393" y2="458.4" stroke="#333" stroke-width="1" />
<line x1="391.5" y1="509.4" x2="393" y2="509.4" stroke="#333" stroke-width="1" />
<line x1="391.5" y1="489" x2="393" y2="489" stroke="#333" stroke-width="1" />
<line x1="391.5" y1="468.6" x2="393" y2="468.6" stroke="#333" stroke-width="1" />
<text x="389.8" y="522.2" font-size="7.3" text-anchor="end" font-weight="bold" font-family='"Liberation Sans", sans-serif' fill="#222" >0.0</text>
<text x="389.8" y="501.8" font-size="7.3" text-anchor="end" font-weight="bold" font-family='"Liberation Sans", sans-serif' fill="#222" >0.5</text>
<text x="389.8" y="481.4" font-size="7.3" text-anchor="end" font-weight="bold" font-family='"Liberation Sans", sans-serif' fill="#222" >1.0</text>
<text x="389.8" y="461" font-size="7.3" text-anchor="end" font-weight="bold" font-family='"Liberation Sans", sans-serif' fill="#222" >1.5</text>
<text x="377.8" y="480.7" font-size="7.3" text-anchor="middle" font-weight="bold" font-family='"Liberation Sans", sans-serif' fill="#222" transform="rotate(-90 377.8 480.7)" >Free energy / eV</text>
<rect x="375.7" y="438.6" width="2.9" height="11.4" fill="#111" stroke="none" stroke-width="1" />
<text x="409.2" y="536.6" font-size="7.6" text-anchor="middle" font-weight="bold" font-family='"Liberation Sans", sans-serif' fill="#222" >H<tspan font-size="5.5" dy="-3">+</tspan><tspan dy="3">+ e</tspan><tspan font-size="5.5" dy="-3">-</tspan></text>
<text x="438" y="536.6" font-size="7.6" text-anchor="middle" font-weight="bold" font-family='"Liberation Sans", sans-serif' fill="#222" >H *</text>
<text x="463.8" y="536.6" font-size="7.6" text-anchor="middle" font-weight="bold" font-family='"Liberation Sans", sans-serif' fill="#222" >1/2 H<tspan font-size="6">2</tspan></text>
<text x="436.5" y="545.6" font-size="7.15" text-anchor="middle" font-weight="bold" font-family='"Liberation Sans", sans-serif' fill="#222" >Reaction coordinates</text>
<line x1="396" y1="442.7" x2="405.3" y2="442.7" stroke="#b5743c" stroke-width="1.8" />
<text x="407" y="444.5" font-size="5" text-anchor="start" font-weight="bold" font-family='"Liberation Sans", sans-serif' fill="#333" >FeN<tspan font-size="3.5">4</tspan></text>
<line x1="396" y1="448.6" x2="405.3" y2="448.6" stroke="#3f35c0" stroke-width="1.8" />
<text x="407" y="450.4" font-size="5" text-anchor="start" font-weight="bold" font-family='"Liberation Sans", sans-serif' fill="#333" >CoN<tspan font-size="3.5">4</tspan></text>
<line x1="396" y1="455.1" x2="405.3" y2="455.1" stroke="#6ab0e0" stroke-width="1.8" />
<text x="407" y="456.9" font-size="5" text-anchor="start" font-weight="bold" font-family='"Liberation Sans", sans-serif' fill="#333" >NiN<tspan font-size="3.5">4</tspan></text>
<line x1="396" y1="460.6" x2="405.3" y2="460.6" stroke="#40a050" stroke-width="1.8" />
<text x="407" y="462.4" font-size="5" text-anchor="start" font-weight="bold" font-family='"Liberation Sans", sans-serif' fill="#333" >CdN<tspan font-size="3.5">4</tspan></text>
<line x1="396" y1="466.2" x2="405.3" y2="466.2" stroke="#c8c890" stroke-width="1.8" />
<text x="407" y="468" font-size="5" text-anchor="start" font-weight="bold" font-family='"Liberation Sans", sans-serif' fill="#333" >CdN<tspan font-size="3.5">3</tspan></text>
<line x1="396" y1="472.1" x2="405.3" y2="472.1" stroke="#d84a3c" stroke-width="1.8" />
<text x="407" y="473.9" font-size="5" text-anchor="start" font-weight="bold" font-family='"Liberation Sans", sans-serif' fill="#333" >CdN<tspan font-size="3.5">4</tspan>S<tspan font-size="3.5">1</tspan></text></svg>
</body></html>
